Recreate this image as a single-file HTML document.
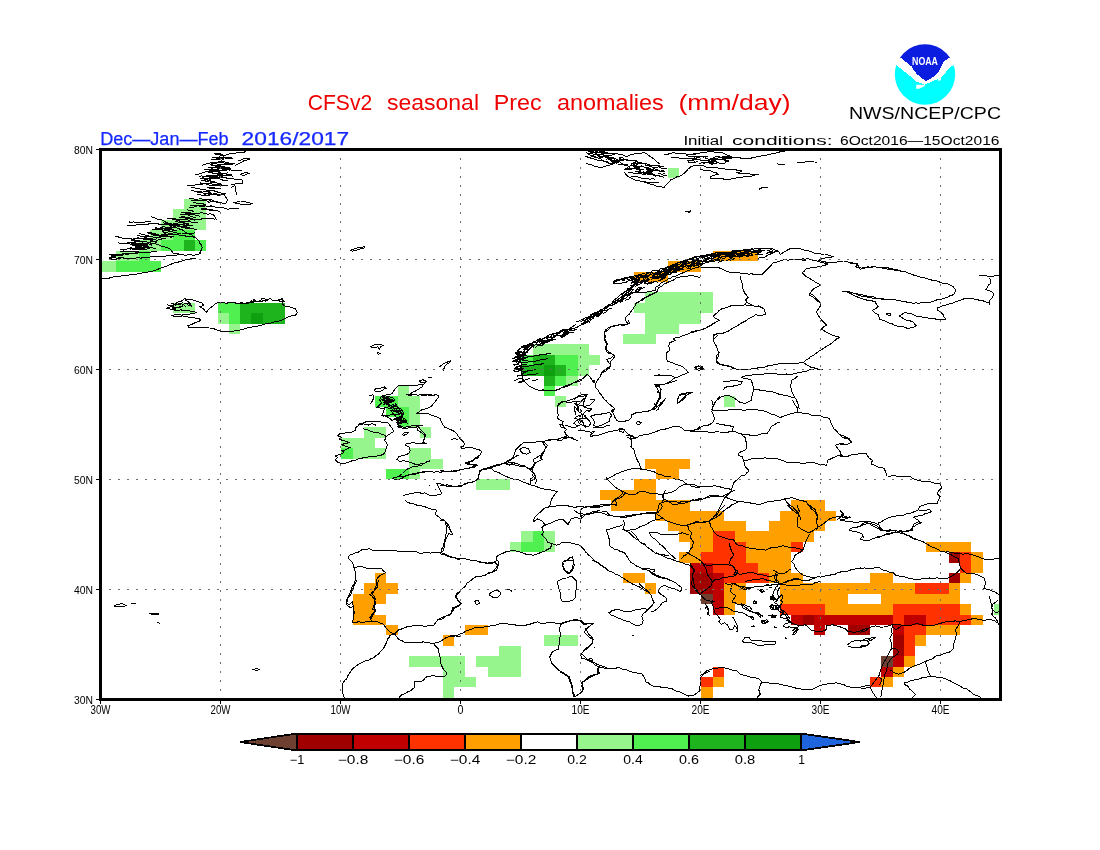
<!DOCTYPE html>
<html><head><meta charset="utf-8"><style>
html,body{margin:0;padding:0;background:#fff;}
svg{display:block;}
text{font-family:"Liberation Sans",sans-serif;}
.gs{filter:grayscale(1);}
.ns{filter:contrast(1.0001);}
</style></head><body>
<svg width="1100" height="850" viewBox="0 0 1100 850">
<rect width="1100" height="850" fill="#fff"/>
<clipPath id="mapclip"><rect x="100" y="149" width="901" height="551"/></clipPath>
<g clip-path="url(#mapclip)" shape-rendering="crispEdges">
<rect x="668" y="168" width="11" height="10" fill="#96f58c"/>
<rect x="184" y="199" width="22" height="10" fill="#96f58c"/>
<rect x="173" y="209" width="33" height="11" fill="#96f58c"/>
<rect x="161" y="220" width="45" height="10" fill="#96f58c"/>
<rect x="150" y="230" width="23" height="10" fill="#96f58c"/>
<rect x="173" y="230" width="22" height="10" fill="#50f050"/>
<rect x="139" y="240" width="22" height="11" fill="#96f58c"/>
<rect x="161" y="240" width="23" height="11" fill="#50f050"/>
<rect x="184" y="240" width="11" height="11" fill="#1eb41e"/>
<rect x="195" y="240" width="11" height="11" fill="#50f050"/>
<rect x="116" y="251" width="23" height="10" fill="#96f58c"/>
<rect x="139" y="251" width="11" height="10" fill="#50f050"/>
<rect x="713" y="251" width="45" height="10" fill="#ffa000"/>
<rect x="94" y="261" width="22" height="11" fill="#96f58c"/>
<rect x="116" y="261" width="45" height="11" fill="#50f050"/>
<rect x="668" y="261" width="33" height="11" fill="#ffa000"/>
<rect x="634" y="272" width="34" height="10" fill="#ffa000"/>
<rect x="645" y="292" width="68" height="11" fill="#96f58c"/>
<rect x="173" y="303" width="22" height="10" fill="#96f58c"/>
<rect x="218" y="303" width="22" height="10" fill="#50f050"/>
<rect x="240" y="303" width="45" height="10" fill="#1eb41e"/>
<rect x="634" y="303" width="79" height="10" fill="#96f58c"/>
<rect x="218" y="313" width="11" height="11" fill="#96f58c"/>
<rect x="229" y="313" width="11" height="11" fill="#50f050"/>
<rect x="240" y="313" width="11" height="11" fill="#1eb41e"/>
<rect x="251" y="313" width="12" height="11" fill="#0fa00f"/>
<rect x="263" y="313" width="22" height="11" fill="#1eb41e"/>
<rect x="645" y="313" width="56" height="11" fill="#96f58c"/>
<rect x="229" y="324" width="11" height="10" fill="#96f58c"/>
<rect x="645" y="324" width="34" height="10" fill="#96f58c"/>
<rect x="623" y="334" width="33" height="10" fill="#96f58c"/>
<rect x="533" y="344" width="56" height="11" fill="#96f58c"/>
<rect x="521" y="355" width="12" height="10" fill="#50f050"/>
<rect x="533" y="355" width="22" height="10" fill="#1eb41e"/>
<rect x="555" y="355" width="23" height="10" fill="#50f050"/>
<rect x="578" y="355" width="22" height="10" fill="#96f58c"/>
<rect x="521" y="365" width="23" height="11" fill="#1eb41e"/>
<rect x="544" y="365" width="11" height="11" fill="#0fa00f"/>
<rect x="555" y="365" width="11" height="11" fill="#1eb41e"/>
<rect x="566" y="365" width="12" height="11" fill="#50f050"/>
<rect x="578" y="365" width="11" height="11" fill="#96f58c"/>
<rect x="544" y="376" width="11" height="10" fill="#1eb41e"/>
<rect x="555" y="376" width="11" height="10" fill="#50f050"/>
<rect x="566" y="376" width="12" height="10" fill="#96f58c"/>
<rect x="398" y="386" width="11" height="10" fill="#96f58c"/>
<rect x="544" y="386" width="11" height="10" fill="#50f050"/>
<rect x="375" y="396" width="23" height="11" fill="#50f050"/>
<rect x="398" y="396" width="22" height="11" fill="#96f58c"/>
<rect x="555" y="396" width="11" height="11" fill="#96f58c"/>
<rect x="724" y="396" width="11" height="11" fill="#96f58c"/>
<rect x="386" y="407" width="23" height="10" fill="#50f050"/>
<rect x="409" y="407" width="11" height="10" fill="#96f58c"/>
<rect x="398" y="417" width="11" height="10" fill="#50f050"/>
<rect x="409" y="417" width="11" height="10" fill="#96f58c"/>
<rect x="364" y="427" width="22" height="11" fill="#96f58c"/>
<rect x="420" y="427" width="11" height="11" fill="#96f58c"/>
<rect x="341" y="438" width="34" height="10" fill="#96f58c"/>
<rect x="341" y="448" width="12" height="11" fill="#50f050"/>
<rect x="353" y="448" width="33" height="11" fill="#96f58c"/>
<rect x="409" y="448" width="22" height="11" fill="#96f58c"/>
<rect x="409" y="459" width="34" height="10" fill="#96f58c"/>
<rect x="645" y="459" width="45" height="10" fill="#ffa000"/>
<rect x="386" y="469" width="23" height="10" fill="#50f050"/>
<rect x="409" y="469" width="11" height="10" fill="#96f58c"/>
<rect x="656" y="469" width="23" height="10" fill="#ffa000"/>
<rect x="476" y="479" width="34" height="11" fill="#96f58c"/>
<rect x="634" y="479" width="22" height="11" fill="#ffa000"/>
<rect x="600" y="490" width="56" height="10" fill="#ffa000"/>
<rect x="611" y="500" width="79" height="11" fill="#ffa000"/>
<rect x="791" y="500" width="34" height="11" fill="#ffa000"/>
<rect x="656" y="511" width="68" height="10" fill="#ffa000"/>
<rect x="780" y="511" width="56" height="10" fill="#ffa000"/>
<rect x="668" y="521" width="78" height="10" fill="#ffa000"/>
<rect x="769" y="521" width="56" height="10" fill="#ffa000"/>
<rect x="521" y="531" width="12" height="11" fill="#96f58c"/>
<rect x="533" y="531" width="11" height="11" fill="#50f050"/>
<rect x="544" y="531" width="11" height="11" fill="#96f58c"/>
<rect x="679" y="531" width="34" height="11" fill="#ffa000"/>
<rect x="713" y="531" width="22" height="11" fill="#ff3200"/>
<rect x="735" y="531" width="79" height="11" fill="#ffa000"/>
<rect x="510" y="542" width="11" height="10" fill="#96f58c"/>
<rect x="521" y="542" width="23" height="10" fill="#50f050"/>
<rect x="544" y="542" width="11" height="10" fill="#96f58c"/>
<rect x="690" y="542" width="23" height="10" fill="#ffa000"/>
<rect x="713" y="542" width="33" height="10" fill="#ff3200"/>
<rect x="746" y="542" width="45" height="10" fill="#ffa000"/>
<rect x="791" y="542" width="12" height="10" fill="#ff3200"/>
<rect x="926" y="542" width="45" height="10" fill="#ffa000"/>
<rect x="679" y="552" width="22" height="11" fill="#ffa000"/>
<rect x="701" y="552" width="45" height="11" fill="#ff3200"/>
<rect x="746" y="552" width="45" height="11" fill="#ffa000"/>
<rect x="949" y="552" width="11" height="11" fill="#a00000"/>
<rect x="960" y="552" width="11" height="11" fill="#ff3200"/>
<rect x="971" y="552" width="12" height="11" fill="#ffa000"/>
<rect x="690" y="563" width="23" height="10" fill="#c00000"/>
<rect x="713" y="563" width="45" height="10" fill="#ff3200"/>
<rect x="758" y="563" width="33" height="10" fill="#ffa000"/>
<rect x="960" y="563" width="11" height="10" fill="#ff3200"/>
<rect x="971" y="563" width="12" height="10" fill="#ffa000"/>
<rect x="375" y="573" width="11" height="10" fill="#ffa000"/>
<rect x="623" y="573" width="22" height="10" fill="#ffa000"/>
<rect x="690" y="573" width="23" height="10" fill="#a00000"/>
<rect x="713" y="573" width="11" height="10" fill="#c00000"/>
<rect x="724" y="573" width="45" height="10" fill="#ff3200"/>
<rect x="769" y="573" width="34" height="10" fill="#ffa000"/>
<rect x="870" y="573" width="23" height="10" fill="#ffa000"/>
<rect x="949" y="573" width="11" height="10" fill="#a00000"/>
<rect x="960" y="573" width="11" height="10" fill="#ffa000"/>
<rect x="364" y="583" width="34" height="11" fill="#ffa000"/>
<rect x="645" y="583" width="11" height="11" fill="#ffa000"/>
<rect x="690" y="583" width="23" height="11" fill="#a00000"/>
<rect x="713" y="583" width="11" height="11" fill="#c00000"/>
<rect x="724" y="583" width="22" height="11" fill="#ffa000"/>
<rect x="780" y="583" width="135" height="11" fill="#ffa000"/>
<rect x="915" y="583" width="34" height="11" fill="#ff3200"/>
<rect x="949" y="583" width="11" height="11" fill="#ffa000"/>
<rect x="353" y="594" width="33" height="10" fill="#ffa000"/>
<rect x="701" y="594" width="12" height="10" fill="#6e4032"/>
<rect x="713" y="594" width="11" height="10" fill="#c00000"/>
<rect x="724" y="594" width="22" height="10" fill="#ffa000"/>
<rect x="780" y="594" width="68" height="10" fill="#ffa000"/>
<rect x="881" y="594" width="79" height="10" fill="#ffa000"/>
<rect x="353" y="604" width="22" height="11" fill="#ffa000"/>
<rect x="713" y="604" width="11" height="11" fill="#c00000"/>
<rect x="724" y="604" width="11" height="11" fill="#ffa000"/>
<rect x="780" y="604" width="45" height="11" fill="#ff3200"/>
<rect x="825" y="604" width="68" height="11" fill="#ffa000"/>
<rect x="893" y="604" width="67" height="11" fill="#ff3200"/>
<rect x="960" y="604" width="11" height="11" fill="#ffa000"/>
<rect x="994" y="604" width="11" height="11" fill="#96f58c"/>
<rect x="353" y="615" width="33" height="10" fill="#ffa000"/>
<rect x="791" y="615" width="12" height="10" fill="#c00000"/>
<rect x="803" y="615" width="11" height="10" fill="#a00000"/>
<rect x="814" y="615" width="79" height="10" fill="#c00000"/>
<rect x="893" y="615" width="11" height="10" fill="#ff3200"/>
<rect x="904" y="615" width="22" height="10" fill="#c00000"/>
<rect x="926" y="615" width="45" height="10" fill="#ff3200"/>
<rect x="971" y="615" width="12" height="10" fill="#ffa000"/>
<rect x="386" y="625" width="12" height="10" fill="#ffa000"/>
<rect x="465" y="625" width="23" height="10" fill="#ffa000"/>
<rect x="814" y="625" width="11" height="10" fill="#c00000"/>
<rect x="848" y="625" width="22" height="10" fill="#a00000"/>
<rect x="893" y="625" width="11" height="10" fill="#c00000"/>
<rect x="904" y="625" width="22" height="10" fill="#ff3200"/>
<rect x="926" y="625" width="34" height="10" fill="#ffa000"/>
<rect x="443" y="635" width="11" height="11" fill="#ffa000"/>
<rect x="544" y="635" width="34" height="11" fill="#96f58c"/>
<rect x="893" y="635" width="11" height="11" fill="#a00000"/>
<rect x="904" y="635" width="11" height="11" fill="#ff3200"/>
<rect x="915" y="635" width="11" height="11" fill="#ffa000"/>
<rect x="499" y="646" width="22" height="10" fill="#96f58c"/>
<rect x="893" y="646" width="11" height="10" fill="#a00000"/>
<rect x="904" y="646" width="11" height="10" fill="#ff3200"/>
<rect x="409" y="656" width="56" height="11" fill="#96f58c"/>
<rect x="476" y="656" width="45" height="11" fill="#96f58c"/>
<rect x="881" y="656" width="12" height="11" fill="#6e4032"/>
<rect x="893" y="656" width="11" height="11" fill="#c00000"/>
<rect x="904" y="656" width="11" height="11" fill="#ffa000"/>
<rect x="443" y="667" width="22" height="10" fill="#96f58c"/>
<rect x="488" y="667" width="33" height="10" fill="#96f58c"/>
<rect x="713" y="667" width="11" height="10" fill="#ff3200"/>
<rect x="881" y="667" width="12" height="10" fill="#c00000"/>
<rect x="893" y="667" width="11" height="10" fill="#ffa000"/>
<rect x="443" y="677" width="33" height="10" fill="#96f58c"/>
<rect x="701" y="677" width="12" height="10" fill="#ff3200"/>
<rect x="713" y="677" width="11" height="10" fill="#ffa000"/>
<rect x="870" y="677" width="11" height="10" fill="#ff3200"/>
<rect x="881" y="677" width="12" height="10" fill="#ffa000"/>
<rect x="443" y="687" width="11" height="11" fill="#96f58c"/>
<rect x="701" y="687" width="12" height="11" fill="#ffa000"/>
<rect x="443" y="698" width="11" height="10" fill="#96f58c"/>
<rect x="701" y="698" width="12" height="10" fill="#ffa000"/>
</g>
<g clip-path="url(#mapclip)" fill="none" stroke="#000" stroke-width="1" stroke-linejoin="round" shape-rendering="crispEdges">
<polyline points="100.0,279.4 102.9,278.4 105.2,278.3 108.5,278.4 111.4,277.3 113.6,276.9 116.4,277.0 118.8,276.6 121.4,275.9 124.8,275.9 127.0,275.6 130.4,274.6 132.8,274.8 136.1,274.5 138.5,273.3 142.1,273.0 144.0,272.2 147.4,272.1 150.2,271.6 152.6,271.1 154.7,270.2 157.2,269.8 159.4,268.5 162.0,267.5 165.4,266.5 168.5,265.4 171.1,264.2 174.4,262.9 176.9,262.3 180.2,261.7 182.8,260.6 185.9,259.8 189.3,259.3 192.7,258.5 195.7,258.0"/>
<polyline points="109.1,254.7 111.5,254.4 114.0,255.1 116.9,254.6 119.0,254.7 121.9,254.4 124.4,254.0 128.3,254.1 130.7,253.9 133.9,253.8 136.5,253.3 139.1,252.5 142.1,252.5 144.9,253.0 148.5,252.1 151.0,252.0 154.0,251.4 156.5,251.1"/>
<polyline points="116.4,258.0 119.4,258.1 121.3,257.9 124.1,258.0 126.7,258.8 129.2,258.4 132.0,258.0 135.6,258.2 137.5,257.6 140.4,258.1 143.8,257.8 146.8,257.4 148.7,257.1 152.5,256.9 154.7,256.6 158.1,256.8 160.0,256.4 163.6,256.1 166.1,256.0 169.3,255.7 171.4,255.4 174.3,255.8 177.4,254.8 179.5,254.6 182.0,254.7 185.0,255.2 186.9,255.0 189.8,254.6 192.5,255.1 194.8,255.1 198.3,254.2 201.2,253.3"/>
<polyline points="115.5,236.5 117.9,236.8 120.9,237.9 124.8,238.2 127.3,238.3 130.2,238.5 133.8,240.0 136.5,240.2 138.7,240.6 141.5,241.4 145.0,241.1 147.4,242.0 149.8,242.6 152.0,243.6 154.7,243.8 157.3,244.4 160.2,245.6 163.2,246.8 165.9,247.2 169.3,248.4 171.6,250.8 172.9,252.9 175.9,253.5 178.6,253.8 182.0,254.7"/>
<polyline points="118.2,242.9 120.8,243.2 123.4,243.0 126.0,243.7 129.2,243.8 131.4,244.4 134.7,243.7 136.5,244.5 139.1,244.1 141.9,244.7"/>
<polyline points="120.1,249.3 123.1,249.3 125.1,249.4 128.1,248.7 129.8,248.9 132.8,248.9 135.6,248.6 138.9,248.5 142.1,247.6 144.4,247.6 147.4,247.5 150.8,247.5 153.1,248.0 156.5,248.4"/>
<polyline points="127.3,225.6 129.8,225.1 132.2,225.7 134.9,225.4 137.6,224.3 140.1,224.7 143.6,224.8 146.5,224.8 149.2,223.7 151.8,223.6 154.7,223.7 157.3,223.5 160.0,224.7 162.6,224.7 165.6,224.7 168.3,224.8 171.6,225.7 173.9,225.6 176.6,225.6 178.9,225.8 182.6,226.6 184.8,227.2 187.5,227.4 190.1,228.1 193.6,229.0 196.6,229.2"/>
<polyline points="129.2,221.9 131.3,222.6 133.8,221.9 136.9,222.7 139.1,222.2 141.9,222.8 145.4,222.0 148.1,221.8 151.0,221.0"/>
<polyline points="151.0,216.5 153.7,217.5 156.5,218.8 158.9,219.4 162.0,220.1 164.4,221.4 167.6,222.6 170.0,224.5 172.9,225.6 175.2,226.9 178.9,228.9 180.7,229.4 183.9,231.0 186.0,232.7 189.1,233.9 191.2,234.7 193.4,236.1 196.4,238.6 198.5,240.2 199.8,243.1 201.1,244.5 202.1,247.5 201.1,250.4 199.4,253.8"/>
<polyline points="167.5,218.3 170.2,218.9 172.2,218.2 174.7,218.9 177.4,219.1 180.2,219.2 183.4,219.0 186.2,219.3 189.0,220.2 192.3,219.5 194.8,220.1 197.5,219.4 199.7,219.5 203.2,218.5 205.7,218.3 209.0,218.6 211.7,218.3 214.9,219.2"/>
<polyline points="160.2,229.2 162.2,230.2 165.7,230.4 168.2,231.0 170.0,231.0 172.9,232.0 175.4,232.8 178.7,233.3 181.6,233.0 183.9,233.8 186.3,233.1 189.6,233.7 192.0,233.2 194.8,232.9"/>
<polyline points="189.3,212.8 191.5,213.3 194.8,213.3 197.3,213.2 199.0,213.1 202.1,212.8 204.6,213.7 207.9,214.1 210.6,213.9 213.0,214.6 215.2,216.9 216.7,220.1"/>
<polyline points="189.3,207.3 192.3,207.4 194.1,207.0 196.9,206.0 199.9,205.6 202.1,205.5 204.5,205.5 207.7,206.6 211.4,206.4 213.9,206.9 216.7,207.3 219.9,207.8 222.6,207.8 225.4,208.4 227.6,209.2 230.9,208.7 232.7,208.6 236.1,208.3 238.6,208.3"/>
<polyline points="189.3,198.2 192.0,198.6 194.3,199.0 196.7,199.5 199.0,200.2 202.1,200.0 204.9,200.7 207.8,201.1 210.2,200.9 213.0,201.9 215.8,202.0 217.9,203.0 220.9,202.7 223.0,203.2 225.8,203.7 227.6,200.0 225.7,197.1 224.0,194.6"/>
<polyline points="187.5,185.5 189.8,185.1 193.5,185.2 196.2,184.9 198.5,184.6 201.0,184.4 203.4,183.9 206.6,184.0 209.4,183.6 212.3,184.1 214.8,184.2 217.6,185.4 220.3,185.5 224.3,185.1 227.6,185.5"/>
<polyline points="191.2,187.3 193.6,187.9 197.1,188.2 200.3,189.2 203.0,189.2 205.7,190.0 208.1,190.0 210.9,190.9 214.3,190.9 216.7,191.8 219.6,192.6 222.4,193.3 225.8,193.7"/>
<polyline points="196.6,192.8 199.2,192.7 201.9,192.6 204.6,193.6 206.4,193.4 209.4,193.7 211.9,194.4 215.2,193.5 217.9,194.6 221.0,194.7 224.0,194.6"/>
<polyline points="194.8,174.5 197.7,174.4 200.4,173.7 203.4,172.6 205.7,171.8 208.5,171.6 211.2,171.5 213.8,171.5 215.9,170.8 218.5,170.9 220.8,170.8 223.9,170.5 226.3,170.1 228.2,169.9 231.3,170.0 233.8,170.0 236.8,170.0 239.2,170.9 242.2,170.9"/>
<polyline points="198.5,176.3 201.4,175.9 203.8,176.4 206.6,176.0 209.4,176.3 212.2,177.0 215.3,176.9 218.5,177.2 220.9,176.5 224.0,177.3 226.5,178.0 229.8,178.7 232.1,178.9 234.9,179.1 238.6,179.7 242.2,180.0 242.2,183.6 239.2,183.6 236.7,183.6 233.8,184.5 231.3,184.6"/>
<polyline points="202.1,165.4 204.7,164.4 207.5,163.6 210.4,162.8 213.0,162.7 215.7,162.5 218.0,162.4 220.8,161.9 224.0,161.8 225.9,162.2 228.5,162.8 231.3,163.6"/>
<polyline points="218.5,156.3 221.8,155.6 224.9,155.4 227.6,154.5 230.1,153.6 232.6,153.6 236.4,152.9 238.6,152.6 242.4,152.5 245.9,151.7"/>
<polyline points="234.9,165.4 237.5,164.5 240.3,162.6 242.2,161.8 244.1,160.5 246.7,160.1 249.5,159.0 246.8,158.3 244.0,158.1 241.5,159.8 238.6,160.9"/>
<polyline points="240.4,174.5 242.8,173.5 245.9,172.3 249.5,173.6 247.0,174.1 244.0,175.4 240.4,174.5"/>
<polyline points="231.3,187.3 234.9,185.5 235.9,189.0 235.7,191.0 236.7,194.6"/>
<polyline points="233.1,202.8 235.3,202.4 238.5,201.5 240.4,201.0 243.7,201.1 246.7,202.3 249.5,202.8 252.2,203.7 249.1,204.3 247.1,204.4 244.0,204.6 240.9,204.7 238.9,203.5 235.7,203.1 233.1,202.8"/>
<polyline points="209.4,172.7 212.4,172.8 215.9,173.7 218.5,173.6 221.1,174.7 224.7,175.2 227.6,175.4 230.6,175.8 233.1,176.3"/>
<polyline points="207.6,167.2 210.6,168.0 212.8,168.0 215.8,167.9 218.5,168.1 221.0,168.6 223.4,168.9 226.5,168.2 229.1,168.6 231.3,169.1"/>
<polyline points="209.4,178.2 212.1,178.5 214.7,178.1 218.0,178.5 220.3,179.1 222.4,180.0 225.0,180.7 227.6,180.9"/>
<polyline points="191.2,190.9 194.1,190.9 196.1,191.9 198.9,191.9 202.1,191.8"/>
<polyline points="202.1,209.2 204.8,209.7 207.8,209.8 210.3,210.2 213.0,210.1 215.0,210.4 218.1,211.1 220.3,211.9"/>
<polyline points="176.6,234.7 179.4,235.1 182.1,235.5 185.0,235.9 187.5,236.5 191.4,236.7 194.8,237.4"/>
<polyline points="350.7,250.2 354.7,248.9 357.2,247.9 360.2,247.8 364.7,246.5 363.8,248.4 360.7,248.6 358.3,249.6 355.2,250.7 352.0,251.1 350.7,250.2"/>
<polyline points="624.0,171.8 625.5,173.8 627.6,176.3 630.0,177.8 633.0,178.8 634.9,180.0 637.4,180.2 640.0,181.1 642.8,181.5 645.9,182.7 648.6,183.4 651.8,184.6 654.3,185.1 656.8,186.4 660.8,186.8 664.1,187.3 667.0,184.0 669.4,181.9 671.0,179.6 674.0,178.5 676.6,176.9 679.9,176.3 682.6,174.6 684.7,172.7 686.5,171.1 688.3,168.9 691.1,166.5 693.3,165.8 696.6,165.7 699.8,165.3 702.0,165.4"/>
<polyline points="585.7,152.6 589.0,153.4 592.1,153.6 594.8,154.5 597.3,155.0 599.6,156.1 602.1,156.3 605.1,157.0 607.1,158.2 609.4,159.0 612.1,160.7 613.9,161.1 616.7,162.7 614.4,163.2 611.5,164.0 609.4,165.4 606.4,166.0 604.6,166.4 602.1,167.2 598.2,167.0 594.8,166.3 592.0,165.1 588.9,164.4 585.7,162.7"/>
<polyline points="625.8,169.1 628.7,168.8 631.1,168.8 633.4,168.0 636.2,168.0 638.6,167.2 641.8,166.8 644.0,167.0 647.6,167.3 650.0,166.8 653.1,167.2 656.1,167.2 659.1,166.8 661.3,166.1 664.1,166.3"/>
<polyline points="627.6,172.7 629.8,172.9 632.9,172.9 635.4,173.9 638.6,173.6 641.5,173.9 644.2,174.5 646.4,173.9 648.3,174.6 651.3,174.5 654.3,175.3 657.9,175.4 660.4,176.3"/>
<polyline points="631.3,176.3 633.9,176.9 636.4,176.6 638.8,177.3 641.7,178.2 644.0,178.2 646.6,178.6 649.3,179.1 652.6,178.9 655.0,179.1"/>
<polyline points="642.2,181.8 644.9,181.8 647.5,182.8 650.3,182.5 653.1,182.7 656.4,182.9 658.6,182.7"/>
<polyline points="587.5,151.7 590.5,151.8 593.0,151.9 596.5,152.4 599.5,152.1 602.1,152.6 605.1,153.3 607.9,153.2 610.4,153.7 613.9,153.1 616.7,153.6 619.0,154.3 622.2,154.5 625.4,156.1 627.6,156.3 630.0,155.0 632.8,154.5 634.9,153.6 638.2,153.3 640.7,153.3 644.0,152.6 647.0,153.9 648.9,155.6 651.3,157.2 654.5,159.5 656.8,161.8 660.4,164.5"/>
<polyline points="664.1,154.5 667.5,154.3 669.9,153.6 673.2,152.6 676.1,153.4 679.3,153.6 682.3,153.6 685.1,153.6 688.5,154.7 691.4,154.5 694.3,153.8 697.2,153.7 700.0,153.6"/>
<polyline points="671.4,157.2 674.2,157.5 676.8,157.5 679.2,158.1 682.3,158.1 685.4,158.1 688.7,158.2 691.4,159.0 694.6,158.6 697.5,157.7 700.0,157.2"/>
<polyline points="631.3,163.6 635.1,163.5 638.6,162.7 642.7,163.1 645.9,163.6 648.1,164.5 651.3,165.4 654.5,165.8 657.8,165.3 660.4,165.4"/>
<polyline points="591.2,156.3 593.6,156.9 596.3,157.4 598.5,158.1 601.1,159.0 603.3,161.1 605.7,161.8 608.0,162.9 610.8,164.0 613.0,164.5"/>
<polyline points="596.6,159.9 600.7,160.8 603.9,160.9 606.5,161.6 609.4,162.7"/>
<polyline points="685.1,211.0 688.0,211.3 690.5,211.0 688.7,212.8"/>
<polyline points="634.9,304.0 637.6,302.1 639.0,301.4 642.2,300.4 644.0,298.5 646.7,297.2 648.4,296.2 651.3,294.9 654.5,293.4 656.8,292.1 658.6,287.6 661.6,286.2 664.1,283.9 666.6,283.0 669.9,281.3 673.2,280.3 676.8,277.5 679.2,277.1 682.3,276.6 686.0,276.5 689.6,275.7 692.9,275.7 696.9,276.6 700.0,277.5"/>
<polyline points="700.0,152.6 703.1,152.6 705.2,152.6 707.8,151.9 710.9,151.7 713.4,151.7 715.9,152.5 719.6,152.6 721.9,152.6 724.2,153.7 727.2,155.0 730.2,156.0 732.8,157.2 735.1,157.9 737.6,157.8 740.5,158.0 743.1,158.7 745.6,159.0 748.7,158.3 751.2,158.1 753.0,157.5 756.0,157.1 758.3,156.3 760.6,156.0 763.8,155.8 766.3,155.3 769.3,154.5 772.1,153.6 774.9,153.2 777.7,152.7 780.2,151.7 783.1,151.7 785.7,150.8"/>
<polyline points="700.0,159.9 703.2,160.7 706.2,160.3 709.1,160.9 712.1,161.5 715.4,161.6 718.2,162.7 714.4,163.4 710.9,163.6"/>
<polyline points="700.0,165.4 702.7,165.6 706.1,167.1 709.1,167.2 712.2,168.0 715.6,167.6 718.2,168.1 722.2,168.6 725.5,169.1 728.6,169.6 730.8,169.1 734.2,169.3 736.5,170.0 739.7,170.8 741.9,170.9 739.4,172.3 736.5,172.7 739.7,173.3 741.8,173.5 744.1,173.4 747.4,173.6 750.1,174.0 753.1,174.2 756.0,174.8 758.3,174.5 755.2,174.7 752.3,175.9 750.2,176.3 747.4,176.3 744.2,176.2 741.9,177.5 738.4,177.3 735.3,178.3 732.8,178.2 729.2,180.0 726.5,179.4 723.9,179.2 721.9,178.2 718.7,178.1 716.6,178.4 714.2,178.1 710.9,178.2 710.9,176.3 713.6,175.4 715.7,174.7 718.2,174.5 716.4,172.7 713.4,172.0 710.8,171.0 707.3,170.9 704.7,170.2 702.9,170.1 700.0,169.1"/>
<polyline points="776.6,163.6 780.2,164.5 784.8,164.5"/>
<polyline points="796.6,162.7 799.2,162.6 802.8,162.6 805.7,161.8 808.3,161.7 810.9,161.5 814.3,162.0 816.7,162.1"/>
<polyline points="759.3,189.1 762.9,187.3 765.8,187.3 768.4,186.9"/>
<polyline points="700.0,265.7 702.8,263.8 705.5,262.9 708.5,261.3 710.9,260.2 712.8,258.4"/>
<polyline points="712.8,257.5 714.8,256.8 717.1,256.3 719.7,254.9 722.9,254.3 724.5,254.1 727.3,252.9 729.4,252.9 732.2,251.7 734.9,251.4 737.9,250.8 739.8,251.3 742.7,250.4 745.6,250.2 747.8,249.3 750.9,249.5 753.5,249.1 756.1,248.7 758.3,248.4 761.6,248.4 765.6,248.4 769.8,248.1 772.9,248.9 776.0,250.4 778.4,251.1 780.2,254.7 783.9,252.0 786.3,250.7 789.2,249.1 791.2,248.4 793.9,248.5 796.8,248.8 799.8,248.6 802.1,249.3 804.1,250.0 806.5,250.2 809.4,251.1 812.6,252.1 815.3,253.5 818.5,253.8 821.6,254.1 824.7,254.0 827.6,254.7 830.6,256.0 833.1,256.6 830.2,257.5 827.3,257.5 824.0,258.4 821.2,259.0 818.5,260.2 821.4,261.1 824.5,261.6 827.6,262.9 830.6,262.8 833.6,262.0 836.7,262.0 840.2,261.3 843.2,261.0 845.9,261.1 848.1,262.1 851.7,262.6 854.2,263.2 856.8,263.9 858.4,266.2 860.4,269.3 862.7,268.6 865.6,267.9 867.7,266.6 870.7,267.3 873.3,266.9 876.0,267.0 878.7,267.5 881.4,267.6 883.3,268.6 886.2,268.9 889.0,269.3 891.4,269.3 894.7,270.2 897.5,270.1 900.0,270.2"/>
<polyline points="758.3,258.4 760.9,257.3 763.7,257.5 765.6,256.6 767.8,255.0 770.7,253.9 772.9,252.9 775.5,251.5 778.4,251.1"/>
<polyline points="700.0,267.5 703.0,267.6 705.1,267.1 708.0,267.0 710.7,267.2 712.9,267.3 715.5,267.7 718.2,267.5 721.3,268.7 723.2,269.3 726.1,271.1 729.2,272.1 732.3,272.2 735.2,272.8 737.9,272.9 741.1,273.1 743.8,273.9 746.3,273.8 749.2,274.1 751.8,273.8 754.1,274.5 756.2,274.3 759.1,274.3 762.0,274.8 763.5,272.8 765.1,271.4 767.1,269.2 769.3,267.5 771.3,265.2 772.9,262.9 776.3,262.4 778.5,261.5 782.0,260.2 784.5,259.5 788.3,260.2 790.9,259.7 793.9,259.4 796.6,259.3 799.2,259.1 802.5,260.2 805.7,260.2"/>
<polyline points="802.1,258.4 805.0,259.2 808.0,258.8 810.7,259.5 813.0,260.2 815.6,260.8 817.8,261.2 820.3,262.0 822.6,262.5 824.8,263.3 827.6,263.9 824.0,265.7 820.8,266.1 819.0,266.4 816.0,267.4 813.0,267.5 811.0,267.8 807.8,268.4 805.7,269.3 804.0,271.4 802.1,273.0 804.1,274.4 805.7,276.6 808.5,277.8 810.9,279.3 813.0,280.3 815.4,282.3 818.0,283.5 820.3,284.8 818.0,286.7 815.6,287.5 813.0,289.4 810.7,292.1 809.4,294.9 811.9,296.4 814.9,298.5 817.1,300.8 820.3,303.1"/>
<polyline points="740.1,276.6 740.8,279.0 741.4,281.8 742.8,283.9 742.8,288.0 743.8,291.2 746.0,294.1 747.4,296.7 746.8,299.1 746.2,301.9 745.6,304.0"/>
<polyline points="842.2,291.2 845.4,291.6 848.0,292.3 850.2,292.5 853.1,293.0 855.5,293.5 858.2,295.3 861.2,296.0 864.1,296.7 866.8,296.8 869.3,297.5 872.2,298.1 875.0,298.5 877.4,298.6 880.3,298.9 883.0,299.3 886.0,299.4 889.1,299.8 891.1,299.3 894.6,299.7 897.4,300.3 900.0,300.3"/>
<polyline points="849.5,293.0 852.4,294.7 854.2,295.6 856.8,296.7 858.8,297.4 862.2,298.7 864.1,299.4"/>
<polyline points="714.6,252.9 717.5,252.7 721.1,252.1 723.7,252.0 726.1,252.7 729.2,252.9 731.7,253.4 734.1,253.5 736.5,253.8 739.4,253.3 741.8,252.8 744.3,252.1 747.4,252.0 751.5,251.5 754.7,251.1"/>
<polyline points="718.2,256.6 720.7,255.9 723.2,256.5 726.0,256.2 729.2,255.7 732.3,256.5 734.1,256.4 737.7,256.6 740.1,257.5"/>
<polyline points="850.0,263.9 853.4,263.1 857.1,263.2 855.6,266.7 858.8,267.7 861.3,268.1 864.9,267.4 867.8,267.3 871.2,267.0 874.2,266.9 876.8,267.1 879.9,267.5 882.5,267.6 885.6,267.9 888.5,268.0 890.9,268.4 894.0,269.6 896.1,269.5 898.6,270.4 901.8,271.4 904.2,271.3 906.4,272.3 909.0,273.5 912.5,274.4 914.5,275.7 918.1,276.1 920.6,277.3 923.7,277.7 926.7,278.3 929.0,279.9 931.5,280.0 934.7,280.8 937.3,281.0 939.8,282.2 942.9,283.5 945.8,283.1 948.8,284.3 953.0,286.4 954.9,288.9 955.8,290.7 954.6,293.1 953.0,294.9 949.8,295.7 947.7,297.2 944.2,298.3 941.7,299.2 938.9,299.3 935.6,300.3 933.6,301.3 930.7,302.0 927.6,302.7 924.4,302.6 921.8,302.5 919.1,303.4 916.3,302.8 913.5,303.4 911.1,302.9 907.3,302.3 904.8,301.3 902.1,301.3 899.4,300.6 896.3,300.2 893.9,299.5 891.4,299.2 888.1,299.4 885.3,299.2 883.0,298.8 879.5,298.3 877.0,298.4 873.7,296.9 871.2,297.0 868.7,296.2 865.8,295.8 862.7,294.9 860.2,294.7 856.9,293.5 854.2,293.5 850.0,292.1"/>
<polyline points="850.0,292.8 852.9,294.9 855.6,296.3 858.1,297.6 861.3,298.4 864.1,299.2 867.1,300.2 869.3,300.9 872.5,301.0 875.4,302.0 876.3,304.1 878.2,306.9 874.9,309.2 872.6,310.4 875.4,313.1 878.2,314.7 879.0,316.9 879.6,319.6 883.4,320.3 886.7,321.7 889.0,323.1 892.0,323.7 893.7,324.8 896.6,326.0 899.5,326.7 902.1,326.7 904.7,327.2 906.7,328.1 909.3,328.1 912.8,327.4 916.3,326.0 913.5,322.4 910.2,320.9 906.4,320.3 904.2,319.3 901.8,317.3 899.4,316.1 901.8,314.5 905.0,312.6 908.4,313.4 912.1,314.0 914.8,315.6 917.7,316.8 920.4,316.6 923.8,317.3 926.8,317.6 929.0,318.2 932.4,319.0 934.7,318.9 937.0,319.2 940.2,319.6 943.3,319.9 946.0,319.6 944.2,317.3 943.1,314.7 940.6,312.0 937.5,310.4 937.5,307.6 939.8,307.0 943.0,305.7 946.0,305.1 948.8,304.1 951.8,303.6 954.3,302.4 957.3,301.2 960.0,300.3 962.9,299.2 965.4,298.5 968.8,298.7 971.4,298.4 974.1,299.0 976.7,299.2 979.8,300.6 982.7,300.6 985.9,302.1 989.7,302.7"/>
<polyline points="979.1,275.2 982.3,275.1 985.5,275.9 988.7,276.2 991.1,276.6 994.4,276.0 996.3,275.8 999.6,275.2"/>
<polyline points="989.7,278.0 990.4,280.6 990.4,283.6 988.6,285.0 987.2,287.8 985.5,289.3 988.2,290.4 990.7,291.3 992.5,292.1 993.9,294.9 992.2,297.7 989.7,300.6 989.7,304.8"/>
<polyline points="886.0,313.3 890.2,313.3 890.2,315.4 886.7,314.7 886.0,313.3"/>
<polyline points="165.8,309.0 167.8,307.5 170.3,306.9 173.1,305.4 175.5,303.6 178.9,301.7 181.7,300.6 184.7,298.8 187.7,299.3 190.5,299.5 193.0,300.1 196.4,301.0 199.8,302.3 202.2,303.2 203.6,305.4 199.3,306.8 203.6,309.0 206.5,312.6 208.0,309.7 210.9,307.5 213.1,306.0 215.3,303.9 218.2,302.5 222.2,302.3 225.5,303.2 229.6,302.8 232.7,302.2 235.6,302.9 238.4,303.7 241.5,303.9 244.7,303.6 246.9,303.5 250.2,302.5 252.7,302.5 254.8,301.3 257.4,301.0 260.4,301.0 261.8,298.8 264.5,299.0 267.5,299.3 270.5,298.8 273.5,301.0 277.5,300.7 280.7,299.5 283.6,300.3 282.2,303.9 284.1,305.5 286.5,306.8 289.5,306.9 292.1,307.8 295.3,308.3 297.5,312.6 295.3,315.5 291.6,315.9 288.0,317.0 285.6,318.1 282.2,319.9 279.4,320.9 276.5,321.7 273.5,322.1 270.6,323.2 267.1,323.0 264.7,324.3 262.3,324.9 259.8,325.7 257.0,326.1 254.5,326.5 250.9,327.3 247.3,327.9 244.1,329.1 241.5,329.4 238.5,330.4 235.8,330.6 232.7,331.5 229.7,331.1 227.6,331.5 224.8,331.7 222.5,331.5 219.9,331.1 218.0,330.5 215.3,329.4 212.9,328.2 209.3,328.0 206.5,327.2 202.7,327.1 199.3,327.2 196.5,327.1 193.7,327.3 191.5,327.9 189.1,327.9 187.6,325.7 190.3,325.0 193.5,323.5 195.5,322.4 198.4,321.4 200.7,320.6 199.3,318.5 195.9,318.1 192.0,317.7 188.4,317.0 184.7,316.3 182.0,315.9 180.1,316.5 177.6,316.3 174.5,316.7 171.6,315.5 175.1,314.7 178.9,314.8 181.4,315.1 184.2,314.4 186.6,314.7 189.1,314.1 192.7,313.8 196.4,312.6 193.5,311.2 191.2,311.3 188.2,310.7 185.9,310.3 183.3,310.5 180.8,309.8 178.2,310.4 175.4,310.4 173.1,309.7 169.7,308.9 165.8,309.0"/>
<polyline points="174.5,305.4 178.7,304.5 181.8,303.9 184.3,305.2 186.2,306.8"/>
<polyline points="184.7,299.5 187.4,301.3 189.1,302.5 190.5,303.9"/>
<polyline points="173.1,306.8 175.7,307.2 178.9,307.5 183.3,306.1"/>
<polyline points="370.1,346.8 374.0,344.9 376.6,344.2 379.2,344.5 383.1,345.3 380.5,346.8 379.2,349.4 377.9,346.8 374.0,347.5 370.1,346.8"/>
<polyline points="376.6,352.6 380.5,353.3 378.5,354.3 376.6,352.6"/>
<polyline points="439.4,366.9 442.6,364.3 446.5,362.4 450.4,360.8 449.7,362.4 446.5,364.3 444.8,366.4 443.9,368.8 443.2,371.4"/>
<polyline points="419.3,380.5 423.2,379.8 426.4,381.5 424.5,383.1 420.6,382.4 419.3,380.5"/>
<polyline points="427.7,378.1 431.6,377.6"/>
<polyline points="398.6,385.6 401.2,385.6 403.8,385.6 407.1,385.7 410.2,385.6 412.6,385.6 415.0,385.8 418.0,385.0 420.9,384.5 423.2,384.4 421.9,386.9 418.0,389.5 415.2,391.2 412.8,392.1 408.9,394.7 412.2,394.9 415.4,394.7 417.8,395.1 420.4,394.9 423.7,394.8 426.1,395.0 428.4,394.7 431.6,394.7"/>
<polyline points="398.6,385.6 396.9,387.1 394.7,389.5 392.1,393.4 389.5,394.6 386.9,394.7 384.7,395.7 381.8,396.0 379.2,399.9 381.8,402.5 379.3,405.3 376.6,407.6 379.3,407.7 381.9,408.6 384.4,408.9 383.4,411.8 381.8,415.4 384.6,415.5 386.9,416.7 390.8,419.3 392.1,420.6 396.0,418.0 397.1,420.2 397.3,423.2 398.6,427.1 400.6,427.5 403.8,428.4 406.6,428.2 410.2,427.7 412.7,427.6 415.9,427.3 418.0,426.4 420.9,425.6 423.2,425.8"/>
<polyline points="418.0,426.4 420.6,429.7 423.2,432.2 425.8,434.8 424.5,438.7"/>
<polyline points="380.5,397.3 382.7,396.3 385.6,396.0 388.7,396.8 392.1,397.3 394.7,399.9 390.8,402.5 388.3,402.3 385.6,402.5 388.2,405.1 391.1,406.2 394.7,406.4 398.6,407.6 402.5,410.2 403.8,414.1 399.9,416.7 397.3,419.3 399.7,419.8 402.5,420.6 404.4,418.0"/>
<polyline points="381.8,399.9 384.7,400.3 387.1,400.5 389.5,400.5"/>
<polyline points="384.4,407.6 387.1,407.7 389.3,408.6 392.1,408.9 394.4,411.4 397.3,412.8"/>
<polyline points="383.1,416.1 385.4,415.5 388.2,415.4 390.5,415.0 393.4,414.1"/>
<polyline points="374.0,389.5 376.4,388.7 379.2,388.2 382.2,387.9 384.4,386.9 386.3,388.2 383.8,389.1 381.8,390.8 377.9,392.1 374.0,390.8"/>
<polyline points="369.5,396.0 372.7,394.7 374.0,397.3 372.9,399.8 371.4,402.5 370.1,403.8"/>
<polyline points="406.4,394.7 410.2,395.4 414.1,394.7"/>
<polyline points="355.5,427.6 357.9,426.1 359.3,423.8 363.0,423.2 365.6,421.9 368.0,421.5 371.0,421.3 373.3,421.3 375.8,421.2 378.3,421.4 380.9,421.9 384.1,422.7 387.3,422.5 389.8,425.1 392.4,428.9 393.6,431.5 389.8,434.0 386.0,436.5 384.7,440.4 387.3,444.2 386.9,446.3 386.0,449.3 384.9,451.9 383.5,454.4 379.6,455.6 376.2,456.1 373.3,456.3 370.8,456.7 368.2,456.9 364.5,457.5 361.8,458.2 358.9,458.7 355.5,460.1 352.6,460.5 349.1,462.0 346.0,463.1 342.7,463.3 340.1,463.1 337.6,462.0 335.1,459.5 337.6,457.5 335.1,455.6 338.1,455.0 340.2,454.4 344.0,452.5 341.5,450.5 343.7,450.4 346.5,449.3 350.4,447.4 347.6,446.9 345.3,446.1 341.5,444.8 344.4,443.7 346.5,443.5 349.1,442.3 346.0,441.4 342.7,440.4 338.9,439.1 341.5,437.2 337.6,435.9 340.2,433.4 343.6,433.5 346.5,432.7 349.5,432.1 351.6,432.1 355.5,430.2 355.5,427.6"/>
<polyline points="363.1,428.9 366.1,429.2 368.2,430.2 371.2,431.7 373.3,432.1 375.7,432.4 378.4,432.7 381.4,434.2 383.5,434.6 386.0,436.5"/>
<polyline points="358.0,425.1 361.0,424.9 363.1,423.8 365.1,424.5 368.2,425.1 372.0,423.8 375.8,425.1"/>
<polyline points="397.5,422.5 398.9,425.0 401.3,426.4 403.6,427.2 406.4,427.0 409.6,426.4 412.7,425.7 416.4,425.8 419.1,425.1 423.5,425.3"/>
<polyline points="402.5,434.6 405.1,432.1 408.3,432.1 406.4,434.6 403.2,435.3 402.5,434.6"/>
<polyline points="416.5,426.4 417.8,430.2 421.6,432.7 424.8,435.3 424.2,439.1 422.9,442.3 426.7,443.5 424.1,443.2 421.6,443.5 418.7,443.0 416.5,443.3 414.0,442.8 411.5,442.9 408.6,443.5 406.4,443.5 405.1,445.5 408.9,446.7 410.2,450.5 408.9,453.1 406.7,454.4 403.8,455.6 401.6,455.9 398.7,456.9 396.8,459.5 400.0,461.4 403.8,460.7 406.8,461.8 408.9,462.0 411.8,463.0 414.0,463.9 416.1,464.4 419.1,464.5 421.3,463.5 424.2,463.3 427.2,461.7 430.5,460.7"/>
<polyline points="430.5,460.7 427.1,461.7 424.2,463.3 421.9,465.0 419.1,465.8 416.3,466.5 413.5,466.8 411.5,467.1 407.6,469.0 405.3,470.7 402.5,473.5 398.7,476.6 395.1,477.4 392.4,478.5 394.8,479.2 397.5,479.8 401.1,478.8 403.8,477.3 406.2,475.6 408.9,474.7 411.9,474.1 414.1,473.6 416.5,473.5 418.7,472.4 421.6,472.2 424.5,472.1 426.6,471.8 429.3,471.5"/>
<polyline points="402.5,496.4 406.4,494.5 409.5,493.9 412.7,493.2 416.1,492.6 419.1,492.5 421.4,493.3 424.6,492.9 426.7,493.8 429.2,495.0 431.8,495.7 433.9,495.5 436.9,495.1 439.0,494.5 442.0,493.8 440.7,491.4 439.5,488.7 437.8,486.0 436.9,483.6 439.5,483.5 442.0,484.3 444.2,485.3 447.1,486.2 449.2,486.4 452.5,486.6 454.7,486.8 457.9,486.5 461.1,486.2 464.9,483.6 467.0,483.0 470.0,482.4"/>
<polyline points="428.6,485.5 430.5,486.2"/>
<polyline points="434.4,488.7 435.6,489.4"/>
<polyline points="655.6,290.0 653.4,290.8 650.4,291.4 648.3,291.7 645.5,292.2 642.0,292.2 639.2,293.0 637.2,292.1 634.3,292.2 630.9,292.9 627.9,294.4 625.4,295.9 622.2,296.5 619.9,298.2 617.9,299.8 614.9,301.6 612.4,303.5 609.1,304.5 606.8,306.9 604.7,308.9 603.0,310.9 601.0,312.6 598.9,314.7 595.6,315.7 593.1,316.9 590.2,317.6 587.5,319.0 584.8,321.3 582.9,323.5 580.7,325.0 578.1,326.7 575.6,327.8 572.9,328.4 570.5,329.8 568.4,330.0 565.0,330.3 561.1,331.5 559.0,332.1 556.5,333.3 553.8,333.6 550.9,334.3 548.5,335.1 546.5,336.5 544.2,338.0 541.2,339.2 539.3,340.2 536.3,341.0 533.5,342.4 530.7,343.7 528.1,344.3 526.2,345.3 523.0,347.1 520.4,348.2 517.5,351.1 519.2,353.1 520.4,355.5 518.9,359.8 520.5,362.2 521.8,364.2 521.3,366.9 521.1,370.0 521.8,374.4 522.5,378.7 524.0,381.1 526.2,383.1 529.1,386.0 531.7,387.2 534.9,388.9 538.1,390.1 542.2,390.4 545.2,390.8 547.6,390.3 550.0,390.9 553.1,390.6 555.3,390.4 558.5,389.2 561.0,388.0 564.0,387.5 566.8,386.3 569.8,384.9 572.7,383.1 575.4,381.9 578.5,380.2 581.8,379.2 584.4,377.3 587.3,374.4 590.2,377.3 592.4,380.7 594.5,383.1"/>
<polyline points="520.4,358.4 523.3,357.5 525.9,357.1 529.1,356.9 532.2,356.9 535.3,355.5 537.8,355.5 541.0,354.6 543.4,354.7 546.5,354.0 550.9,353.3"/>
<polyline points="521.8,362.7 524.5,362.8 526.6,362.3 529.7,361.7 532.0,361.3 534.9,361.2 537.6,360.8 540.7,359.8 543.8,359.6 548.0,358.4"/>
<polyline points="521.8,367.1 525.2,366.2 528.2,366.1 530.5,365.6 533.9,365.0 537.8,364.2 540.4,364.3 543.6,363.5"/>
<polyline points="521.8,371.5 525.5,371.4 529.1,370.7 532.6,370.0 536.4,369.3"/>
<polyline points="523.3,375.8 526.0,375.1 529.1,374.8 532.0,374.4 534.5,374.5 537.8,373.6"/>
<polyline points="532.0,380.2 534.9,380.2 537.8,379.5"/>
<polyline points="657.1,291.5 655.2,292.5 652.3,293.9 649.8,294.6 647.5,296.6 645.5,297.3 643.4,298.6 640.7,300.0 638.8,302.0 636.7,303.1 635.3,305.4 633.8,307.5 632.6,309.4 630.9,311.8 629.3,314.3 627.2,315.7 625.1,317.6 626.2,321.2 628.0,324.2 624.7,324.7 622.2,325.1 619.3,324.9 616.4,325.8 613.0,325.9 610.5,327.1 609.0,329.3 606.9,330.8 604.7,332.2 604.6,335.5 604.7,338.0 605.9,341.1 607.6,343.8 606.4,346.7 606.2,349.6 609.0,351.9 612.0,354.0 614.9,356.2 612.9,358.9 610.5,361.3 610.5,365.6 608.3,367.4 606.2,369.3 603.5,371.1 601.8,372.9 600.4,376.5 597.5,380.2 596.0,383.1"/>
<polyline points="556.7,406.4 558.4,404.2 561.1,402.0 564.5,401.8 568.4,400.5 570.3,399.9 573.4,398.9 575.6,397.6 579.0,395.7 581.5,394.7 583.9,394.0 587.3,394.0 585.8,397.6 583.3,399.1 581.5,400.5 580.3,402.5 578.5,404.9 581.3,405.5 584.4,406.4 587.2,405.7 590.2,404.9 592.9,402.4 594.5,400.5"/>
<polyline points="590.2,399.8 594.5,399.1"/>
<polyline points="654.2,375.8 657.3,375.5 660.0,374.4"/>
<polyline points="654.2,384.5 657.3,385.7 660.0,386.0"/>
<polyline points="657.1,391.8 660.0,393.3"/>
<polyline points="654.2,403.5 657.1,406.4"/>
<polyline points="540.0,390.2 543.2,389.9 545.7,390.5 548.2,390.1 551.3,390.8 554.5,390.9 557.0,390.1 559.7,389.1 561.7,387.7 564.7,386.5 567.1,385.1 571.0,384.8 573.4,382.8 576.4,382.2 578.8,381.6 582.2,380.0"/>
<polyline points="593.8,380.0 595.0,383.0 595.3,385.8 596.2,388.5 598.2,390.2 599.4,392.9 601.1,394.5 602.6,397.0 604.0,398.9 606.4,401.0 608.4,403.3 610.1,404.7 612.7,406.9 614.9,409.1 612.7,412.0 614.2,415.6 615.4,418.5 617.1,420.7 619.9,421.5 622.9,421.5 625.6,421.0 628.7,420.0 631.6,417.8 631.6,414.9 636.0,412.7 638.5,412.9 641.8,412.0 645.0,411.6 647.6,411.3 652.0,409.8 654.7,406.8 656.4,404.7 657.7,402.7 659.1,400.2 660.7,397.5 660.1,394.4 658.5,391.6 657.0,387.8 654.9,385.1 657.6,385.4 660.7,384.4 663.6,384.4 666.7,383.6 668.9,383.1 670.8,382.3 673.8,381.5 676.7,380.0"/>
<polyline points="656.4,410.5 658.1,408.6 659.3,406.2 661.0,402.9 663.6,400.4 665.1,398.9 663.9,401.2 662.4,403.1 660.7,405.5 658.8,407.5 657.8,410.5"/>
<polyline points="677.5,398.9 679.6,394.5 682.3,393.7 685.5,393.1 688.8,392.3 692.7,392.4 690.0,393.5 687.9,394.7 685.5,396.0 682.8,398.0 681.1,400.4 677.5,403.3 677.5,398.9"/>
<polyline points="557.5,439.6 554.1,439.7 551.6,439.6 548.5,439.9 545.8,440.4 542.9,442.5 544.1,444.6 545.8,446.9 544.4,451.3 542.9,454.2 541.0,456.8 540.0,458.5"/>
<polyline points="630.2,436.0 634.5,437.5 637.4,437.3 639.5,435.6 641.8,435.3 644.6,434.4 647.4,434.3 650.5,433.8 652.5,432.8 655.3,431.9 657.8,430.9 660.3,429.9 663.4,429.6 666.5,428.7 669.6,427.7 671.9,427.1 675.3,426.5 678.7,426.7 681.1,427.3 684.0,430.2 687.8,430.9 691.3,430.9 694.0,430.0 697.1,429.5 700.0,426.5"/>
<polyline points="630.2,437.5 631.6,441.1 631.6,444.4 630.9,446.9 633.2,448.7 634.5,451.3 635.1,454.7 636.0,457.1 637.1,459.8 638.9,462.9 640.1,466.3 640.4,468.7 641.8,470.2"/>
<polyline points="605.5,480.1 607.6,478.9 610.3,477.4 612.7,476.0 615.4,474.4 618.9,473.0 621.5,471.6 623.6,471.0 626.6,470.2 629.3,469.5 631.6,468.7 635.0,468.7 637.7,468.7 640.4,468.7 643.0,469.4 646.5,470.0 649.1,470.2 651.4,471.2 654.1,471.8 656.4,473.1 659.0,474.3 661.5,474.6 663.6,476.0 667.8,476.3 670.9,476.7"/>
<polyline points="690.0,332.9 692.3,332.2 695.3,331.7 697.3,330.7 699.7,330.3 702.0,329.7 704.5,328.5 707.0,327.5 708.9,326.4 711.8,324.9 714.4,323.3 716.8,321.5 719.1,320.5 717.4,319.3 714.7,317.6 713.3,316.2 715.1,314.5 717.7,312.2 719.1,310.4 721.5,309.0 724.9,308.2 727.3,307.2 729.8,306.3 732.2,305.3 735.0,305.2 738.3,305.4 740.9,305.3 743.5,305.1 745.5,304.8 748.5,305.8 751.1,305.3 754.3,306.1 758.4,306.0 760.9,307.2 764.2,308.9 764.9,311.5 765.6,314.7 762.7,315.1 759.8,315.5 755.5,314.7 753.2,316.4 751.1,317.6 748.0,319.2 745.3,321.3 742.7,322.3 739.5,324.2 736.9,326.2 733.6,327.8 730.9,329.3 727.8,331.5 725.4,332.3 722.0,333.6 718.0,333.6 714.7,334.4 713.3,336.5 713.3,340.9 714.8,343.6 716.2,345.3 716.9,347.6 717.8,350.3 719.1,352.5 717.6,354.2 716.2,356.9 716.9,361.3 720.5,364.2 723.1,364.6 725.5,365.5 727.8,366.4 730.5,366.8 732.9,368.2 735.1,368.5 738.0,370.0 740.2,369.3 743.7,369.2 745.8,369.2 748.4,369.4 751.4,368.9 754.0,368.5 756.6,368.3 759.1,367.5 761.9,367.4 764.3,367.1 766.2,366.6 768.5,365.6 771.5,365.6 773.9,364.7 776.9,364.4 780.2,363.5 783.1,363.4 785.6,363.3 788.6,363.6 791.8,363.5 794.9,363.4 798.2,363.2 800.5,362.5 803.5,362.7 805.7,364.1 807.8,365.5 810.7,367.1 813.1,367.4 816.9,369.1 819.5,369.3 822.4,370.0"/>
<polyline points="822.4,370.0 818.9,369.2 815.1,368.5 812.6,369.5 808.8,370.0 806.4,371.5 803.7,371.7 800.3,372.5 797.6,372.9 794.4,373.6 791.8,374.4 789.2,374.7 786.1,373.9 782.7,374.7 780.2,374.4 777.6,374.1 774.7,373.6 771.7,374.0 769.1,373.3 765.6,373.6 763.5,374.1 760.3,374.5 757.9,374.0 755.5,374.4 753.3,374.7 750.9,375.4 747.5,375.8 745.3,375.8 740.9,377.3"/>
<polyline points="723.5,381.6 726.1,381.3 728.8,381.4 730.7,380.7 733.6,380.9 736.2,380.8 739.0,381.2 742.4,381.6 740.9,384.5 737.0,385.3 733.6,386.0 730.5,386.7 727.6,386.7 724.9,387.5 723.5,390.4"/>
<polyline points="797.6,375.8 795.1,378.5 791.8,380.2 791.3,382.6 790.4,386.0 791.6,389.2 791.8,391.8 793.7,395.3 794.7,397.6 796.6,400.1 797.6,403.5 798.8,406.1 799.1,409.3"/>
<polyline points="752.5,388.9 755.3,389.6 757.9,389.8 760.2,390.1 762.7,390.4 765.4,390.8 768.5,391.5 771.5,391.8 774.8,392.3 777.3,393.5 780.2,394.7 783.6,395.1 786.5,395.5 788.9,396.2 791.3,397.2 794.7,397.6"/>
<polyline points="740.9,377.3 743.7,378.3 746.0,378.9 748.4,379.0 751.1,380.2 752.1,382.8 753.0,385.7 754.0,388.9 753.0,392.2 752.5,394.7 751.6,397.7 751.1,400.5 748.3,402.0 745.3,403.5 742.2,402.9 739.5,402.0 736.0,399.4 733.6,397.6 729.3,395.5 725.9,395.8 722.0,396.2 718.7,398.8 716.2,400.5 714.7,402.9 713.3,406.4 711.8,410.0"/>
<polyline points="809.3,292.9 812.2,294.5 814.3,296.4 816.5,298.7 818.9,301.3 820.9,304.5 819.9,306.7 818.2,309.1 816.5,311.8 817.9,314.7 819.1,316.6 820.9,319.1 822.6,321.2 824.5,323.1 826.7,324.9 824.0,326.5 820.9,329.3 823.8,330.3 826.4,332.4 829.6,333.6 831.6,334.8 835.1,336.0 837.2,336.0 839.8,337.3 836.9,338.8 835.2,340.2 832.5,342.4 830.2,344.2 827.8,345.6 826.3,346.3 823.8,348.2 822.2,349.2 819.5,350.6 817.4,352.5 815.1,354.0 813.2,355.6 810.3,356.8 808.8,358.8 806.4,359.8 803.5,362.7"/>
<polyline points="743.8,290.0 745.3,294.4 748.2,297.3 745.3,300.2 748.2,303.1 752.5,305.3"/>
<polyline points="694.4,367.1 698.7,366.4 703.1,368.5 699.7,368.5 697.3,369.3 694.4,367.1"/>
<polyline points="842.7,291.5 846.6,291.6 850.0,291.5"/>
<polyline points="720.5,364.2 723.3,365.4 726.4,365.6 728.6,366.0 731.0,366.6 733.6,367.8"/>
<polyline points="711.8,400.0 712.6,403.0 713.3,405.8 712.7,409.0 711.8,411.6 713.3,414.5 714.7,418.9 713.5,421.5 711.8,423.3 707.5,425.5 704.7,425.6 701.6,426.2 698.7,429.1 695.8,429.8 692.9,430.5 690.0,432.0"/>
<polyline points="690.0,432.0 693.2,431.5 695.3,432.0 698.7,431.3 702.1,431.5 704.1,431.8 707.5,432.0 710.5,432.0 713.8,432.5 716.7,431.6 719.1,432.0 722.1,432.1 724.2,432.2 727.2,432.5 729.9,431.5 732.2,432.0 732.4,429.2 733.6,426.9 729.5,425.7 726.4,425.5 724.1,424.9 721.4,424.4 718.6,424.0 716.2,423.3"/>
<polyline points="713.3,410.9 715.7,410.7 719.2,410.2 722.0,410.2 724.7,410.0 727.5,410.2 730.8,409.5 733.6,409.5 736.7,410.0 739.7,409.3 742.6,410.3 745.3,410.2 748.6,409.5 750.6,409.7 753.9,409.8 756.9,409.5 759.6,410.4 763.0,410.5 765.6,411.6 768.8,412.8 771.1,414.1 774.4,414.5 777.3,416.3 780.2,417.5"/>
<polyline points="732.2,431.3 735.3,431.6 737.6,433.0 740.9,433.5 743.2,434.4 746.3,434.0 748.9,434.8 751.1,435.6 754.2,435.5 758.4,434.9 761.4,434.0 764.1,433.8 767.1,433.5 769.3,430.5 771.5,426.2 774.4,424.8 777.1,423.0 780.2,421.8"/>
<polyline points="780.2,417.5 782.7,416.6 786.2,415.2 788.9,414.5 791.8,413.3 795.1,412.8 797.6,412.4 800.5,412.5 803.1,413.3 806.4,413.1 809.2,414.1 811.7,415.3 813.6,416.0 817.2,415.8 820.9,416.0 823.7,417.2 826.5,417.5 829.6,418.9 831.1,423.3 832.4,426.2 834.0,429.1 836.4,430.7 838.2,433.5 839.8,434.9 842.7,435.4 844.6,436.6 847.1,437.8 850.0,439.3"/>
<polyline points="791.8,400.0 793.7,402.0 794.7,404.4 796.2,406.0 797.6,408.7 797.6,412.4"/>
<polyline points="740.9,433.5 742.8,435.7 745.3,437.8 745.8,440.9 746.7,443.6 746.3,446.6 746.0,449.5 742.7,451.2 739.5,452.4 738.0,455.3 742.4,456.7 743.8,461.1"/>
<polyline points="743.8,461.1 745.9,460.8 749.0,459.4 751.1,458.9 753.5,458.6 756.6,458.3 759.8,458.2 762.7,458.6 765.4,457.6 767.6,458.6 770.0,458.2 772.8,458.1 775.1,458.6 777.6,458.8 780.2,459.6 783.6,460.8 785.6,462.0 788.9,462.5 792.3,462.6 794.7,462.5 797.9,462.9 801.1,463.1 803.5,464.0 806.6,462.9 810.7,462.5 814.7,462.8 818.0,464.0 821.0,464.4 824.3,464.7 826.7,465.5 827.2,462.3 828.2,459.6 830.9,458.9 833.3,457.5 835.5,456.7 838.1,455.5 841.3,455.3 843.9,456.3 847.1,456.7 850.0,455.3"/>
<polyline points="835.5,445.1 839.8,443.6 842.8,443.6 845.6,444.4 850.0,443.6"/>
<polyline points="835.5,445.1 837.3,448.0 839.8,450.9 841.3,455.3"/>
<polyline points="743.8,461.1 744.4,464.0 745.3,466.9 747.6,468.8 748.9,471.3 746.9,472.8 745.3,474.9 741.9,475.6 739.5,477.1 737.7,479.4 735.8,480.5 733.6,482.9 732.2,487.3 730.7,491.6 728.9,493.6 726.4,496.0 724.5,497.9 723.5,500.4 721.8,503.3 720.5,506.2 719.3,508.3 718.2,510.5 716.2,513.5 714.6,515.6 713.3,517.8"/>
<polyline points="690.0,485.8 693.2,486.3 695.8,487.3 698.7,487.4 701.2,486.3 704.5,486.5 707.5,486.9 709.2,486.5 712.0,486.1 714.7,485.8 718.5,486.6 722.0,487.3 724.6,488.3 727.8,488.7 732.2,489.5"/>
<polyline points="690.0,500.4 693.1,499.9 697.3,500.4 700.6,499.6 703.1,498.9 705.6,497.9 708.9,496.0 712.9,495.5 716.2,495.3 718.6,496.0 722.0,496.7 726.4,497.5"/>
<polyline points="726.4,497.5 728.4,498.5 731.6,499.3 733.6,500.4 736.8,501.3 740.9,501.8 743.1,501.9 745.7,502.3 749.0,502.4 751.1,503.3 754.1,503.5 756.7,504.1 759.8,504.7 762.8,503.3 765.4,502.4 768.5,501.8 771.1,501.8 774.4,501.0 777.3,500.4 781.2,500.0 784.5,498.9 788.7,498.5 791.8,497.5 794.6,498.5 797.6,499.8 800.5,500.4 803.5,501.0 806.4,501.8 807.5,503.8 809.3,506.2 811.1,508.8 813.6,510.5 815.4,512.2 816.5,514.9 817.8,517.5 818.0,520.0"/>
<polyline points="784.5,498.9 787.0,502.4 788.9,504.7 792.3,506.5 794.7,509.1 797.1,511.7 799.1,514.9 800.2,517.9 800.5,520.0"/>
<polyline points="836.9,520.0 838.6,518.7 841.3,516.4 842.7,512.0"/>
<polyline points="724.9,505.0 722.7,507.3 721.4,508.7 719.1,510.8 717.3,514.1 714.7,516.6 711.5,518.9 708.9,521.0 704.5,522.5 701.2,522.3 697.3,521.7 695.3,521.9 692.6,523.7 690.0,523.9"/>
<polyline points="708.9,521.0 710.1,523.6 710.7,526.6 712.6,528.6 713.3,531.2 715.2,533.4 717.6,535.5 720.1,536.2 723.1,537.5 726.4,538.5 729.5,539.6 733.6,539.9 734.8,541.7 736.5,544.3 739.7,545.7 742.7,546.0 745.3,547.2 747.7,547.8 751.5,548.5 754.0,548.6 757.3,549.4 760.3,549.2 763.2,549.6 765.6,550.1 768.1,548.9 771.1,547.8 774.4,547.2 777.8,547.0 780.7,546.4 783.1,545.7 785.6,546.7 789.1,547.2 791.8,547.2 795.0,547.6 797.6,548.6 800.3,549.0 802.7,550.1"/>
<polyline points="729.3,542.8 729.8,545.9 730.7,548.6 731.8,551.8 733.6,554.5 732.7,557.1 730.7,558.8 729.3,563.2 731.3,565.2 733.6,566.1 735.8,570.5 733.6,574.8"/>
<polyline points="733.6,574.8 737.8,573.9 740.9,574.1 744.7,573.8 748.2,572.6 752.3,572.7 755.5,573.4 759.2,574.6 762.7,574.8 765.2,575.8 768.5,576.3 771.9,576.1 775.8,574.8 780.2,573.4 784.5,573.4 787.1,571.6 790.4,569.0"/>
<polyline points="797.6,505.0 797.9,508.1 799.1,510.8 798.8,514.2 798.1,516.4 797.6,519.5 797.4,522.7 797.6,526.8 799.6,527.8 802.0,529.7 803.9,530.6 807.1,532.2 809.3,532.6 812.1,531.2 814.0,529.8 816.5,528.3 818.3,526.8 820.9,525.4 824.2,523.3 826.7,521.0 829.1,519.2 831.1,518.1 833.5,517.7 836.9,516.6 839.6,516.1 842.7,515.9 845.6,516.2 847.2,517.2 850.0,518.1"/>
<polyline points="809.3,534.1 808.1,537.1 806.4,539.9 804.9,544.3 804.3,546.7 802.7,550.1 800.2,552.2 797.4,553.5 794.7,555.9 793.8,558.4 791.8,561.7 793.7,563.5 794.7,566.1 796.2,569.0 797.9,570.9 800.5,573.4 803.1,575.0 806.4,576.3 809.5,577.0 811.9,577.0 815.1,577.7 817.7,576.7 821.0,577.1 823.8,576.3 826.3,575.6 829.6,575.1 832.5,574.8 835.6,574.0 838.0,572.4 841.3,571.9 843.8,571.2 846.6,571.3 850.0,570.5"/>
<polyline points="787.5,505.0 789.4,507.1 791.8,509.4 794.7,511.7 797.6,513.7"/>
<polyline points="809.3,505.0 811.7,507.2 815.1,509.4 816.2,512.7 818.0,515.2 817.1,518.0 816.5,521.0 817.0,523.9 818.0,526.8 816.5,529.7"/>
<polyline points="839.8,510.8 842.7,513.7 841.3,516.6 845.6,518.1 850.0,516.6"/>
<polyline points="775.8,573.4 774.4,577.7 775.5,579.7 777.3,582.1 780.2,584.3"/>
<polyline points="780.2,584.3 782.6,583.3 786.2,581.4 788.9,580.6 791.6,580.2 795.2,579.8 797.6,579.2 800.6,580.0 803.8,580.1 806.4,580.6 809.3,580.1 812.2,579.1 815.1,577.7"/>
<polyline points="780.2,584.3 783.1,584.2 786.0,585.0 789.4,585.6 791.8,585.7 794.7,585.9 798.0,585.4 800.5,585.0 803.6,584.3 806.6,584.2 809.3,584.3 812.7,584.1 815.4,582.4 818.0,582.1 820.9,581.4"/>
<polyline points="724.9,583.5 727.7,584.1 730.7,584.1 733.6,583.5 736.2,584.9 738.2,585.9 740.9,586.5 743.5,587.4 745.3,589.4 748.1,588.5 751.1,587.9 754.5,586.9 758.4,586.5 762.0,586.5 765.6,585.7 768.9,585.5 771.5,585.0 774.4,584.5 777.3,584.3 780.2,584.3"/>
<polyline points="780.2,586.5 778.6,589.0 777.3,592.3 778.1,595.5 778.7,598.1 777.0,600.7 774.4,602.5 777.3,604.2 780.2,606.8 781.4,609.8 783.1,612.6 781.5,614.7 780.2,617.0 783.0,618.0 786.1,618.4 788.9,619.9 790.1,621.7 791.8,624.3"/>
<polyline points="759.8,590.1 762.7,589.4 764.2,591.5 761.3,592.3 759.8,590.1"/>
<polyline points="753.3,601.7 756.2,601.0 756.9,603.2 754.0,603.6 753.3,601.7"/>
<polyline points="770.0,596.6 773.6,595.9 774.4,598.8 770.7,599.5 770.0,596.6"/>
<polyline points="771.5,605.4 775.8,605.4 777.3,609.7 772.9,609.7 771.5,605.4"/>
<polyline points="768.5,615.5 772.9,614.8 775.8,617.0 771.5,617.7"/>
<polyline points="762.7,620.6 767.1,619.9 768.5,622.1"/>
<polyline points="756.2,612.6 758.4,615.5 761.3,617.7"/>
<polyline points="720.0,320.0 716.8,321.8 713.5,323.3 710.8,325.2 708.9,325.9 706.9,327.6 703.9,329.2 700.4,329.8 696.0,330.9 691.6,332.0 687.3,334.2 682.9,335.8 678.5,337.5 675.3,338.0 673.1,338.5 675.3,340.7 673.0,341.3 669.8,342.9 668.7,346.2 669.8,350.5 666.5,352.7 666.0,357.1 667.6,361.5 671.3,362.3 674.2,363.6 677.2,364.7 680.7,365.8 683.1,367.0 685.1,369.1 688.4,372.4 684.0,374.5 681.7,375.2 678.5,376.7 675.3,377.8 670.9,375.6 668.7,375.3 665.5,375.1 661.1,375.1 658.9,375.0 655.9,375.6 653.5,375.6"/>
<polyline points="676.4,377.3 673.8,378.3 672.0,380.0 669.6,381.9 666.5,383.3 664.1,384.5 661.1,384.9 658.2,384.9 654.5,384.9 658.9,386.5 661.1,389.8 660.0,394.2 658.9,398.5 656.7,402.9 654.5,407.3 653.5,410.0"/>
<polyline points="654.5,410.0 656.4,407.3 658.9,405.1 661.1,402.5 663.3,400.7 665.5,398.5"/>
<polyline points="677.5,400.7 678.5,396.4 682.9,394.2 685.7,394.1 687.3,392.8 690.6,392.9 692.7,392.0 689.2,393.6 686.2,395.3 685.0,397.7 682.9,399.6 680.5,401.6 678.5,402.9 677.5,400.7"/>
<polyline points="628.4,320.0 629.5,323.3 626.2,324.9 623.6,325.1 620.7,324.4 618.5,324.9 615.9,325.6 613.1,326.4 610.9,326.5 608.3,328.0 605.5,329.8 604.4,333.1 605.5,336.4 604.4,339.6 606.5,344.0 605.5,348.4 606.5,351.6 608.7,353.2 611.9,354.0 614.2,354.9 610.9,358.2 606.5,359.3 608.7,362.5 610.9,364.7 609.8,368.0 607.4,369.5 605.5,371.3 601.1,373.5 600.0,375.6"/>
<polyline points="713.5,334.2 717.8,335.3 715.6,337.5 713.5,339.6 714.2,342.4 715.6,345.1 717.2,348.2 717.8,350.5 718.5,353.5 718.9,356.0 716.7,359.3 716.7,362.5 720.0,364.7"/>
<polyline points="694.9,368.0 698.2,365.8 702.5,366.9 702.5,369.6 698.2,370.2 694.9,368.0"/>
<polyline points="712.4,407.3 713.7,404.4 715.6,401.8 717.3,399.4 720.0,396.4"/>
<polyline points="440.0,471.0 443.2,470.7 446.3,471.6 448.7,471.7 451.4,470.8 453.5,471.3 456.1,471.2 458.9,470.3 461.6,469.6 463.9,469.0 466.3,468.6 469.1,468.1 471.7,467.5 473.8,465.7 476.4,465.2 472.7,464.6 469.1,463.7 464.7,463.0 467.5,462.1 469.7,461.7 472.0,460.8 474.7,458.9 477.8,457.9 479.3,455.0"/>
<polyline points="440.0,485.5 443.2,485.7 447.3,484.8 451.1,485.9 454.5,486.3 457.9,486.1 461.8,485.5 464.7,484.4 466.3,483.9 469.1,482.6 472.0,482.2 474.3,481.3 476.4,480.5 478.5,476.8 479.1,474.1 479.3,471.0 483.6,469.5 487.5,469.0 490.9,468.1 493.8,466.6 497.3,465.6 499.6,465.2 504.0,463.0 506.8,461.8 509.8,460.8 512.2,458.9 515.6,456.5 518.5,455.0"/>
<polyline points="490.9,468.1 493.8,471.0 496.3,471.6 498.9,472.6 501.1,473.9 504.0,475.7 506.9,476.8 510.3,478.1 512.7,479.0 515.6,479.7 518.5,479.7 521.8,481.6 524.4,482.6 526.9,483.3 530.2,484.8 532.7,485.3 536.0,486.3 539.2,487.7 541.8,488.5 544.4,489.1 547.5,489.0 550.5,489.9 554.0,490.9 557.8,491.4"/>
<polyline points="504.0,463.7 506.7,463.3 509.8,462.3 513.3,462.7 517.1,463.7 519.3,464.8 521.9,465.6 524.4,465.9 527.4,468.2 530.2,469.5 531.9,472.2 534.5,473.9 536.0,478.3 533.1,479.7 530.2,481.2 530.2,484.1"/>
<polyline points="533.1,459.4 534.5,463.7 532.4,467.0 530.2,469.5"/>
<polyline points="541.8,455.0 538.8,456.2 536.0,457.9 533.1,459.4"/>
<polyline points="557.8,491.4 554.9,494.3 553.0,496.8 552.0,498.6 550.9,501.2 550.5,504.5 547.6,507.4 544.7,508.1"/>
<polyline points="544.7,508.1 542.7,509.9 541.3,511.4 538.9,513.2 536.5,515.6 534.5,517.5 533.1,521.9 535.6,520.4 537.5,519.0 541.8,520.5 543.4,522.3 544.7,524.8 541.8,527.7 543.3,532.1 541.8,535.0 544.7,537.9 546.3,539.5 547.6,542.3 552.0,543.7"/>
<polyline points="544.7,508.1 547.4,507.7 550.5,506.6 553.1,506.6 556.4,505.9 559.3,505.8 562.2,505.2 564.6,505.7 568.0,505.9 571.1,506.5 573.8,507.4 577.2,506.9 579.6,506.6 582.0,506.7 585.5,507.4 589.0,506.5 592.7,506.6 596.2,507.4 600.0,507.4"/>
<polyline points="541.8,526.3 544.4,525.5 547.8,524.1 550.5,523.4 553.7,521.7 556.4,520.5 558.9,519.6 562.2,519.0 564.2,520.6 566.4,522.7 568.0,524.8 569.2,522.2 570.9,519.0 573.9,518.1 576.7,517.5 581.1,519.0 584.0,516.1 586.9,513.2 590.2,513.0 592.7,511.7 596.2,511.4 600.0,510.3"/>
<polyline points="573.8,510.3 575.8,511.4 578.2,513.2 582.5,513.2"/>
<polyline points="552.0,543.7 556.4,545.2 559.8,544.2 562.2,542.3 565.0,542.2 568.2,542.4 570.9,543.0 574.1,543.8 576.4,544.3 579.6,545.2 582.0,546.9 584.0,549.5 586.2,553.2"/>
<polyline points="495.3,562.6 496.4,559.5 496.7,556.8 498.9,554.9 501.1,553.9 504.5,552.6 506.9,551.0 509.8,551.0 512.9,550.5 515.6,551.0 518.8,551.6 521.5,552.5 524.2,553.6 527.3,554.6 530.2,554.6 533.1,555.4 536.2,554.4 538.9,553.2 541.6,552.3 544.7,551.0 547.8,549.3 550.5,548.1 552.0,543.7"/>
<polyline points="440.0,553.9 443.0,554.5 446.2,555.4 448.7,556.8 451.9,556.9 454.1,557.4 457.5,558.3 460.0,558.2 463.0,558.8 466.2,559.0 469.5,560.0 473.5,560.5 476.1,560.7 479.3,561.6 482.2,562.6 486.3,562.8 489.5,563.4 491.8,563.2 495.3,562.6"/>
<polyline points="495.3,562.6 498.2,565.5 496.7,569.9 493.8,571.4 491.4,572.8 488.0,573.5"/>
<polyline points="440.0,520.5 444.4,520.5 447.3,523.4 448.9,525.9 450.2,529.2 451.2,532.1 453.1,535.0 448.7,533.5 447.5,536.0 445.8,539.4 444.8,542.0 444.4,545.2 444.2,547.9 442.9,551.0 440.0,553.9"/>
<polyline points="563.6,562.6 565.8,560.7 568.0,559.7 569.8,557.8 572.4,556.8 573.8,561.2 572.9,565.1 572.4,568.5 570.7,570.9 569.5,572.8 566.8,571.6 565.1,569.9 562.9,565.5 563.6,562.6"/>
<polyline points="348.0,556.7 350.9,554.5 352.8,554.2 355.9,552.7 358.2,552.4 360.2,550.8 362.5,549.5 366.3,549.5 369.8,548.7 372.3,550.2 375.6,550.9 378.2,550.6 382.0,550.3 384.2,550.7 387.3,550.2 390.5,550.7 393.4,550.5 396.2,550.8 398.9,551.6 402.3,551.3 404.6,551.7 408.0,551.8 410.5,551.6 413.1,551.9 416.2,551.8 419.5,553.1 422.2,553.1 425.6,552.7 428.5,552.7 430.9,553.1 433.4,552.4 435.7,552.5 438.8,552.7 441.1,552.4 445.5,554.5 448.2,555.6 450.4,557.0 452.7,557.5 455.3,558.0 457.6,559.1 460.0,559.6"/>
<polyline points="404.7,500.0 406.5,501.6 409.1,502.9 411.4,503.5 414.4,504.2 417.1,505.2 419.3,505.8 422.7,506.1 425.2,506.9 428.0,508.0 431.3,509.1 434.2,509.0 436.7,510.2 435.3,514.5 438.2,516.4 441.1,518.9 443.8,519.9 445.5,521.8 445.9,524.9 446.9,527.6 446.4,529.9 446.1,533.1 445.8,535.7 445.5,537.8 444.7,540.3 444.0,543.6 443.0,546.7 441.6,549.4 441.1,552.4"/>
<polyline points="445.5,521.8 447.0,523.7 447.9,526.8 449.8,529.1 451.4,531.8 452.7,534.9"/>
<polyline points="348.0,556.7 349.5,559.6 352.4,562.5 353.8,566.9 354.6,569.5 355.3,572.7 355.5,576.9 355.3,580.0 353.8,584.4 352.2,586.8 350.9,590.2 349.5,594.5 347.7,597.4 346.5,600.4 346.5,604.7 350.2,607.6 353.8,606.2 353.9,609.9 353.8,613.5 353.4,616.9 353.1,620.0"/>
<polyline points="353.8,567.6 357.7,566.8 361.1,566.9 364.3,567.1 366.7,568.2 369.8,568.4 373.2,568.1 375.7,568.6 378.0,568.0 381.5,568.4 383.2,570.8 385.8,572.7 383.2,573.7 380.0,575.6 377.1,578.5 376.7,581.1 376.6,584.2 375.6,587.3 374.1,590.5 372.7,593.1 369.8,594.5 372.2,596.3 374.2,598.9 375.6,603.3 374.2,607.6 375.6,610.5 374.1,613.2 372.7,614.9 371.6,617.6 369.8,620.0"/>
<polyline points="460.0,591.6 457.1,594.5 455.6,597.5 457.4,599.6 458.5,601.8 460.0,603.3"/>
<polyline points="439.6,620.0 442.7,618.7 445.5,616.4 448.0,614.9 451.3,613.5 452.0,610.0 452.7,607.6 455.6,607.0 457.6,605.7 460.0,604.7"/>
<polyline points="356.7,580.0 355.7,582.6 353.8,585.8 352.9,589.0 351.5,591.5 350.9,594.5 348.0,597.5 347.4,600.8 346.5,603.3 349.5,604.7 352.4,601.8 353.1,605.3 353.8,609.1 354.3,612.5 353.8,614.9 353.4,618.3 352.4,622.2 355.8,622.7 358.1,621.8 361.1,622.2 363.9,622.2 367.2,621.5 369.8,621.5 373.7,621.9 377.1,621.5 380.2,623.0 382.9,623.6 384.5,625.5 385.8,628.0 388.1,630.0 390.2,632.4 394.5,633.8"/>
<polyline points="378.5,580.0 377.6,583.8 377.1,587.3 375.7,589.4 373.7,591.2 371.3,593.1 373.7,595.8 375.6,598.9 374.5,601.7 374.2,604.7 372.7,609.1 375.6,610.5 372.7,613.5 371.3,615.7 369.8,617.8 371.3,620.7"/>
<polyline points="394.5,633.8 396.9,631.5 398.9,629.5 402.1,628.9 404.5,627.9 407.6,626.5 410.9,626.3 412.9,625.7 416.4,625.8 419.5,625.7 422.5,625.9 425.1,626.5 427.8,625.8 431.3,625.8 433.8,625.1 435.8,622.5 438.2,619.3 440.6,618.2 444.0,616.4 446.5,616.0 449.8,614.9 451.5,612.4 452.7,609.1 455.9,607.7 458.5,606.2 460.0,605.5"/>
<polyline points="460.0,591.6 457.1,593.1 455.6,596.0 457.5,599.2 460.0,601.8"/>
<polyline points="394.5,633.8 390.2,635.3 389.1,637.2 387.3,639.6 386.5,642.5 385.2,645.0 384.4,646.9 382.9,649.1 380.5,651.2 378.5,654.2 375.8,655.8 374.0,657.5 371.3,658.5 369.2,660.0 366.6,660.6 364.0,661.5 361.4,663.0 358.2,664.4 355.4,666.8 352.4,668.7 351.4,670.7 349.5,673.1 347.6,676.2 346.5,678.9 344.4,680.7 342.9,683.3 342.6,686.8 342.2,690.5 342.8,693.0 343.2,695.5 344.4,697.8"/>
<polyline points="394.5,633.8 396.5,636.5 398.9,639.6 402.0,640.7 404.7,642.5 407.3,642.4 410.1,643.0 413.5,642.5 416.1,642.5 418.5,642.3 420.9,642.3 423.6,641.8 426.5,642.5 430.0,643.0 433.8,644.0 435.9,642.6 438.7,642.0 441.1,641.1 443.6,639.2 445.6,637.9 448.4,636.7 451.8,636.2 455.6,636.0 460.0,636.7"/>
<polyline points="433.8,644.0 435.7,646.5 438.2,648.4 438.9,652.5 439.6,655.6 440.5,659.1 440.1,661.6 441.1,664.4 442.5,667.7 444.0,670.2 446.9,673.1 445.5,676.0 442.7,676.1 440.1,676.2 436.5,676.5 434.3,675.9 430.9,676.0 428.0,676.5 425.1,677.5 423.6,680.4 421.2,681.2 417.7,681.7 414.9,681.8 414.8,684.2 414.9,687.6 412.9,688.8 410.1,691.0 407.6,692.0 404.4,694.0 401.8,694.9 398.9,697.8"/>
<polyline points="497.8,560.0 498.2,561.9 498.6,564.9 496.1,567.6 494.5,569.9 492.0,571.9 488.9,572.7 486.2,574.8 483.8,575.5 481.8,576.0 479.0,576.5 476.4,576.5 474.4,577.7 471.9,579.6 469.8,581.4 467.1,583.1 465.7,585.9 463.2,588.0 460.8,590.2 458.2,592.9 456.7,595.3 455.8,597.9 457.8,599.7 459.1,601.9 461.5,603.7 459.4,605.2 457.3,606.7 454.9,607.8 453.4,610.2 451.2,612.6 450.0,614.4"/>
<polyline points="478.0,561.6 480.3,562.5 483.3,562.3 486.2,563.3 489.8,562.8 492.8,562.5 495.2,561.4 497.8,560.0"/>
<polyline points="488.7,594.6 490.7,593.0 492.8,591.3 494.9,590.8 497.8,590.5 501.1,592.9 499.8,595.1 497.8,597.1 492.8,597.1 488.7,594.6"/>
<polyline points="506.0,589.7 509.0,589.7 511.0,590.5 511.8,592.1"/>
<polyline points="474.7,601.2 478.0,600.4 479.7,603.7 476.4,604.5 474.7,601.2"/>
<polyline points="562.0,563.3 565.3,560.0 568.3,560.5 571.1,560.3 573.6,560.0 573.8,563.0 574.4,564.9 573.2,568.3 571.9,571.5 568.6,574.0 565.7,571.4 563.7,569.9 563.0,566.6 562.0,563.3"/>
<polyline points="557.1,581.4 560.9,579.6 563.7,578.1 566.7,578.0 569.0,576.9 571.9,576.5 574.5,579.0 576.9,581.4 576.2,583.9 576.7,586.6 576.0,589.7 575.4,592.7 575.9,595.5 575.2,597.9 573.5,599.8 570.8,600.7 568.6,602.0 565.1,601.1 562.0,601.2 561.0,598.7 560.9,595.5 560.4,592.9 559.1,589.8 558.7,586.4 557.5,584.0 557.1,581.4"/>
<polyline points="591.7,560.0 595.4,561.4 598.3,563.3 600.7,565.1 603.0,566.7 605.8,568.1 608.2,569.9"/>
<polyline points="450.0,635.8 452.5,635.4 454.9,635.0 458.2,635.0 460.7,633.8 463.7,632.6 466.5,630.8 468.5,630.3 471.8,629.2 473.7,628.2 476.4,627.5 479.3,627.0 482.2,627.5 485.4,626.5 487.9,626.7 490.7,625.9 493.8,625.2 496.1,625.1 498.1,624.1 501.1,623.7 503.6,623.7 506.0,623.4 508.6,624.3 511.0,624.3 514.0,624.6 515.9,625.1 518.9,625.2 521.1,625.9 524.1,625.9 527.1,624.8 529.6,624.3 532.4,623.4 534.7,622.6 537.3,621.8 540.0,623.0 542.3,623.4 545.9,623.1 548.8,622.6 551.2,622.9 554.3,622.8 557.1,623.4 560.3,623.3 563.1,623.1 565.3,622.6 568.6,621.2 571.9,620.1 574.9,620.1 578.5,620.1 581.8,621.0 583.4,624.3 585.4,623.7 588.4,623.4 593.3,623.4 590.0,625.9 586.7,629.2 587.1,631.3 588.4,634.1 591.3,636.5 593.3,639.1 592.5,641.5 591.7,644.0 589.0,646.2 587.1,647.5 585.1,649.0 583.1,651.8 581.0,653.9 583.3,655.3 584.9,656.8 586.7,658.8 590.2,660.3 593.3,662.1 596.8,664.2 599.9,665.4 602.4,666.1 605.3,667.1 607.2,668.3 609.8,668.7"/>
<polyline points="562.0,623.4 559.6,627.5 559.8,630.3 560.2,633.0 560.4,635.8 559.6,638.7 559.6,642.4 558.7,645.8 558.7,649.0 555.1,650.3 552.1,652.3 550.8,655.0 549.7,657.2 550.5,660.2 552.1,663.8 554.7,666.2 556.5,668.2 558.7,670.4 560.9,671.7 564.0,673.1 565.6,675.4 568.6,677.0 569.3,679.9 570.3,682.5 571.9,685.2 572.0,687.8 572.8,691.5 573.9,693.9 574.4,696.7"/>
<polyline points="599.9,665.4 597.4,668.7 597.3,671.4 598.3,673.7 595.2,674.3 591.7,675.3 588.8,676.9 586.7,678.6 584.8,680.7 581.8,681.9 582.3,685.6 583.4,688.5 581.9,691.3 580.1,693.4 578.0,694.7 575.2,696.7"/>
<polyline points="608.2,612.7 609.5,613.5"/>
<polyline points="580.0,509.8 583.5,507.9 586.6,506.5 590.1,506.0 593.1,506.0 596.5,505.7 598.9,505.3 601.5,504.8 604.7,504.8 608.4,504.4 611.3,504.0 612.9,501.6 614.6,499.9 616.6,498.2 619.5,496.6 622.8,493.3 621.2,490.0"/>
<polyline points="580.0,516.4 583.4,515.0 586.6,514.7 590.2,513.9 593.2,513.1 596.1,512.6 599.8,512.2 602.7,511.9 606.4,511.4 608.4,513.9 609.7,515.5 613.3,516.1 616.2,516.4 619.6,517.0 622.8,518.0 625.6,517.2 629.4,516.4 631.9,516.1 635.2,515.1 637.7,514.7 640.5,514.4 643.4,513.8 645.9,513.1 648.8,512.2 652.5,512.2 654.9,512.4 657.4,513.1"/>
<polyline points="657.4,513.1 659.5,510.6 661.1,508.6 662.4,506.5 660.7,503.2 664.0,499.9 662.9,497.6 662.4,494.9 664.3,492.6 665.7,490.0"/>
<polyline points="657.4,514.7 659.5,515.8 662.4,518.0 665.0,519.9 667.3,521.3 669.6,522.0 672.3,522.9 675.2,523.9 678.8,524.6 681.9,525.4 685.4,525.4 688.7,524.6 691.9,523.6 695.3,522.9 698.4,522.7 701.9,522.1 705.5,521.6 708.5,521.3 712.1,519.6 715.1,518.0 717.4,516.4 720.0,514.7 722.2,512.0 725.0,509.8 727.0,508.3 729.6,506.9 731.6,504.8 735.0,503.5 738.2,501.5"/>
<polyline points="659.1,503.2 661.5,503.0 663.6,502.0 666.4,501.8 669.0,501.5 672.3,502.0 675.8,501.7 678.8,502.4 682.7,501.5 685.0,501.4 688.7,501.5 692.5,500.6 695.3,499.9 697.3,499.2 699.8,498.6 702.6,499.2 705.2,498.2 708.6,497.4 711.8,496.6 715.3,496.7 718.9,496.9 721.7,496.6 725.1,494.9 728.3,493.3 731.2,491.8 734.9,490.0"/>
<polyline points="687.1,524.6 688.2,526.8 688.7,529.5 692.0,532.8 690.7,535.4 690.4,537.8 692.0,540.0 693.7,542.7 692.5,544.7 692.0,547.7 690.1,549.6 688.7,552.6 685.9,554.8 683.8,555.9 681.3,559.2"/>
<polyline points="622.8,519.7 624.0,522.0 624.5,524.6 623.5,527.2 622.8,529.5 626.1,530.2 629.4,530.4 631.4,529.5 634.4,529.5 636.6,528.7 639.3,527.1 643.1,525.7 645.9,524.6 648.9,522.7 650.8,521.3 654.3,520.1 657.4,519.7 660.4,518.9 662.4,518.0"/>
<polyline points="649.2,532.8 652.2,532.7 655.8,532.8 657.8,532.8 660.5,534.1 663.5,534.6 665.7,534.5 669.4,534.8 672.3,534.7 675.6,534.5 679.4,533.7 682.1,532.8 685.7,533.9 688.7,534.5"/>
<polyline points="622.8,529.5 626.6,531.1 629.4,532.8 631.9,535.4 634.4,537.8 636.3,539.0 639.3,541.1 641.0,542.9 644.2,544.6 645.9,546.0 647.8,547.5 650.8,549.3 652.5,551.0 655.2,553.0 659.1,554.3 662.1,555.5 665.7,557.5 669.2,558.7 672.3,559.2 675.1,560.9 678.8,561.7 682.1,562.7 685.4,564.1 688.3,564.7 690.4,565.8 693.7,569.1 693.3,572.6 692.0,575.7 693.3,579.0 693.7,582.3 694.2,585.8 695.3,588.8 697.4,591.0 698.6,593.8 701.9,595.4"/>
<polyline points="649.2,532.8 650.5,535.0 652.5,537.8 655.1,539.0 657.4,541.1 659.5,544.0 662.4,546.0 665.0,548.7 667.3,551.0 669.9,553.7 672.3,555.9 675.6,559.2"/>
<polyline points="631.1,531.2 634.4,534.5 636.1,536.4 637.7,539.4 641.0,542.7 643.4,543.7 645.9,544.4"/>
<polyline points="655.8,552.6 659.1,554.0 662.4,554.3 666.1,555.5 669.0,555.9"/>
<polyline points="606.4,529.5 609.6,529.2 612.9,527.9 616.7,526.8 619.5,526.2 622.8,524.6"/>
<polyline points="606.4,529.5 606.9,532.1 608.0,534.5 608.3,537.3 609.7,539.4 609.6,542.8 609.7,546.0 612.1,547.5 614.6,549.3 617.3,549.8 619.5,551.0 622.5,552.0 624.5,552.6 626.1,555.3 627.8,557.5 628.9,559.7 631.1,562.5 633.6,563.9 636.0,565.8 639.4,567.2 642.6,569.1 646.0,569.6 649.2,570.7 652.5,574.0 655.8,575.8 659.1,577.3 661.7,577.9 664.3,578.6 667.3,579.0"/>
<polyline points="580.0,546.0 583.3,549.3 586.6,552.6 588.6,555.2 590.7,556.6 593.2,559.2 595.0,560.9 597.3,562.0 599.8,564.1 601.7,565.5 604.1,567.3 606.4,569.1 609.3,571.2 612.9,572.4 615.9,574.4 619.5,575.7 621.7,577.3 624.5,579.0 627.5,581.0 629.4,582.3 632.7,584.1 636.0,585.6 639.6,587.0 642.6,588.8 645.1,590.6 647.5,592.1"/>
<polyline points="580.0,511.4 580.7,514.9 581.6,518.0 580.3,520.8 580.0,522.9"/>
<polyline points="580.0,621.8 583.3,622.8 586.6,623.4 591.5,623.4"/>
<polyline points="606.0,477.0 608.0,480.0 611.0,483.0 612.9,484.8 615.0,487.0 617.3,488.6 620.0,490.0 624.0,492.0 628.0,494.0 632.0,495.0 636.0,494.0 638.5,492.2 640.0,491.0 642.5,491.1 646.0,492.0 649.4,493.0 652.0,493.0 654.7,493.6 658.0,494.0 662.0,494.0 664.0,495.0 663.0,497.0 664.0,499.0"/>
<polyline points="664.0,494.0 668.0,493.0 672.0,492.0 676.0,490.0 679.0,487.0 683.0,485.0 685.7,484.6 688.0,485.0"/>
<polyline points="590.0,508.0 592.8,507.3 595.0,507.0 597.7,506.5 600.0,506.0 602.8,506.2 605.0,505.5 607.4,505.0 610.0,505.0 614.0,504.0 617.0,506.0 616.0,502.0 615.0,500.0 617.6,498.6 620.0,498.0 623.0,496.0 625.0,493.0 628.0,494.0"/>
<polyline points="590.0,513.0 592.6,513.1 596.0,512.5 600.0,512.0 602.3,513.1 605.0,514.0 607.6,515.4 610.0,516.0 612.0,515.9 614.7,516.3 617.3,516.5 620.0,517.0 622.7,516.2 625.0,516.0 628.4,515.9 632.0,515.0 634.5,514.8 637.8,514.2 640.0,514.0 642.7,513.2 646.0,513.5 648.9,513.5 651.8,513.4 654.0,513.0 656.0,514.0 655.5,516.6 656.0,520.0"/>
<polyline points="664.0,499.0 662.0,502.0 659.0,505.0 658.0,509.0 657.0,512.0 656.0,514.0"/>
<polyline points="664.0,499.0 668.0,501.0 669.6,502.0 672.0,504.0 675.4,504.1 678.0,504.0 681.0,503.4 685.0,503.0 688.0,502.0 691.8,500.5 695.0,500.0 697.2,499.6 700.0,500.0"/>
<polyline points="673.0,478.0 675.0,479.0 677.7,479.9 680.0,480.0 683.0,481.0 685.0,483.0 688.0,485.0 690.3,484.2 693.0,484.0 697.0,486.0 700.0,487.0"/>
<polyline points="840.0,456.1 842.7,456.6 845.9,456.8 848.4,456.1 851.8,454.6 854.9,454.4 859.1,453.9 863.2,453.7 866.5,453.9 868.0,456.6 869.5,458.3 872.4,460.5 870.9,464.2 873.9,465.0 876.8,466.4 879.2,467.6 881.9,467.5 884.2,468.6 885.3,471.2 886.3,473.6 887.1,476.0 890.1,476.1 892.8,475.8 896.0,476.0 899.0,476.7 901.9,476.7 905.5,476.2 909.2,476.0 911.2,477.2 913.6,478.9 918.1,480.4 921.2,481.1 925.4,481.1 928.3,481.4 930.3,481.6 932.8,482.6 935.7,483.6 937.7,483.0 940.1,484.1 941.6,487.7 938.7,490.7 937.2,493.6 940.1,496.6 938.7,499.5 937.2,503.2 933.4,503.4 929.8,503.9 927.1,503.9 924.8,504.8 922.5,505.4 919.5,506.9 918.1,509.8"/>
<polyline points="840.0,434.7 842.9,437.7 846.0,438.3 848.8,439.1 851.8,442.1 848.5,443.8 845.9,445.0 842.8,444.5 840.0,444.3"/>
<polyline points="918.1,509.8 922.5,510.6 925.9,510.1 929.8,509.8 931.3,512.0 928.1,513.1 925.4,513.5 922.9,515.0 919.5,515.7 916.8,516.2 913.6,517.2 916.1,519.0 918.1,520.1 921.0,523.1 916.6,524.6 914.3,526.4 912.2,527.5 912.2,530.5 908.1,530.6 904.8,531.2 902.0,531.3 898.9,531.2 895.7,530.8 893.0,530.2 889.7,529.8 886.6,530.6 884.2,530.8"/>
<polyline points="884.2,530.8 881.6,528.7 879.8,527.5 878.3,523.1 881.0,521.9 884.2,520.1 887.4,518.4 890.1,517.2 892.6,516.7 895.8,516.0 898.9,515.7 902.2,515.5 904.8,514.6 907.7,513.5 910.5,513.2 913.6,512.0 918.1,509.8"/>
<polyline points="840.0,520.1 843.4,520.4 845.9,521.6 849.1,521.4 851.7,521.8 854.7,522.4 858.0,522.5 861.0,521.4 863.6,521.6 866.8,521.3 869.5,521.6 872.7,522.3 875.3,523.1 878.3,524.6"/>
<polyline points="848.8,529.7 852.0,528.1 854.7,527.5 857.1,527.1 859.7,526.6 862.1,525.3 865.0,524.4 868.0,523.1 870.7,523.6 873.9,524.6 876.5,525.8 879.3,528.0 881.2,529.7 884.2,531.2"/>
<polyline points="848.8,529.7 851.0,530.6 853.4,531.6 856.2,531.9 859.5,532.7 862.1,534.1 863.6,537.8"/>
<polyline points="872.4,538.6 874.9,538.0 878.1,536.7 881.2,536.3 883.9,535.2 887.4,534.3 890.1,534.1 892.5,533.3 896.0,531.9 898.9,532.8 901.9,533.4 904.7,534.1 907.7,535.6 909.8,536.4 912.8,538.5 915.1,539.3"/>
<polyline points="840.0,509.8 842.9,512.8 844.4,517.2 847.9,517.3 850.3,517.2 845.9,518.7 842.5,519.6 840.0,520.1"/>
<polyline points="860.0,567.8 862.8,568.3 864.8,567.9 867.7,568.4 871.2,568.4 873.8,568.1 876.4,567.1 879.4,567.1 881.9,569.7 885.4,570.5 888.4,571.6 890.6,572.7 893.6,572.9 896.1,575.5 898.7,575.9 901.1,576.6 903.9,576.8 906.1,577.1 908.9,578.4 911.6,578.7 914.0,579.3 917.3,579.2 919.4,579.4 921.5,578.8 924.3,578.7 927.1,578.7 929.6,578.0 932.4,578.2 934.9,578.1 937.1,577.8 940.4,578.8 942.6,578.7 944.9,578.7 947.8,578.1 950.5,576.8 953.0,575.5 955.4,573.6 958.1,571.6 960.7,568.4 959.4,563.9 958.8,561.4 958.1,558.7 955.7,557.2 953.0,556.1 950.5,554.4 947.8,553.6 945.2,552.2 943.0,551.4 940.0,551.0 937.9,549.4 934.9,548.0 932.3,547.1 929.8,546.0 927.3,544.1 924.5,542.6 922.2,541.2 919.2,540.6 916.8,539.4 913.7,538.5 911.6,536.8 908.1,535.5 905.2,534.2 902.4,532.4 898.7,531.6 895.8,530.5 892.3,530.3 889.1,531.1 885.8,531.0 883.1,530.5 880.7,530.3 876.8,527.7 874.4,526.8 871.6,525.2 867.7,522.6 864.9,522.7 862.6,523.9 860.0,525.8"/>
<polyline points="860.0,539.4 862.1,539.8 865.2,540.7 868.2,540.8 870.3,540.0 874.2,538.1 877.0,537.7 880.7,536.8 883.3,535.2 885.8,534.2 889.1,533.3 892.3,532.9 896.1,531.6"/>
<polyline points="860.0,532.9 862.6,534.2 862.6,536.8 860.0,538.7"/>
<polyline points="898.7,531.0 901.4,530.9 903.9,531.6 906.7,531.2 909.1,531.0 911.6,529.0 912.5,526.6 914.2,523.9 918.1,521.9 922.0,522.6"/>
<polyline points="940.0,551.0 942.5,551.3 945.4,552.1 947.4,551.6 950.4,552.3 952.8,552.4 955.2,553.5 958.1,553.1 960.7,553.6 963.1,554.3 965.7,553.7 968.7,554.0 971.0,554.2 973.9,555.3 976.2,556.1 979.5,557.1 982.6,558.7 986.2,559.5 989.1,559.4 992.1,559.6 995.6,558.7 999.4,558.7"/>
<polyline points="960.7,568.4 963.2,570.6 965.9,572.9 968.7,573.5 971.0,572.9 973.7,573.8 976.7,574.4 978.8,575.5 981.1,576.5 983.9,578.1 985.0,580.8 985.2,584.5 983.9,588.4 986.9,589.3 989.1,589.7 992.1,591.1 995.6,592.3 999.4,594.9"/>
<polyline points="989.1,596.2 990.4,600.0 991.1,603.1 991.7,605.2 991.9,607.3 993.0,610.4 996.8,613.0 999.4,610.4"/>
<polyline points="860.0,632.3 862.4,631.2 865.2,631.0 867.6,629.1 870.3,627.1 872.6,626.8 875.5,625.8 877.6,626.4 880.7,627.1 883.7,627.0 885.8,626.5 889.3,625.8 892.3,624.5 892.9,627.1 891.0,629.7 892.3,633.6 890.6,636.5 889.7,638.7 890.9,641.4 891.6,643.9 891.8,646.6 891.0,649.1 889.5,651.9 888.4,654.2 887.2,656.3 885.8,659.4 883.7,662.3 882.6,664.5 881.5,667.5 880.7,669.7 879.9,672.7 879.4,674.9 877.8,677.2 875.5,680.0 873.7,682.7 871.6,685.2 870.3,687.8"/>
<polyline points="892.3,624.5 895.0,624.8 898.7,624.5 901.2,625.0 903.9,625.8 906.0,625.6 908.7,625.4 911.6,625.2 914.6,624.0 918.1,623.9 921.6,624.7 924.5,625.8 927.1,625.9 929.7,625.5 932.3,625.8 934.6,625.1 937.1,624.1 940.0,623.9 942.7,622.4 945.2,621.9 947.7,621.3 950.4,621.8 953.0,621.3 955.1,620.9 958.2,621.3 960.7,621.3 964.1,620.3 967.2,620.0 969.9,619.6 972.3,618.7 975.3,618.6 978.8,619.4 981.7,619.8 983.9,620.7 987.0,619.6 989.1,619.4 991.9,619.9 994.3,620.7 998.1,623.2"/>
<polyline points="892.9,627.1 896.1,629.7 898.7,627.8 901.3,625.8"/>
<polyline points="960.7,621.3 959.2,623.4 958.1,625.8 955.5,629.7 956.0,631.8 956.2,634.9 955.3,638.0 955.0,640.6 954.2,642.6 953.5,645.4 953.0,649.1 950.4,651.6 947.3,652.9 944.9,653.2 942.6,654.2 940.3,655.5 937.0,655.5 934.9,656.8 932.8,658.6 930.1,659.7 927.1,660.7 924.0,662.2 921.5,663.2 919.4,664.5 916.3,665.1 914.3,665.9 911.6,667.1 909.1,668.6 906.5,670.8 903.9,672.3 900.9,673.5 898.7,674.2 895.6,673.4 893.6,672.3 889.7,669.7"/>
<polyline points="891.0,649.1 893.7,648.6 896.1,649.1 898.7,651.6 897.4,654.2 893.6,656.8 891.3,658.5 889.7,660.7 887.1,664.5 887.1,667.1"/>
<polyline points="887.1,667.1 886.8,669.8 885.8,672.3 884.7,675.0 884.5,677.5 883.3,680.6 883.2,683.9 882.3,687.5 881.9,690.4 881.5,694.0 880.7,696.8"/>
<polyline points="879.4,677.5 881.9,678.8 880.7,682.6 879.4,685.2"/>
<polyline points="903.9,682.6 905.3,685.0 907.9,686.2 909.6,689.0 911.6,690.4 913.1,692.1 915.5,694.2 914.0,696.2 911.6,698.1"/>
<polyline points="925.8,662.0 926.1,664.6 927.1,667.1 927.7,670.2 928.4,672.3 931.0,676.2 933.7,676.5 937.5,677.5 940.1,677.7 942.5,677.9 945.2,678.8 947.6,679.9 950.5,681.0 953.0,682.6 956.1,683.9 958.5,685.3 960.7,686.5 963.7,688.2 966.2,688.6 968.4,690.4 971.1,691.8 973.2,694.2 976.2,695.5 978.9,696.4 981.4,698.1"/>
<polyline points="903.9,682.6 906.3,682.5 909.2,681.5 911.3,680.4 914.2,680.0 916.4,679.9 919.8,678.6 922.0,677.8 924.5,677.5 927.4,676.9 931.0,676.2"/>
<polyline points="998.1,600.0 995.9,602.3 993.0,603.9 991.7,607.7 993.0,611.6 991.7,614.2 993.4,616.4 995.6,618.1 996.9,620.3 998.1,623.2 999.4,625.8"/>
<polyline points="860.0,687.8 863.1,688.3 864.8,688.3 868.2,687.6 870.3,687.8 871.6,690.4 873.4,693.4 874.6,695.3 876.8,698.1"/>
<polyline points="860.0,641.3 863.0,640.3 865.2,638.7 868.0,638.8 870.3,638.1 872.8,637.7 875.5,637.4 872.8,639.2 870.8,640.5 867.7,641.3 869.0,644.5 866.2,645.2 863.9,645.2 860.0,646.5"/>
<polyline points="742.5,641.0 744.8,637.9 749.5,637.9 751.0,640.2 755.6,641.0 758.3,640.6 761.8,641.0 765.2,641.5 768.0,641.7 770.3,641.8 772.9,641.4 775.7,641.7 775.7,644.0 772.8,644.1 769.6,644.5 766.7,644.8 763.4,645.1 758.7,645.6 756.4,644.6 754.1,643.3 751.2,642.8 747.9,642.5 743.3,642.0 742.5,641.0"/>
<polyline points="847.6,644.8 851.5,641.7 854.9,640.9 857.7,640.2 860.3,640.2 863.8,641.0 866.4,640.5 870.0,639.4"/>
<polyline points="848.4,646.4 850.9,646.9 854.6,647.9 857.6,647.8 860.7,647.1 864.4,646.7 866.9,645.6 870.0,643.3"/>
<polyline points="700.0,675.7 701.6,674.7 704.7,673.0 706.2,671.1 709.3,669.7 712.4,668.8 715.4,668.1 718.5,668.0 721.5,667.5 724.7,668.0 728.1,668.6 730.9,669.6 733.8,670.4 737.1,671.1 740.2,674.2 743.5,675.1 746.4,675.7 749.5,676.9 752.6,677.3 756.0,678.1 758.7,678.8 761.8,681.9 764.9,682.7 768.0,682.7 770.6,683.5 774.2,683.1 777.3,683.5 780.6,684.3 783.5,685.2 786.6,685.8 789.1,686.3 792.6,687.1 795.8,688.1 799.3,688.6 801.9,689.3 805.1,689.6 807.7,689.7 811.3,689.6 814.0,688.5 817.5,686.6 820.5,685.6 823.6,684.2 826.3,684.2 829.8,683.5 833.4,683.3 836.0,682.7 838.7,683.4 842.2,684.2 844.5,685.0 846.8,686.6 849.5,687.0 851.7,687.0 854.6,687.3 856.9,687.3 860.2,687.1 862.3,686.6 865.1,685.9 867.0,686.0 870.0,685.8"/>
<polyline points="761.8,681.9 760.3,685.0 758.7,689.6 760.3,694.3 757.2,697.4"/>
<polyline points="786.6,620.1 789.5,621.7 792.7,623.2 795.7,624.7 798.9,625.5 802.0,625.6 805.1,624.7 808.2,627.0 811.3,630.1 814.2,630.8 817.5,631.7 820.9,631.8 823.6,630.9 826.7,629.4 826.7,625.5 829.9,625.3 832.9,624.7 835.6,625.9 839.1,626.3 841.8,627.7 845.3,628.6 848.4,631.7 851.4,631.9 854.6,632.5 857.9,631.6 860.7,630.9 864.0,629.3 866.9,628.6 870.0,627.8"/>
<polyline points="792.7,634.8 795.8,630.9 798.1,629.4 795.8,633.2 793.5,635.5"/>
<polyline points="785.0,637.1 786.6,639.4"/>
<polyline points="774.2,627.0 776.5,627.8"/>
<polyline points="761.8,621.6 764.9,620.1 767.2,622.4 763.4,623.2 761.8,621.6"/>
<polyline points="752.6,625.5 754.9,626.3"/>
<polyline points="751.0,617.0 753.3,617.8"/>
<polyline points="771.1,615.5 773.8,615.1 777.3,615.5"/>
<polyline points="781.9,614.7 786.6,613.9"/>
<polyline points="769.6,606.2 772.0,607.5 774.2,609.3 776.5,608.1 778.8,606.2 781.9,603.1"/>
<polyline points="780.4,609.3 782.5,610.3 784.9,612.1 786.6,613.9 788.2,616.2 789.6,618.5 786.6,620.1"/>
<polyline points="609.1,613.0 611.8,610.9 615.1,609.8 618.6,609.5 621.5,610.3 624.1,611.6 626.9,611.5 629.6,611.5 632.3,610.9 635.2,609.8 639.1,609.5 642.7,608.7 645.9,608.9 647.3,610.9 643.2,613.6 641.8,616.4 643.2,620.5 641.8,624.5 637.7,625.9 633.6,624.5 629.5,621.8 627.2,621.3 624.1,620.5 621.1,618.9 617.3,617.7 615.0,616.2 611.8,615.7 609.1,613.0"/>
<polyline points="631.6,634.8 634.3,635.5"/>
<polyline points="560.0,624.5 562.6,622.8 565.5,621.8 568.4,621.3 571.1,620.6 573.6,619.8 577.4,619.8 580.5,620.5 582.5,622.6 584.5,624.5 587.7,623.8 590.0,623.9 592.7,623.2 590.0,625.9 585.9,628.6 584.5,632.7 586.4,634.6 588.6,636.8 592.7,639.5 592.7,643.6 590.6,645.2 588.6,647.7 584.5,650.5 582.4,652.6 580.5,654.5 581.8,658.6 584.3,658.9 587.3,660.0 590.2,661.1 592.7,662.7 595.5,665.5 599.5,666.8 602.3,667.5 605.0,668.2 608.6,668.6 611.8,668.9 614.8,668.4 618.6,667.5 622.2,669.1 625.5,669.5 628.2,670.7 631.4,671.9 633.6,672.3 636.1,672.9 638.9,673.2 641.8,673.6 644.5,677.7 645.9,681.8 648.7,683.0 650.1,684.6 652.7,685.9 655.5,686.4 658.2,686.2 661.0,687.2 663.6,687.3 666.9,687.2 668.6,688.3 671.8,688.6 674.1,690.2 677.6,691.5 680.0,692.0 682.6,693.2 685.5,694.9 688.2,696.1 690.4,695.5 693.6,695.5 696.1,693.7 699.1,691.4 699.6,688.0 700.5,684.5 700.3,680.6 700.5,677.7 702.7,675.5 704.6,673.6 707.5,672.4 710.0,670.9"/>
<polyline points="599.5,666.8 598.2,670.9 599.5,673.6 595.6,674.6 592.7,676.4 589.8,677.6 587.3,679.1 583.2,681.8 581.8,685.9 583.2,690.0 581.3,692.5 579.1,694.1 576.7,695.6 573.6,696.8"/>
<polyline points="560.0,672.3 562.7,673.4 565.5,674.3 569.5,677.0 570.9,681.8 572.0,685.3 572.3,688.6 572.5,691.7 573.1,694.4 573.6,696.8"/>
<polyline points="588.6,658.6 591.4,658.0 592.7,660.0 589.3,661.4 588.6,658.6"/>
<polyline points="594.1,647.0 595.2,647.7"/>
<polyline points="704.6,602.7 706.3,605.2 707.3,608.2 708.2,610.7 708.6,613.6"/>
<polyline points="113.6,605.5 118.2,604.5 121.8,603.6 126.4,605.5 121.8,606.9 119.1,606.6 116.4,606.9 113.6,605.5"/>
<polyline points="130.9,603.6 135.5,604.0"/>
<polyline points="149.1,613.6 153.6,613.1 156.6,613.9 159.1,614.0 156.8,614.1 153.6,614.5 149.1,613.6"/>
<polyline points="157.3,622.7 159.6,623.1"/>
<polyline points="252.4,669.5 256.4,668.7 260.0,669.6 256.4,670.4 252.4,669.5"/>
<polyline points="730.7,587.3 733.2,583.2 735.7,584.0 738.9,586.5 743.1,586.5 746.4,587.3 749.7,587.7 752.1,587.7"/>
<polyline points="739.8,587.3 743.1,588.9 744.7,589.8 746.4,588.9"/>
<polyline points="744.7,614.5 748.0,616.1 750.5,617.0 752.1,619.4"/>
<polyline points="760.4,590.6 762.8,589.8 764.5,591.4 762.0,592.2 760.4,590.6"/>
<polyline points="752.9,601.3 754.6,600.9 756.2,602.5 754.2,603.4 752.9,601.3"/>
<polyline points="751.3,616.1 752.9,617.0 753.4,619.4 752.1,619.8"/>
<polyline points="761.2,621.1 764.5,620.2 767.0,621.5 766.1,623.1 762.8,623.5 761.2,622.3"/>
<polyline points="751.3,626.0 754.6,626.0"/>
<polyline points="771.1,617.0 774.1,616.1 776.0,615.7"/>
<polyline points="774.4,626.8 776.8,627.7"/>
<polyline points="757.1,612.0 760.4,614.5 762.8,617.0"/>
<polyline points="773.5,570.0 776.0,571.6 778.5,573.3 776.8,575.8 776.0,578.2 777.7,580.7 779.3,583.2 777.7,585.7 776.0,587.3 774.4,589.8 773.5,592.2 772.7,594.7 771.1,597.2 772.7,599.7 776.8,599.7 779.3,597.2 781.8,594.7 782.6,598.0 781.0,600.5 782.6,602.1 781.0,604.6 779.3,606.2 777.7,608.7 779.3,611.2 781.8,612.8 785.1,614.5 786.7,617.0 788.4,619.4 789.2,622.7 785.9,623.5 784.3,624.4 783.4,626.0 785.9,627.7 789.2,626.8 792.5,627.7 795.8,627.7 799.1,626.8"/>
<polyline points="770.2,598.0 772.7,597.2 774.4,598.0 776.0,599.7 773.5,600.1 771.1,599.7 770.2,598.0"/>
<polyline points="770.2,605.4 772.7,604.6 773.5,607.1 771.9,609.5 770.2,608.7 770.2,605.4"/>
<polyline points="775.2,606.2 777.7,605.4 779.3,607.1 777.7,608.7 776.0,607.9 775.2,606.2"/>
<polyline points="744.7,581.5 748.8,580.7 752.9,579.9 756.2,579.1 759.5,579.1 762.8,578.2 766.1,579.9 769.4,580.7 772.7,581.5 776.0,582.4 779.3,583.2 782.6,583.2 785.9,582.4 789.2,580.7 792.5,579.1 795.8,578.2 799.1,578.2"/>
<polyline points="766.1,584.8 769.4,584.8"/>
<polyline points="768.6,588.1 771.9,587.7"/>
<polyline points="792.5,631.0 794.1,629.3 796.6,627.7 798.3,626.8 795.8,630.1 793.3,632.6"/>
<polyline points="420.1,394.8 422.2,395.4 425.4,395.3 427.9,394.9 430.5,395.5 433.3,395.4 435.4,394.7 438.1,395.3 438.1,397.9 435.0,401.7 433.3,403.8 431.8,405.9 427.5,408.5 424.1,409.3 421.2,410.1 419.6,411.4 416.9,413.3 419.6,413.0 423.1,413.9 426.1,413.6 428.6,413.8 431.3,415.1 435.0,416.5 437.6,417.2 440.3,418.6 441.8,422.8 444.5,427.1 447.6,428.4 449.8,429.2 454.0,431.3 457.2,434.5 459.3,437.7 462.5,440.8 464.6,444.0 463.6,446.1 460.4,447.2 462.5,448.8 465.7,447.7 468.9,448.0 472.0,447.7 474.8,448.9 478.4,449.3 481.6,451.4 480.5,454.6 477.3,456.7 474.2,458.9 473.1,461.0 469.9,462.0 465.7,463.6 469.2,464.4 472.0,464.2 474.9,464.3 477.3,465.2 474.2,467.3 471.6,467.6 468.7,468.1 465.7,468.4 462.0,469.7 459.3,470.0 456.3,470.6 453.0,471.0 449.3,471.3 446.6,471.6 442.9,471.9 440.3,472.1 437.3,471.9 433.9,472.1 430.8,471.6 427.5,471.6 424.8,471.6 421.2,472.1 416.9,473.7 412.7,474.7 409.2,475.0 406.4,475.8 403.0,476.3 400.0,476.9"/>
<polyline points="450.8,439.3 455.1,438.7 458.3,439.8"/>
<polyline points="478.4,480.0 478.7,476.5 479.6,473.2 480.5,470.5 484.7,468.4 488.1,467.9 491.1,467.3 495.3,466.3 497.3,465.0 500.0,464.2"/>
<polyline points="490.4,467.1 492.7,466.0 495.5,465.5 497.4,464.6 500.2,464.2 502.5,463.7 506.0,462.0 508.5,460.2 511.2,459.4 512.9,457.0 514.6,454.2 515.1,451.1 516.4,449.0 519.8,445.5 523.3,443.0 526.6,442.2 530.2,442.1 532.9,442.1 535.7,442.1 538.1,441.6 540.5,441.7 544.3,441.3 547.4,440.4 551.1,440.0 554.4,439.5 558.3,440.2 561.3,440.4 563.5,438.8 566.2,438.5 568.2,436.9 571.0,438.0 574.1,439.4 576.8,440.4"/>
<polyline points="519.8,449.0 523.3,447.3 525.8,447.8 528.4,449.0 530.2,452.5 526.7,454.2 523.8,453.7 521.5,452.5 519.8,449.0"/>
<polyline points="502.5,463.7 505.3,462.8 507.7,461.1 510.2,462.6 512.9,463.7 509.4,465.4"/>
<polyline points="506.0,464.5 509.6,464.9 512.9,464.5 516.8,465.4 519.8,466.3 522.7,466.7 526.7,467.1 529.1,468.4 531.9,469.7 533.6,473.2 531.9,476.6"/>
<polyline points="544.0,442.1 547.4,445.5 545.4,448.4 544.0,450.7 542.4,452.9 540.5,455.9 542.3,459.4 539.5,460.9 538.0,461.5 535.4,462.8 533.6,466.3 531.9,469.7"/>
<polyline points="530.2,479.2 533.6,476.6 537.1,480.1 535.4,483.5"/>
<polyline points="558.0,405.4 560.9,402.5 564.5,401.7 568.9,402.5 573.3,401.7 577.6,401.0 580.5,401.7 584.2,399.5 585.6,397.4 587.1,394.5"/>
<polyline points="574.0,400.3 576.9,397.4 579.1,396.3 581.8,396.4 584.2,395.9 586.4,395.2"/>
<polyline points="558.0,405.4 557.3,408.3 557.3,412.6 558.7,414.8 557.3,417.7 559.5,419.9 563.1,421.4 562.4,424.3 560.2,425.7 560.9,427.2 564.5,427.9 566.7,429.4 564.5,431.5 566.0,434.5 567.5,435.9 563.1,437.4 560.2,438.3 557.3,439.5 553.5,439.7 550.0,439.5"/>
<polyline points="562.4,437.4 565.6,437.9 568.5,437.2 571.8,437.4 574.7,439.5 577.6,441.0"/>
<polyline points="585.6,397.4 584.9,399.5 583.5,402.5 583.5,405.4 584.2,407.5 588.5,408.3 591.5,409.0 589.3,411.2 586.4,410.5 584.2,412.6 583.5,414.1 579.1,415.5 576.2,417.0 574.7,418.5 577.6,419.2 575.5,421.4 574.0,423.5 576.2,425.0 579.1,425.7 575.5,427.2 571.1,427.2 567.5,425.7 564.5,425.7"/>
<polyline points="577.6,419.2 582.0,418.5 586.4,418.5 589.3,420.6 590.7,423.5 588.5,426.5 584.2,425.7 580.5,424.3 578.4,422.1 577.6,419.2"/>
<polyline points="590.7,416.3 595.1,414.8 598.3,414.6 600.9,414.1 605.3,413.4 609.6,412.6 611.8,415.5 609.6,418.5 609.6,421.4 606.7,422.8 603.8,424.3 600.9,425.7 596.5,426.5 593.6,425.7 594.4,422.8 593.6,419.9 590.7,416.3"/>
<polyline points="592.9,427.2 597.3,427.9 600.9,427.9 603.8,427.2 606.7,425.7 610.4,425.0"/>
<polyline points="578.4,430.1 582.7,430.8 585.6,431.1 587.8,431.5 590.7,432.3 593.6,431.5 595.1,430.8 593.2,432.7 590.7,434.5 590.7,436.6 592.9,435.9 596.5,435.9 600.9,434.5 605.3,433.0 609.6,431.5 614.0,430.8 617.6,430.1 621.3,429.4 624.2,430.1 627.1,433.0 630.0,435.9"/>
<polyline points="590.7,399.9 593.6,399.5"/>
<polyline points="611.1,411.2 614.0,409.0"/>
<polyline points="559.5,424.3 562.4,425.0 563.8,426.5"/>
<polyline points="636.0,422.3 638.1,421.3 641.4,422.9 639.8,424.5 636.5,424.0 636.0,422.3"/>
<polyline points="618.5,429.4 621.2,428.3 624.5,430.0 623.4,432.2 620.2,431.6 618.5,429.4"/>
<polyline points="626.2,435.4 629.4,434.9 633.8,436.5 635.4,438.2 631.6,438.7 627.2,437.6"/>
<polyline points="576.0,322.0 578.0,321.2 580.2,320.5 583.1,319.0 585.4,318.0 587.7,317.4 590.0,316.0 592.2,315.1 594.7,312.8 598.1,312.1 600.3,310.4 603.0,309.0 605.4,307.0 607.8,306.4 610.2,304.6 612.0,303.0 613.5,300.6 615.6,299.0 617.9,297.1 620.0,295.0 622.2,293.4 624.8,291.6 628.0,289.5 630.0,288.0 633.0,286.4 635.5,284.8 637.0,283.0 640.0,282.0 642.9,279.9 644.3,277.8 647.0,276.0 649.6,275.0 652.0,274.1 655.6,272.7 658.0,271.8 661.1,270.9 663.2,269.3 666.1,267.5 669.0,266.4 671.6,265.2 674.5,264.4 677.2,262.8 680.0,262.0 682.4,261.7 685.4,260.1 688.0,259.9 690.0,259.0 692.1,257.8 694.5,257.7 697.5,256.7 700.0,256.0 703.5,255.3 706.2,255.4 709.0,255.6 712.0,255.0 714.7,254.6 716.8,254.4 719.9,254.0 722.2,253.5 725.0,253.5"/>
<polyline points="613.0,283.0 615.6,281.6 618.0,280.0 621.9,278.7 625.0,278.0 628.0,277.2 631.1,276.5 634.0,276.0 637.5,275.1 640.0,274.0 638.2,276.1 636.0,279.0 633.3,279.9 630.3,280.6 628.0,281.0 626.0,282.3 623.3,282.5 620.0,283.7 618.0,284.0 615.0,283.5 613.0,283.0"/>
<polyline points="700.0,266.0 697.8,267.5 694.5,268.1 692.8,268.8 690.0,270.0 687.0,270.8 685.3,272.0 682.5,273.0 680.0,274.0 677.9,274.9 675.7,276.3 672.6,276.5 670.9,278.3 668.0,279.0 665.8,280.7 662.7,282.2 660.4,283.3 658.9,285.7 656.0,287.0 655.6,290.0"/>
<polyline points="641.2,568.2 644.8,568.3 648.2,568.8 650.7,569.1 654.1,569.4 654.7,571.2 651.2,572.9 654.2,573.9 656.5,575.3 659.0,576.2 662.4,577.6 666.3,578.3 669.4,580.0 671.3,580.8 674.2,582.0 676.5,583.5 678.8,585.6 681.2,587.1 681.8,589.4 680.0,591.8 676.5,589.4 671.8,588.2 669.1,587.6 667.1,586.5 664.7,585.3 661.2,586.5 658.8,589.4 658.2,591.8 660.3,593.9 662.4,595.3 665.9,597.6 666.5,601.2 662.4,602.4 660.0,605.9 656.5,609.4 652.9,611.8 650.6,612.0"/>
<polyline points="638.8,583.5 642.4,587.1 645.9,589.4 649.4,592.9 651.0,595.1 651.8,597.6 652.5,599.6 654.1,602.4 652.4,605.3 649.4,608.2 647.1,610.6"/>
<polyline points="849.0,570.5 852.5,569.4 855.0,569.0 858.0,568.9 861.0,567.8"/>
<polyline points="694.8,570.0 693.2,573.3 692.4,577.4 692.2,580.4 691.5,584.0 694.0,588.1 696.0,590.7 698.1,593.1 701.4,594.7"/>
<polyline points="706.4,570.0 707.2,574.1 708.5,576.4 710.5,578.2 712.1,582.4 711.3,585.7 708.0,588.1 704.7,590.6 702.2,592.2 700.6,594.7"/>
<polyline points="712.1,582.4 714.6,579.9 716.9,579.6 719.5,579.1 723.7,577.4 726.1,577.4 729.7,576.6 732.7,576.6 736.0,574.9 737.7,572.5 736.8,570.0"/>
<polyline points="700.6,594.7 702.1,596.5 704.2,598.8 706.4,600.5 709.1,600.9 711.3,601.3 714.6,601.3 711.3,602.9 712.9,605.4 713.8,609.5 714.6,612.8 717.9,616.1 720.4,619.4 718.7,621.9 721.2,624.4 724.5,622.7 727.8,625.2 729.4,629.3 732.7,629.3 734.4,626.0 736.8,627.7 737.7,631.0 736.0,631.8"/>
<polyline points="704.7,608.7 707.2,606.2 708.8,610.4 707.2,614.5 710.5,615.3"/>
<polyline points="714.6,608.7 716.9,608.5 719.5,607.9 722.0,607.1 724.5,607.1 727.4,607.4 729.4,608.7 733.5,611.2 737.7,612.0 740.6,612.4 742.6,612.8 745.9,614.5 748.4,616.1"/>
<polyline points="732.7,617.0 734.4,619.4 736.0,622.7 737.7,626.0 736.8,629.3"/>
<polyline points="731.1,588.1 730.2,591.4 732.7,593.9 736.0,595.5 734.4,598.0 731.9,602.1 735.2,602.9 737.9,604.3 740.1,604.6 744.3,606.2 747.5,608.7 750.8,611.2 754.1,612.8 756.8,613.2 759.1,614.5 763.2,616.1"/>
<polyline points="741.0,603.8 743.9,604.7 745.9,605.4 750.0,607.1 751.7,609.5 749.2,611.2 745.9,609.5 742.6,607.9 741.0,603.8"/>
<polyline points="752.5,616.1 753.3,619.4"/>
<polyline points="761.5,621.1 764.5,621.8 766.5,622.7 764.8,624.0 762.0,622.7"/>
<polyline points="751.7,626.0 754.1,626.0"/>
<polyline points="709.7,601.3 712.9,600.9 713.8,602.1"/>
<polyline points="689.8,563.3 691.9,566.0 693.0,568.0 694.8,570.0"/>
<polyline points="702.7,563.3 705.0,567.0 706.4,570.0"/>
<polyline points="707.9,565.9 712.0,565.0 714.3,564.5 717.0,564.6 719.1,564.9 722.0,564.8 724.5,565.0 727.3,564.6 731.0,565.5 733.7,567.2 735.5,570.5 736.3,573.6"/>
<polyline points="686.0,552.0 689.8,554.2 694.0,556.5 696.7,558.2 698.8,559.4 700.8,561.0 702.7,563.3 705.1,564.8 707.9,565.9"/>
<polyline points="721.6,252.9 723.0,252.6 724.3,252.8"/>
<polyline points="702.3,258.4 703.3,256.7 706.1,256.6"/>
<polyline points="729.0,256.5 730.8,256.8 732.2,255.4"/>
<polyline points="740.1,252.3 742.2,252.2 742.7,253.0"/>
<polyline points="707.3,255.1 709.4,254.5 712.8,253.6"/>
<polyline points="744.5,252.2 745.0,251.6 747.3,252.1"/>
<polyline points="746.5,252.8 748.8,251.9 751.3,251.8"/>
<polyline points="754.9,254.0 757.3,254.1 759.6,252.8"/>
<polyline points="751.0,250.8 752.2,251.7 753.8,251.6"/>
<polyline points="708.6,257.6 711.4,256.6 713.2,255.3"/>
<polyline points="760.5,250.5 763.1,250.5 765.4,250.8"/>
<polyline points="758.1,254.9 759.8,255.0 763.2,254.4"/>
<polyline points="744.9,255.6 746.5,256.2 748.5,256.1"/>
<polyline points="700.2,258.1 700.7,258.1 703.0,257.0"/>
<polyline points="706.2,255.9 708.2,255.2 712.0,254.6"/>
<polyline points="736.7,255.2 739.2,255.5 742.6,256.1"/>
<polyline points="724.5,256.6 725.4,256.3 727.6,257.1"/>
<polyline points="715.0,255.8 715.7,255.5 718.5,255.6"/>
<polyline points="724.0,254.4 726.6,255.1 729.1,255.3"/>
<polyline points="745.7,249.5 749.2,250.7 751.2,250.7"/>
<polyline points="725.8,254.7 727.2,252.8 730.4,252.6"/>
<polyline points="713.4,254.3 713.7,253.3 716.0,253.7"/>
<polyline points="704.5,257.6 707.4,255.5 709.9,254.9"/>
<polyline points="716.5,255.0 718.7,255.7 719.4,254.3"/>
<polyline points="732.1,254.2 733.1,253.2 734.8,253.2"/>
<polyline points="756.6,251.2 759.6,249.3 762.4,248.8"/>
<polyline points="735.6,250.7 739.6,251.0 742.0,250.4"/>
<polyline points="716.0,255.7 718.7,255.3 721.2,253.7"/>
<polyline points="720.2,252.9 724.1,253.8 726.6,253.5"/>
<polyline points="756.8,254.1 758.7,252.6 761.2,252.9"/>
<polyline points="699.3,257.2 702.7,256.3 704.3,255.6"/>
<polyline points="765.8,253.8 767.1,253.8 769.6,254.8"/>
<polyline points="710.8,254.5 714.6,254.3 716.9,254.2"/>
<polyline points="744.7,255.6 747.9,255.2 749.5,253.8"/>
<polyline points="751.3,253.1 753.6,252.9 756.7,251.5"/>
<polyline points="766.8,251.0 770.4,249.9 773.0,250.1"/>
<polyline points="706.0,254.3 708.1,255.4 711.7,255.1"/>
<polyline points="768.4,252.5 769.9,251.1 773.0,251.6"/>
<polyline points="766.9,252.3 769.8,252.8 773.1,251.9"/>
<polyline points="757.6,250.7 758.8,250.5 761.1,249.9"/>
<polyline points="715.7,256.2 718.2,255.0 721.4,253.9"/>
<polyline points="739.0,256.0 742.1,255.7 745.2,255.2"/>
<polyline points="735.8,250.8 736.4,251.2 739.0,250.4"/>
<polyline points="710.0,256.1 712.0,256.2 714.7,256.3"/>
<polyline points="737.8,255.8 739.5,254.6 742.3,254.2"/>
<polyline points="752.8,252.4 756.4,252.2 758.3,252.3"/>
<polyline points="741.4,253.3 743.9,253.2 746.7,252.9"/>
<polyline points="731.5,256.1 735.4,255.9 737.5,256.6"/>
<polyline points="738.9,255.7 739.6,255.9 741.9,256.2"/>
<polyline points="702.6,256.8 705.6,256.6 707.4,254.7"/>
<polyline points="709.7,257.8 712.0,258.7 712.8,257.8"/>
<polyline points="713.9,259.0 717.1,259.3 718.3,258.1"/>
<polyline points="709.6,256.3 710.9,255.7 713.4,255.8"/>
<polyline points="749.6,249.7 750.8,249.3 753.9,249.6"/>
<polyline points="741.9,254.3 745.4,254.0 747.9,251.9"/>
<polyline points="704.8,256.8 706.9,254.9 709.9,254.4"/>
<polyline points="728.7,256.2 729.8,257.3 732.2,256.7"/>
<polyline points="739.8,254.9 741.5,254.3 742.4,254.0"/>
<polyline points="702.7,260.0 704.7,260.6 708.4,259.8"/>
<polyline points="703.2,259.8 705.2,260.4 707.0,259.2"/>
<polyline points="717.2,253.4 718.1,252.6 720.6,253.0"/>
<polyline points="701.6,256.2 703.9,255.3 705.2,255.3"/>
<polyline points="734.5,251.9 735.3,250.7 737.1,251.5"/>
<polyline points="750.6,253.4 753.6,252.0 754.9,252.2"/>
<polyline points="756.0,251.9 758.7,251.7 761.8,251.5"/>
<polyline points="746.8,256.1 750.1,255.9 752.5,255.1"/>
<polyline points="727.5,253.9 728.1,253.7 730.3,252.6"/>
<polyline points="715.4,254.8 718.8,253.9 720.7,252.3"/>
<polyline points="717.9,254.4 719.3,253.7 722.1,253.2"/>
<polyline points="717.0,257.8 718.7,259.2 721.5,258.7"/>
<polyline points="720.3,255.1 722.0,254.2 723.9,253.3"/>
<polyline points="712.8,256.9 713.6,255.9 716.0,255.3"/>
<polyline points="589.3,322.4 590.8,319.6 593.9,317.9"/>
<polyline points="621.9,296.0 624.1,294.8 626.5,293.6"/>
<polyline points="588.3,321.9 588.7,320.0 591.1,319.0"/>
<polyline points="598.4,316.0 599.3,315.9 601.2,313.8"/>
<polyline points="580.7,324.6 582.9,323.3 585.8,321.1"/>
<polyline points="600.4,312.1 602.4,310.4 605.9,310.5"/>
<polyline points="620.0,300.3 622.7,298.0 625.2,294.8"/>
<polyline points="616.4,300.9 618.4,299.1 621.9,296.3"/>
<polyline points="581.5,323.7 585.7,322.3 588.5,320.9"/>
<polyline points="585.9,318.6 587.4,318.1 590.7,316.0"/>
<polyline points="602.2,312.7 602.8,310.9 605.2,309.8"/>
<polyline points="589.3,318.7 592.9,316.1 595.0,314.8"/>
<polyline points="593.9,313.9 596.7,312.7 600.8,310.5"/>
<polyline points="590.5,314.8 592.0,313.9 594.9,313.3"/>
<polyline points="588.4,318.9 590.7,317.2 592.6,316.3"/>
<polyline points="581.4,321.7 583.1,320.3 585.3,317.8"/>
<polyline points="602.0,311.7 602.7,310.6 605.2,310.9"/>
<polyline points="595.8,315.1 598.9,313.2 600.1,313.2"/>
<polyline points="615.4,300.1 617.9,300.1 618.4,299.1"/>
<polyline points="622.2,299.4 624.7,295.8 627.4,293.8"/>
<polyline points="606.0,308.6 606.8,307.7 609.1,306.5"/>
<polyline points="597.1,312.2 600.2,310.3 602.4,308.5"/>
<polyline points="596.3,314.4 597.6,312.3 599.2,311.7"/>
<polyline points="612.1,305.7 613.2,304.8 614.8,304.2"/>
<polyline points="582.9,324.5 585.9,323.0 588.0,322.7"/>
<polyline points="587.8,319.2 589.7,318.4 593.5,317.1"/>
<polyline points="618.0,300.8 621.1,299.3 625.3,298.6"/>
<polyline points="603.3,313.6 607.0,311.3 609.2,308.9"/>
<polyline points="607.6,309.7 610.4,308.3 611.7,308.1"/>
<polyline points="596.2,317.0 597.9,316.5 600.4,315.5"/>
<polyline points="615.4,302.3 619.2,301.6 621.7,300.5"/>
<polyline points="594.2,315.8 597.2,313.8 598.8,312.7"/>
<polyline points="581.8,324.8 583.0,323.9 585.7,321.7"/>
<polyline points="589.6,316.8 591.7,316.7 594.7,315.2"/>
<polyline points="595.3,313.4 599.0,312.0 601.8,311.7"/>
<polyline points="614.8,302.7 617.6,302.5 619.3,301.1"/>
<polyline points="594.7,315.9 599.1,315.0 601.9,313.0"/>
<polyline points="585.0,321.6 586.5,321.7 588.2,320.3"/>
<polyline points="620.1,302.8 622.7,300.9 623.9,298.3"/>
<polyline points="590.2,314.4 594.0,313.4 597.1,312.9"/>
<polyline points="615.6,303.6 617.9,301.9 621.0,301.1"/>
<polyline points="594.5,314.9 596.5,313.6 597.5,313.0"/>
<polyline points="584.7,320.2 587.3,318.0 588.9,317.4"/>
<polyline points="587.3,319.5 589.0,316.4 592.2,315.1"/>
<polyline points="603.3,310.9 605.6,310.7 608.7,309.0"/>
<polyline points="610.1,305.6 614.3,304.5 616.5,301.7"/>
<polyline points="584.1,320.8 586.2,318.9 587.3,318.8"/>
<polyline points="655.1,277.9 657.0,275.8 660.8,273.6"/>
<polyline points="688.0,259.8 690.0,258.9 693.8,258.4"/>
<polyline points="674.6,268.2 675.9,266.9 678.2,267.2"/>
<polyline points="660.1,279.5 662.9,278.7 666.3,276.9"/>
<polyline points="627.8,291.1 630.5,288.5 633.4,287.7"/>
<polyline points="639.6,283.5 641.7,282.2 645.0,279.4"/>
<polyline points="686.8,260.3 688.4,259.2 691.8,258.4"/>
<polyline points="689.9,259.5 691.8,260.0 693.4,258.8"/>
<polyline points="634.9,284.5 635.9,281.7 638.8,280.6"/>
<polyline points="660.3,279.8 662.7,277.7 664.6,277.3"/>
<polyline points="662.5,271.5 665.1,270.2 669.5,268.6"/>
<polyline points="664.7,271.2 668.9,268.2 671.0,266.6"/>
<polyline points="675.7,272.9 677.2,271.0 680.6,269.7"/>
<polyline points="672.9,270.0 674.3,270.4 676.2,269.3"/>
<polyline points="664.0,273.9 667.5,270.9 670.6,269.9"/>
<polyline points="681.6,264.5 683.3,263.3 685.2,262.7"/>
<polyline points="629.5,294.9 630.5,292.7 633.4,289.4"/>
<polyline points="682.5,265.1 685.0,264.4 686.6,264.1"/>
<polyline points="640.5,289.4 643.2,287.9 644.5,286.9"/>
<polyline points="670.6,267.2 671.8,267.8 674.8,266.5"/>
<polyline points="635.2,290.8 637.2,289.5 641.1,289.9"/>
<polyline points="635.2,286.5 638.4,284.3 642.2,283.5"/>
<polyline points="662.5,272.4 664.9,269.6 666.6,268.6"/>
<polyline points="655.7,279.1 658.9,277.9 660.5,278.1"/>
<polyline points="675.7,270.0 677.5,268.7 681.0,269.3"/>
<polyline points="660.6,272.6 662.7,271.4 663.8,271.4"/>
<polyline points="622.1,295.1 624.0,292.6 626.4,291.5"/>
<polyline points="657.7,280.7 660.3,280.4 664.7,278.0"/>
<polyline points="688.5,263.6 692.0,262.0 693.8,262.2"/>
<polyline points="669.4,272.2 672.5,269.6 674.7,268.5"/>
<polyline points="673.3,269.1 675.2,268.0 678.9,266.6"/>
<polyline points="649.7,284.3 653.0,282.6 655.5,280.5"/>
<polyline points="686.1,259.9 689.3,259.1 691.9,258.7"/>
<polyline points="626.4,291.5 627.1,290.2 629.6,289.4"/>
<polyline points="656.5,278.9 658.7,277.3 661.5,274.5"/>
<polyline points="624.7,300.6 628.8,299.1 631.0,296.2"/>
<polyline points="629.0,292.1 630.6,288.9 633.4,286.9"/>
<polyline points="626.8,289.2 630.1,288.3 633.9,286.5"/>
<polyline points="656.1,278.1 658.2,276.2 661.4,275.3"/>
<polyline points="658.1,274.4 660.5,271.8 664.7,270.8"/>
<polyline points="679.6,263.6 682.8,261.1 685.6,259.7"/>
<polyline points="625.4,294.0 628.7,292.1 630.1,289.0"/>
<polyline points="689.3,265.6 694.0,264.8 696.7,265.5"/>
<polyline points="643.8,280.8 645.9,280.3 648.6,278.6"/>
<polyline points="650.3,278.0 652.7,276.7 654.7,275.2"/>
<polyline points="653.6,276.1 654.9,275.2 657.6,274.1"/>
<polyline points="636.7,288.8 638.7,287.7 640.1,287.4"/>
<polyline points="653.9,278.7 657.9,277.4 661.0,277.2"/>
<polyline points="661.8,274.7 663.7,273.4 665.7,270.6"/>
<polyline points="647.3,284.4 649.3,283.1 650.4,282.8"/>
<polyline points="659.6,273.8 661.2,270.4 664.7,268.4"/>
<polyline points="630.5,285.8 634.5,284.5 638.0,283.7"/>
<polyline points="688.3,264.2 690.7,262.2 693.7,261.0"/>
<polyline points="644.7,282.5 647.7,280.7 649.2,278.6"/>
<polyline points="625.1,298.9 627.3,297.0 627.9,294.4"/>
<polyline points="691.5,264.9 693.1,264.4 694.8,263.3"/>
<polyline points="638.0,284.4 640.4,283.8 642.4,282.9"/>
<polyline points="690.3,259.6 693.6,257.2 696.2,256.4"/>
<polyline points="629.4,289.4 631.8,286.6 635.3,284.9"/>
<polyline points="671.1,268.7 675.8,268.5 678.8,267.4"/>
<polyline points="656.9,273.0 659.3,272.7 661.7,271.8"/>
<polyline points="693.4,261.2 696.4,261.0 701.0,261.3"/>
<polyline points="689.7,264.5 691.7,265.5 693.6,264.7"/>
<polyline points="662.9,275.4 663.9,275.8 666.7,274.9"/>
<polyline points="664.1,270.7 665.4,269.8 668.3,269.7"/>
<polyline points="624.6,294.7 627.8,292.6 629.2,292.3"/>
<polyline points="633.4,285.5 635.5,284.7 636.9,283.8"/>
<polyline points="664.9,275.8 667.8,274.6 672.1,273.9"/>
<polyline points="694.2,261.2 695.9,260.8 699.0,259.0"/>
<polyline points="667.2,267.8 669.4,267.6 672.6,267.0"/>
<polyline points="694.0,261.1 694.7,260.0 697.2,258.8"/>
<polyline points="646.9,285.2 648.0,283.4 649.2,283.2"/>
<polyline points="643.3,281.8 646.5,279.5 647.9,277.8"/>
<polyline points="668.1,269.4 670.0,269.4 673.7,268.5"/>
<polyline points="635.1,285.1 637.9,282.3 639.9,279.9"/>
<polyline points="663.9,276.9 666.6,275.6 668.5,272.5"/>
<polyline points="626.5,295.5 629.0,293.7 632.0,291.2"/>
<polyline points="687.9,262.2 690.4,262.2 694.9,260.2"/>
<polyline points="643.9,283.4 646.7,281.8 649.4,279.3"/>
<polyline points="630.9,294.3 633.1,292.5 636.5,291.6"/>
<polyline points="653.7,274.0 657.1,273.2 658.6,273.6"/>
<polyline points="670.8,272.8 672.3,271.9 675.6,271.3"/>
<polyline points="650.3,282.6 655.0,281.7 657.9,282.1"/>
<polyline points="625.0,294.7 626.1,292.6 626.8,291.6"/>
<polyline points="665.9,272.6 668.4,271.2 672.2,268.2"/>
<polyline points="661.3,277.7 664.6,275.0 666.3,273.4"/>
<polyline points="656.6,278.8 659.9,277.1 662.6,276.2"/>
<polyline points="673.0,272.0 676.0,270.8 678.3,269.6"/>
<polyline points="627.5,292.3 629.5,290.7 633.2,289.3"/>
<polyline points="665.6,274.3 668.3,272.4 670.2,270.4"/>
<polyline points="693.5,263.3 695.7,261.1 697.1,260.7"/>
<polyline points="695.7,262.5 696.6,263.1 699.5,262.2"/>
<polyline points="658.8,276.0 661.5,275.1 664.8,273.1"/>
<polyline points="635.4,291.8 637.4,291.8 639.6,290.2"/>
<polyline points="644.8,283.3 648.0,283.1 652.2,281.8"/>
<polyline points="668.6,275.3 670.3,274.2 672.2,271.8"/>
<polyline points="653.2,275.6 656.9,273.8 659.0,271.7"/>
<polyline points="629.6,294.4 631.5,293.1 633.6,292.6"/>
<polyline points="628.6,296.0 630.5,293.9 630.7,293.3"/>
<polyline points="679.9,269.8 681.3,268.9 683.9,267.2"/>
<polyline points="695.7,263.3 698.2,262.9 701.1,261.7"/>
<polyline points="640.7,282.3 643.6,282.0 644.6,280.8"/>
<polyline points="633.8,284.1 635.5,283.6 637.1,282.6"/>
<polyline points="681.1,265.0 683.6,263.4 687.5,262.5"/>
<polyline points="682.5,263.7 683.4,263.3 685.9,263.4"/>
<polyline points="655.9,277.1 658.8,276.5 660.2,274.2"/>
<polyline points="668.0,269.7 668.9,269.5 671.5,268.2"/>
<polyline points="640.4,281.6 641.6,280.4 643.9,280.6"/>
<polyline points="690.3,264.7 692.5,263.1 693.2,263.1"/>
<polyline points="675.5,270.0 677.8,268.6 680.5,268.2"/>
<polyline points="669.1,268.2 670.8,268.1 673.0,266.5"/>
<polyline points="665.3,274.5 667.3,274.7 668.2,273.4"/>
<polyline points="676.2,267.4 679.5,266.1 683.6,266.2"/>
<polyline points="645.8,278.1 646.2,277.0 648.6,276.2"/>
<polyline points="622.4,296.9 624.4,296.0 628.2,294.2"/>
<polyline points="636.3,289.7 638.8,289.6 641.5,287.6"/>
<polyline points="639.4,289.7 640.2,287.6 642.0,287.4"/>
<polyline points="630.2,278.6 632.8,278.9 634.1,278.0"/>
<polyline points="632.1,277.2 633.9,277.6 636.6,276.3"/>
<polyline points="641.6,274.1 644.3,273.8 647.5,274.4"/>
<polyline points="632.2,278.0 634.5,278.3 638.3,277.6"/>
<polyline points="643.2,278.1 643.9,277.2 646.4,277.8"/>
<polyline points="639.6,276.6 642.7,275.7 646.6,274.5"/>
<polyline points="624.4,277.8 627.2,277.0 631.4,277.3"/>
<polyline points="623.8,278.0 627.5,277.6 630.6,277.0"/>
<polyline points="638.0,275.8 640.6,274.7 642.8,275.1"/>
<polyline points="634.9,277.2 638.9,275.6 641.1,274.3"/>
<polyline points="624.5,279.2 626.7,277.6 630.2,277.5"/>
<polyline points="625.1,277.9 629.1,277.8 632.0,277.7"/>
<polyline points="622.6,280.8 625.1,279.0 628.3,277.9"/>
<polyline points="615.0,280.7 618.1,280.8 619.8,280.3"/>
<polyline points="619.6,279.7 622.5,279.3 625.0,280.6"/>
<polyline points="627.3,279.4 629.9,279.0 632.2,278.4"/>
<polyline points="625.8,278.4 629.4,276.8 633.4,277.0"/>
<polyline points="613.6,281.9 614.3,281.0 616.7,280.4"/>
<polyline points="642.3,276.6 644.8,275.9 647.3,275.4"/>
<polyline points="634.6,279.3 637.4,280.0 639.7,279.0"/>
<polyline points="616.3,279.5 619.8,279.5 622.6,279.2"/>
<polyline points="636.1,276.9 639.8,277.7 643.7,277.0"/>
<polyline points="633.7,281.0 637.4,280.1 640.1,277.4"/>
<polyline points="642.4,275.4 644.5,276.1 646.1,275.1"/>
<polyline points="555.3,336.8 552.7,337.1 550.1,337.1"/>
<polyline points="569.8,330.9 565.8,331.6 563.4,333.0"/>
<polyline points="572.2,327.8 571.6,329.2 569.1,328.7"/>
<polyline points="543.4,339.6 542.2,339.6 540.9,341.4"/>
<polyline points="568.9,331.8 566.8,334.2 565.0,335.3"/>
<polyline points="552.0,336.7 549.0,337.3 546.2,338.8"/>
<polyline points="526.9,345.6 523.4,345.7 520.7,347.0"/>
<polyline points="564.6,336.3 562.9,336.4 559.8,337.1"/>
<polyline points="527.5,344.6 527.0,346.0 524.8,347.6"/>
<polyline points="528.4,347.0 526.8,348.6 524.1,351.1"/>
<polyline points="575.3,330.6 571.2,330.3 568.7,331.1"/>
<polyline points="573.8,332.2 572.0,332.5 570.0,333.0"/>
<polyline points="568.2,329.0 565.0,330.7 563.4,332.7"/>
<polyline points="569.2,333.6 565.4,334.7 562.3,334.2"/>
<polyline points="568.6,332.7 564.8,334.1 562.6,333.6"/>
<polyline points="568.0,333.5 565.3,333.1 563.5,334.5"/>
<polyline points="573.7,327.9 571.0,329.4 568.8,331.1"/>
<polyline points="530.3,346.6 526.4,347.4 523.8,349.5"/>
<polyline points="530.2,343.9 529.1,345.9 527.1,346.2"/>
<polyline points="567.9,329.4 564.8,329.0 562.0,330.2"/>
<polyline points="575.6,324.5 572.5,326.9 570.3,328.1"/>
<polyline points="548.5,339.4 544.9,340.6 543.1,343.0"/>
<polyline points="548.6,336.7 547.3,336.7 544.4,337.9"/>
<polyline points="577.2,328.9 575.1,329.4 574.2,330.3"/>
<polyline points="550.7,340.0 548.4,341.9 544.1,343.2"/>
<polyline points="541.6,340.5 539.3,342.2 539.0,342.3"/>
<polyline points="541.3,337.5 538.9,340.0 536.7,341.5"/>
<polyline points="561.0,330.3 559.2,332.8 556.5,333.7"/>
<polyline points="541.3,341.1 537.4,342.0 534.0,342.3"/>
<polyline points="531.8,342.9 529.6,344.7 526.0,346.3"/>
<polyline points="547.0,340.3 543.3,341.5 541.3,342.1"/>
<polyline points="526.6,346.1 524.8,347.0 522.0,347.5"/>
<polyline points="555.4,333.2 551.8,335.3 550.1,337.1"/>
<polyline points="554.5,338.8 552.1,340.2 549.2,339.9"/>
<polyline points="566.8,334.6 563.6,335.6 561.5,337.9"/>
<polyline points="532.4,344.1 528.9,346.1 526.0,347.6"/>
<polyline points="569.7,332.0 566.9,332.5 562.5,333.4"/>
<polyline points="548.6,339.2 547.1,341.5 544.3,342.3"/>
<polyline points="540.1,338.8 538.4,339.3 536.8,340.7"/>
<polyline points="567.9,332.3 565.0,333.8 562.8,334.0"/>
<polyline points="527.2,347.7 526.8,347.9 524.9,349.9"/>
<polyline points="542.4,340.2 538.5,341.1 536.4,343.5"/>
<polyline points="555.7,339.8 552.9,339.1 551.6,340.2"/>
<polyline points="546.7,340.1 544.4,341.9 540.8,341.8"/>
<polyline points="543.3,342.7 540.5,343.4 539.7,344.2"/>
<polyline points="542.0,343.0 540.4,344.2 538.0,345.3"/>
<polyline points="547.0,337.5 544.7,338.1 540.8,340.4"/>
<polyline points="529.7,344.4 528.0,347.0 525.8,347.9"/>
<polyline points="560.0,335.2 557.5,335.4 553.2,335.7"/>
<polyline points="546.6,342.0 543.4,343.2 539.8,343.5"/>
<polyline points="568.1,330.2 564.3,331.0 560.4,330.7"/>
<polyline points="561.2,332.3 558.0,332.4 556.5,332.7"/>
<polyline points="548.6,337.0 547.8,336.7 545.7,338.2"/>
<polyline points="538.6,344.0 535.0,345.1 532.9,347.7"/>
<polyline points="552.2,336.9 549.9,337.2 545.9,337.5"/>
<polyline points="530.8,348.3 528.2,350.4 526.4,351.7"/>
<polyline points="545.9,340.4 542.7,340.5 540.3,341.1"/>
<polyline points="534.3,340.8 532.5,343.1 528.8,345.2"/>
<polyline points="549.8,340.3 547.4,340.3 544.7,342.1"/>
<polyline points="529.4,346.4 526.6,348.1 523.5,349.9"/>
<polyline points="543.8,343.5 542.3,345.2 539.1,345.2"/>
<polyline points="564.4,332.4 563.0,334.8 560.4,335.6"/>
<polyline points="554.5,337.2 552.8,338.0 549.4,340.3"/>
<polyline points="538.7,345.2 537.3,346.0 535.3,347.4"/>
<polyline points="560.3,332.9 556.9,334.8 555.0,336.7"/>
<polyline points="566.4,334.2 563.8,334.9 561.6,336.1"/>
<polyline points="552.1,339.1 549.8,340.7 546.9,342.2"/>
<polyline points="534.1,344.3 532.5,345.3 530.0,345.2"/>
<polyline points="533.4,345.5 529.7,348.6 527.2,349.7"/>
<polyline points="534.1,346.2 531.1,347.4 528.9,350.1"/>
<polyline points="535.2,344.8 533.3,345.6 531.8,345.7"/>
<polyline points="516.4,366.8 517.9,366.1 521.3,366.0"/>
<polyline points="513.4,360.1 517.4,359.9 521.2,359.0"/>
<polyline points="517.3,358.6 520.8,357.1 526.1,354.3"/>
<polyline points="516.6,355.0 520.4,352.9 522.8,352.7"/>
<polyline points="515.3,353.6 518.5,353.9 519.8,352.4"/>
<polyline points="519.4,356.9 522.3,354.8 524.8,354.2"/>
<polyline points="521.4,374.1 525.4,371.9 529.7,370.1"/>
<polyline points="519.0,370.5 521.5,370.8 523.0,369.2"/>
<polyline points="518.3,382.7 521.6,382.0 524.2,380.6"/>
<polyline points="520.5,357.1 524.5,355.9 527.4,354.7"/>
<polyline points="515.2,353.3 518.1,352.1 522.2,351.2"/>
<polyline points="514.1,365.6 516.8,364.3 520.8,362.1"/>
<polyline points="520.2,354.9 523.1,353.5 527.8,352.2"/>
<polyline points="518.0,360.0 522.9,359.6 527.8,357.3"/>
<polyline points="514.4,357.0 517.3,357.0 519.3,355.3"/>
<polyline points="521.2,352.9 523.7,351.7 527.3,352.4"/>
<polyline points="515.4,352.8 520.6,352.0 525.8,353.2"/>
<polyline points="513.2,361.3 516.7,361.1 521.3,360.9"/>
<polyline points="514.5,368.4 520.0,365.8 523.8,364.5"/>
<polyline points="511.9,361.8 516.6,360.4 521.3,358.1"/>
<polyline points="521.4,373.7 524.4,373.0 526.7,371.6"/>
<polyline points="514.8,356.0 517.3,356.1 520.1,354.4"/>
<polyline points="514.4,368.9 520.0,368.8 524.5,368.9"/>
<polyline points="512.9,370.4 516.5,369.8 520.6,369.8"/>
<polyline points="517.1,376.4 521.6,374.8 524.5,372.0"/>
<polyline points="514.0,380.8 518.1,378.9 522.8,378.7"/>
<polyline points="517.7,362.3 522.0,362.6 526.1,362.4"/>
<polyline points="517.7,356.1 520.4,355.5 524.2,355.2"/>
<polyline points="516.2,362.3 517.9,361.7 520.3,360.3"/>
<polyline points="516.8,375.1 519.1,375.1 523.2,375.2"/>
<polyline points="520.5,365.4 523.0,364.6 526.6,364.5"/>
<polyline points="524.8,380.3 526.9,379.2 530.2,378.4"/>
<polyline points="512.5,358.8 515.9,357.7 520.7,356.7"/>
<polyline points="514.2,371.9 518.1,371.2 520.6,369.2"/>
<polyline points="517.0,359.0 520.6,359.0 523.5,358.4"/>
<polyline points="519.2,381.7 522.8,380.9 525.4,380.8"/>
<polyline points="519.6,367.7 521.3,366.9 524.2,366.0"/>
<polyline points="522.0,360.6 525.8,360.6 527.9,360.2"/>
<polyline points="513.4,364.0 515.7,364.3 519.5,364.0"/>
<polyline points="142.9,239.0 149.2,239.9 156.8,241.9"/>
<polyline points="136.8,237.9 140.4,238.1 143.8,239.5"/>
<polyline points="145.2,235.2 150.0,236.2 156.7,238.1"/>
<polyline points="136.8,244.1 144.1,246.3 150.1,247.5"/>
<polyline points="187.9,218.4 194.9,219.5 202.0,219.5"/>
<polyline points="163.5,228.2 168.2,228.0 173.6,229.3"/>
<polyline points="181.2,222.3 187.3,224.6 193.3,226.0"/>
<polyline points="137.9,243.5 141.1,244.1 145.5,244.5"/>
<polyline points="143.6,237.3 147.7,238.2 153.2,239.1"/>
<polyline points="141.4,236.0 145.3,236.5 150.9,236.5"/>
<polyline points="185.2,213.1 191.6,214.0 199.8,216.3"/>
<polyline points="183.0,224.4 186.5,225.8 190.4,225.8"/>
<polyline points="184.1,221.1 191.0,222.0 198.3,222.0"/>
<polyline points="136.9,246.0 142.7,247.4 149.6,248.3"/>
<polyline points="164.1,229.3 170.2,229.6 177.0,230.7"/>
<polyline points="139.6,243.1 142.8,243.5 147.8,243.4"/>
<polyline points="163.6,230.2 168.4,229.4 173.8,230.3"/>
<polyline points="130.2,251.2 134.2,251.6 139.1,251.5"/>
<polyline points="130.0,242.6 135.9,243.1 143.9,244.2"/>
<polyline points="161.6,235.9 167.2,236.3 172.0,237.5"/>
<polyline points="127.8,243.3 133.6,245.5 140.4,246.9"/>
<polyline points="180.8,216.8 184.9,217.2 190.0,218.4"/>
<polyline points="139.7,238.4 143.8,238.9 149.5,238.5"/>
<polyline points="164.8,222.2 168.5,223.2 172.4,224.0"/>
<polyline points="149.2,233.5 153.5,233.2 156.4,234.5"/>
<polyline points="178.8,217.8 182.7,217.5 188.4,218.6"/>
<polyline points="147.9,232.8 154.5,234.9 162.9,236.9"/>
<polyline points="134.7,244.9 142.0,244.8 149.2,246.3"/>
<polyline points="127.5,242.1 131.1,242.8 134.7,244.1"/>
<polyline points="149.6,238.8 156.4,240.1 162.5,239.7"/>
<polyline points="162.4,234.7 168.4,236.1 173.8,236.2"/>
<polyline points="181.8,214.0 188.0,214.3 192.9,214.5"/>
<polyline points="150.5,242.0 153.0,241.4 157.3,242.6"/>
<polyline points="170.3,218.6 178.3,220.7 184.3,221.6"/>
<polyline points="154.2,233.4 160.0,235.5 166.6,236.6"/>
<polyline points="133.2,239.2 137.8,241.3 143.3,242.3"/>
<polyline points="154.8,227.4 158.7,228.3 163.3,227.5"/>
<polyline points="145.1,241.4 150.9,243.2 154.7,243.9"/>
<polyline points="155.3,228.3 162.6,228.7 169.8,230.3"/>
<polyline points="150.8,234.5 155.6,235.4 162.2,235.1"/>
<polyline points="137.4,235.7 142.5,236.4 146.2,237.2"/>
<polyline points="161.2,234.1 168.1,234.3 174.4,234.9"/>
<polyline points="186.8,209.9 191.1,210.2 194.0,211.8"/>
<polyline points="131.4,243.3 135.5,244.7 139.6,245.6"/>
<polyline points="143.0,239.2 148.6,238.9 153.3,239.3"/>
<polyline points="139.3,233.6 145.1,235.1 149.2,235.7"/>
<polyline points="133.9,245.7 141.3,248.0 147.2,249.5"/>
<polyline points="175.7,225.6 179.2,226.7 184.1,227.0"/>
<polyline points="162.8,222.6 168.7,224.3 174.5,224.9"/>
<polyline points="182.6,216.4 188.0,217.6 193.1,219.0"/>
<polyline points="187.2,214.8 192.0,216.9 196.1,217.4"/>
<polyline points="170.6,224.2 175.8,225.0 181.2,224.5"/>
<polyline points="180.8,227.0 185.8,228.2 190.6,228.3"/>
<polyline points="131.3,240.4 135.5,241.5 140.4,240.8"/>
<polyline points="143.8,244.4 148.7,243.9 151.7,245.1"/>
<polyline points="132.7,238.5 137.0,238.0 142.4,238.7"/>
<polyline points="129.9,247.7 134.1,248.5 138.1,247.8"/>
<polyline points="169.5,227.3 176.9,228.0 182.9,230.1"/>
<polyline points="130.7,244.9 136.7,245.1 141.6,246.6"/>
<polyline points="173.5,223.7 177.2,224.3 181.8,224.7"/>
<polyline points="164.1,233.7 169.7,234.5 176.9,234.8"/>
<polyline points="140.2,244.0 144.9,244.7 148.3,246.4"/>
<polyline points="146.6,232.3 150.5,232.9 153.5,233.2"/>
<polyline points="156.0,235.7 160.3,235.1 165.1,236.4"/>
<polyline points="179.7,214.2 187.1,214.3 193.3,214.6"/>
<polyline points="152.4,229.8 157.3,229.1 163.4,229.8"/>
<polyline points="180.6,212.2 187.7,212.2 193.7,213.7"/>
<polyline points="173.3,223.1 181.3,224.7 188.1,225.9"/>
<polyline points="175.3,221.7 182.3,222.6 188.9,224.0"/>
<polyline points="129.7,248.1 134.3,248.7 139.8,249.1"/>
<polyline points="154.3,237.0 160.5,237.9 165.5,239.0"/>
<polyline points="162.0,231.7 169.2,233.2 174.8,234.5"/>
<polyline points="161.6,226.1 166.7,227.3 171.8,226.8"/>
<polyline points="129.0,242.0 134.8,242.4 139.1,244.3"/>
<polyline points="178.6,221.6 181.7,222.8 185.1,222.7"/>
<polyline points="177.1,224.3 180.7,224.6 183.4,225.1"/>
<polyline points="172.7,224.7 179.1,226.5 186.9,226.5"/>
<polyline points="134.9,247.7 140.8,248.7 145.0,249.5"/>
<polyline points="108.9,258.0 114.7,257.8 121.4,258.6"/>
<polyline points="126.1,253.3 131.2,253.6 136.6,252.7"/>
<polyline points="110.7,255.0 114.1,256.1 118.5,255.9"/>
<polyline points="122.6,250.9 127.1,251.2 133.0,251.0"/>
<polyline points="111.6,256.5 115.9,255.9 118.2,255.7"/>
<polyline points="131.7,249.5 138.0,248.9 143.6,249.9"/>
<polyline points="124.7,254.3 128.3,254.1 130.4,253.8"/>
<polyline points="111.3,256.7 117.0,255.4 122.6,255.7"/>
<polyline points="129.9,249.3 133.0,248.3 135.2,248.9"/>
<polyline points="119.7,251.5 125.0,251.4 130.2,251.4"/>
<polyline points="121.6,253.7 124.4,253.2 127.4,253.8"/>
<polyline points="132.2,254.0 135.7,253.7 138.3,253.2"/>
<polyline points="108.7,258.5 112.6,259.2 117.0,259.6"/>
<polyline points="132.8,249.3 136.3,249.1 139.2,248.9"/>
<polyline points="114.7,255.8 119.4,255.5 122.2,254.8"/>
<polyline points="116.6,258.4 119.2,257.5 123.6,258.1"/>
<polyline points="214.5,153.5 219.2,153.0 221.9,154.5"/>
<polyline points="217.6,162.2 224.7,163.1 233.0,164.6"/>
<polyline points="210.9,169.0 215.7,169.7 219.1,168.9"/>
<polyline points="211.2,163.0 216.1,163.9 222.0,165.0"/>
<polyline points="200.0,182.9 204.8,184.0 209.4,183.5"/>
<polyline points="207.3,171.8 215.0,173.9 222.7,174.3"/>
<polyline points="190.4,205.4 198.3,205.5 205.4,204.7"/>
<polyline points="205.0,192.0 207.7,191.7 211.9,193.2"/>
<polyline points="212.2,184.3 217.1,184.0 222.0,185.0"/>
<polyline points="218.0,157.6 223.2,157.1 227.0,157.3"/>
<polyline points="217.7,159.4 221.9,160.1 224.5,159.6"/>
<polyline points="201.5,180.2 207.0,181.3 211.1,180.7"/>
<polyline points="208.7,168.0 216.8,166.7 223.2,166.7"/>
<polyline points="209.2,180.4 211.4,181.7 215.4,181.7"/>
<polyline points="208.0,176.5 214.2,176.8 219.6,178.1"/>
<polyline points="191.1,200.8 197.0,200.5 203.3,200.8"/>
<polyline points="214.0,176.3 219.2,177.3 223.0,177.0"/>
<polyline points="222.4,164.9 228.3,164.1 234.8,163.7"/>
<polyline points="199.8,178.5 207.2,179.1 215.3,178.1"/>
<polyline points="208.9,170.4 215.2,170.1 220.7,170.4"/>
<polyline points="192.8,202.0 198.4,203.7 205.6,204.1"/>
<polyline points="208.6,175.4 211.3,175.7 215.7,176.6"/>
<polyline points="212.2,169.2 219.3,170.1 226.9,169.8"/>
<polyline points="201.2,209.6 208.0,209.6 213.5,208.9"/>
<polyline points="210.5,176.9 214.7,177.6 220.0,178.1"/>
<polyline points="202.0,177.7 206.5,178.4 212.4,178.3"/>
<polyline points="210.0,164.6 218.0,165.7 225.3,167.1"/>
<polyline points="194.9,191.5 201.8,192.2 210.4,191.2"/>
<polyline points="215.7,173.8 221.2,173.7 227.8,172.9"/>
<polyline points="216.3,167.6 222.9,167.3 230.7,168.4"/>
<polyline points="211.1,159.2 216.8,159.1 221.1,159.5"/>
<polyline points="209.0,177.4 214.3,177.8 219.6,177.8"/>
<polyline points="202.6,183.0 209.6,185.3 217.7,185.7"/>
<polyline points="197.2,205.2 201.3,206.8 204.7,206.5"/>
<polyline points="209.7,175.6 214.8,175.7 220.0,174.7"/>
<polyline points="209.0,188.6 215.6,188.0 221.1,188.8"/>
<polyline points="216.4,157.6 224.2,158.0 231.7,158.3"/>
<polyline points="197.5,194.3 203.2,195.4 208.3,195.7"/>
<polyline points="209.8,169.8 214.2,171.3 220.0,171.4"/>
<polyline points="211.8,157.0 217.5,158.2 224.2,159.1"/>
<polyline points="214.8,156.8 218.3,158.1 223.1,157.6"/>
<polyline points="223.2,156.8 227.9,157.7 232.9,158.1"/>
<polyline points="217.7,166.6 223.5,167.5 229.7,167.1"/>
<polyline points="221.4,164.7 227.2,164.4 231.1,164.6"/>
<polyline points="207.1,170.0 211.5,169.2 215.3,169.5"/>
<polyline points="204.3,169.3 210.2,169.4 217.0,170.6"/>
<polyline points="203.6,194.7 208.3,195.4 211.8,194.3"/>
<polyline points="198.9,198.7 206.5,199.5 213.9,200.2"/>
<polyline points="217.9,168.9 224.5,168.7 229.8,170.3"/>
<polyline points="210.9,165.5 215.8,165.7 220.6,165.6"/>
<polyline points="206.0,175.3 213.0,175.1 218.3,175.4"/>
<polyline points="201.5,208.3 208.8,209.3 215.4,210.6"/>
<polyline points="207.0,206.6 210.8,205.8 214.2,206.9"/>
<polyline points="207.3,187.0 211.4,187.4 216.7,188.3"/>
<polyline points="210.7,162.1 216.3,162.6 220.0,161.6"/>
<polyline points="215.1,154.0 218.9,154.8 222.5,154.4"/>
<polyline points="209.7,182.6 214.9,182.6 220.5,183.7"/>
<polyline points="217.9,172.3 225.9,174.0 232.5,175.1"/>
<polyline points="202.9,178.8 207.7,180.1 210.6,179.9"/>
<polyline points="207.7,194.1 213.8,194.5 221.4,195.8"/>
<polyline points="207.5,202.2 213.1,201.8 217.8,201.9"/>
<polyline points="210.3,175.3 218.1,175.9 225.2,175.5"/>
<polyline points="613.7,159.9 616.9,160.6 620.5,160.7"/>
<polyline points="606.2,159.3 608.8,158.5 612.1,159.0"/>
<polyline points="641.0,165.7 645.3,167.8 650.7,168.3"/>
<polyline points="646.5,171.8 650.2,171.3 653.5,171.6"/>
<polyline points="602.8,155.1 607.0,155.2 611.9,155.6"/>
<polyline points="634.6,171.2 637.7,172.0 638.9,171.4"/>
<polyline points="646.4,169.8 648.5,169.9 651.3,170.1"/>
<polyline points="592.5,155.7 595.1,156.2 596.4,156.7"/>
<polyline points="655.5,170.0 659.0,170.9 662.1,171.8"/>
<polyline points="589.3,149.8 592.3,150.1 595.9,150.1"/>
<polyline points="635.7,166.0 640.2,166.9 642.9,166.6"/>
<polyline points="635.7,170.2 637.2,169.5 640.3,170.4"/>
<polyline points="588.1,153.7 590.8,155.3 592.6,155.1"/>
<polyline points="645.1,165.3 647.2,164.9 650.6,166.5"/>
<polyline points="625.1,168.6 627.4,167.7 630.1,168.6"/>
<polyline points="621.7,165.0 622.8,164.7 625.9,165.5"/>
<polyline points="636.3,171.2 638.0,171.4 640.9,171.9"/>
<polyline points="594.4,150.7 598.6,152.1 603.7,151.9"/>
<polyline points="653.0,170.0 655.9,170.7 658.2,170.2"/>
<polyline points="652.6,167.4 654.3,167.3 656.7,167.9"/>
<polyline points="597.5,150.2 600.3,151.3 603.1,152.2"/>
<polyline points="621.3,163.6 624.0,164.4 628.3,164.7"/>
<polyline points="635.7,169.4 639.8,170.1 642.7,169.9"/>
<polyline points="590.1,152.3 594.2,152.2 598.6,152.5"/>
<polyline points="603.0,155.8 606.3,156.5 610.8,157.7"/>
<polyline points="635.4,161.6 637.7,161.6 639.4,162.9"/>
<polyline points="657.8,173.3 662.1,174.2 665.0,173.6"/>
<polyline points="634.2,167.5 639.0,168.9 643.8,169.9"/>
<polyline points="645.6,169.8 649.2,170.4 653.3,170.1"/>
<polyline points="642.7,172.9 645.6,173.3 646.8,172.9"/>
<polyline points="662.0,174.3 663.8,175.3 666.7,175.9"/>
<polyline points="644.8,164.5 646.8,165.3 650.0,166.3"/>
<polyline points="602.6,152.5 604.0,152.8 606.8,152.4"/>
<polyline points="643.1,171.7 646.7,172.9 651.8,172.7"/>
<polyline points="619.2,157.9 622.3,157.9 624.4,158.4"/>
<polyline points="587.0,150.4 591.8,150.9 597.1,150.2"/>
<polyline points="630.7,164.3 633.4,166.2 638.0,166.1"/>
<polyline points="610.5,161.0 614.9,160.7 620.6,162.2"/>
<polyline points="590.2,151.9 594.3,152.1 596.7,153.8"/>
<polyline points="660.3,167.6 663.0,168.6 665.3,169.1"/>
<polyline points="660.8,170.2 663.7,170.9 665.0,171.4"/>
<polyline points="624.4,169.1 628.5,169.0 632.3,169.7"/>
<polyline points="597.3,154.8 601.0,154.2 605.1,155.3"/>
<polyline points="637.4,171.4 639.9,172.9 643.2,172.5"/>
<polyline points="617.7,164.8 623.1,164.2 626.9,164.6"/>
<polyline points="608.2,159.0 611.6,159.7 616.8,161.9"/>
<polyline points="653.3,168.8 657.2,169.3 659.8,171.0"/>
<polyline points="659.7,171.5 661.5,171.2 664.9,171.3"/>
<polyline points="658.0,175.2 661.6,176.7 664.2,177.3"/>
<polyline points="647.2,173.7 651.1,174.3 655.7,176.2"/>
<polyline points="619.4,159.3 621.2,160.4 624.3,160.5"/>
<polyline points="591.9,149.8 593.2,150.2 596.0,149.6"/>
<polyline points="608.4,153.9 610.5,153.5 614.6,154.8"/>
<polyline points="606.0,157.0 609.3,157.9 612.6,157.0"/>
<polyline points="633.2,164.3 635.5,165.3 638.3,164.5"/>
<polyline points="658.7,167.3 663.9,168.7 667.4,169.1"/>
<polyline points="633.1,162.5 638.9,163.6 643.1,163.1"/>
<polyline points="611.1,161.6 613.9,162.4 617.4,163.3"/>
<polyline points="626.3,160.7 631.3,160.3 636.7,160.2"/>
<polyline points="630.1,165.4 632.8,165.3 637.3,167.1"/>
<polyline points="606.8,155.4 609.4,157.3 613.5,157.8"/>
<polyline points="609.6,157.6 613.3,158.3 618.1,159.4"/>
<polyline points="585.3,156.0 589.1,157.7 594.1,158.8"/>
<polyline points="618.5,158.8 623.5,159.2 628.1,159.1"/>
<polyline points="597.5,155.6 599.5,157.3 602.6,157.2"/>
<polyline points="606.6,156.5 610.3,157.5 614.9,159.2"/>
<polyline points="607.3,152.8 609.2,153.8 612.1,153.6"/>
<polyline points="596.1,151.3 599.6,150.7 604.1,151.1"/>
<polyline points="625.8,166.0 627.6,165.8 630.0,167.4"/>
<polyline points="612.5,161.5 615.4,162.8 619.2,162.1"/>
<polyline points="645.1,173.0 650.2,173.1 654.6,174.8"/>
<polyline points="594.5,159.1 599.0,160.6 603.1,160.6"/>
<polyline points="601.5,153.3 606.1,153.5 610.2,153.6"/>
<polyline points="603.2,156.0 606.5,156.7 607.8,156.3"/>
<polyline points="645.0,167.3 648.9,169.5 653.8,169.8"/>
<polyline points="648.5,165.6 651.1,164.9 653.1,165.6"/>
<polyline points="599.3,150.9 602.4,150.6 605.2,151.6"/>
<polyline points="708.0,161.9 711.4,162.9 713.7,163.0"/>
<polyline points="713.2,157.5 716.9,156.4 719.6,156.3"/>
<polyline points="705.0,157.8 709.8,159.5 715.0,159.2"/>
<polyline points="689.8,160.4 692.6,160.9 694.7,161.1"/>
<polyline points="723.4,157.6 728.5,157.3 733.0,157.8"/>
<polyline points="687.7,161.9 692.2,162.5 698.1,161.8"/>
<polyline points="719.4,164.0 721.6,163.9 725.6,162.7"/>
<polyline points="699.3,163.3 704.5,162.6 708.3,162.8"/>
<polyline points="709.1,163.6 711.8,164.2 715.4,163.7"/>
<polyline points="693.8,159.5 696.9,159.9 701.4,159.7"/>
<polyline points="721.8,158.9 726.8,158.1 731.6,158.2"/>
<polyline points="686.7,160.3 689.7,160.3 693.7,159.8"/>
<polyline points="714.0,159.4 720.0,157.5 724.2,157.6"/>
<polyline points="708.2,161.7 713.4,161.7 716.9,161.3"/>
<polyline points="703.4,157.4 705.1,156.6 708.3,156.9"/>
<polyline points="718.8,159.7 724.3,159.4 728.6,160.9"/>
<polyline points="722.4,156.2 727.3,156.5 731.7,157.2"/>
<polyline points="690.6,154.8 693.4,154.5 696.1,155.1"/>
<polyline points="693.1,156.7 696.5,157.0 700.2,157.3"/>
<polyline points="707.0,160.2 712.6,159.6 717.2,160.0"/>
<polyline points="700.9,156.9 703.4,156.9 705.0,156.7"/>
<polyline points="702.7,163.1 707.4,162.9 710.4,162.6"/>
<polyline points="710.2,158.1 714.1,158.7 718.8,159.8"/>
<polyline points="711.0,160.1 713.8,160.6 716.2,160.2"/>
<polyline points="717.0,159.7 720.6,159.5 724.2,159.5"/>
<polyline points="686.1,155.3 690.6,156.7 695.2,157.1"/>
<polyline points="694.4,157.0 697.7,156.9 702.9,157.0"/>
<polyline points="724.0,160.4 727.1,161.6 728.5,161.4"/>
<polyline points="385.6,402.1 387.2,402.3 388.9,402.5"/>
<polyline points="392.9,408.8 395.0,408.5 396.4,408.9"/>
<polyline points="393.7,413.3 394.9,415.4 397.1,418.5"/>
<polyline points="395.4,416.9 398.8,417.4 400.6,416.5"/>
<polyline points="387.4,402.0 389.8,401.2 393.3,399.6"/>
<polyline points="392.0,409.8 394.9,410.7 397.3,412.3"/>
<polyline points="386.1,398.2 387.2,399.8 387.6,400.9"/>
<polyline points="388.0,397.5 389.4,398.9 391.3,400.3"/>
<polyline points="383.1,399.5 384.8,401.3 387.1,401.9"/>
<polyline points="398.3,419.5 399.1,418.3 401.2,418.7"/>
<polyline points="393.8,414.3 397.1,414.6 399.9,413.8"/>
<polyline points="395.7,418.2 397.8,419.9 401.5,420.9"/>
<polyline points="400.3,419.3 401.1,420.1 402.3,421.8"/>
<polyline points="389.4,408.2 391.9,407.5 393.2,407.6"/>
<polyline points="382.7,402.5 384.0,402.4 385.0,403.7"/>
<polyline points="384.6,401.1 386.3,402.5 388.0,403.6"/>
<polyline points="395.0,404.4 396.7,406.2 398.7,408.5"/>
<polyline points="393.9,411.9 397.6,411.9 399.7,413.4"/>
<polyline points="385.1,400.4 385.8,402.0 387.4,405.3"/>
<polyline points="394.9,419.0 397.7,421.0 398.7,422.9"/>
<polyline points="400.9,421.7 404.1,421.5 406.5,420.1"/>
<polyline points="387.1,398.1 388.0,399.0 389.5,399.5"/>
<polyline points="398.2,422.7 400.3,423.6 402.3,423.6"/>
<polyline points="405.4,419.2 405.8,421.2 408.1,424.2"/>
<polyline points="390.9,402.2 392.8,401.9 393.9,401.8"/>
<polyline points="383.3,400.3 385.0,402.3 385.4,403.1"/>
<polyline points="396.3,406.6 399.3,409.5 400.7,410.6"/>
<polyline points="382.9,404.3 384.9,404.1 386.7,403.4"/>
<polyline points="390.1,410.0 392.4,412.2 394.1,414.5"/>
<polyline points="382.8,397.0 384.5,397.5 384.3,399.9"/>
<polyline points="389.1,406.5 390.5,407.6 392.7,409.8"/>
<polyline points="385.0,401.8 386.8,401.1 387.8,400.7"/>
<polyline points="383.8,394.9 384.4,396.2 386.0,398.9"/>
<polyline points="395.2,408.2 396.8,408.8 398.0,408.3"/>
<polyline points="390.8,410.2 393.6,411.2 397.3,410.6"/>
<polyline points="382.0,396.4 382.7,397.7 384.6,400.4"/>
<polyline points="396.9,425.9 399.6,426.6 401.0,425.8"/>
<polyline points="383.0,398.0 384.8,397.9 385.8,398.0"/>
<polyline points="385.5,403.3 386.8,402.9 389.0,403.8"/>
<polyline points="400.5,416.4 401.8,419.5 402.9,421.0"/>
<polyline points="394.6,402.9 396.5,404.7 396.8,404.6"/>
<polyline points="394.9,402.9 396.6,404.5 396.4,406.1"/>
<polyline points="396.3,422.7 398.0,421.8 400.1,422.1"/>
<polyline points="402.5,420.7 403.4,421.3 405.7,420.6"/>
<polyline points="385.4,402.9 388.8,403.2 391.0,401.8"/>
<polyline points="382.8,398.0 384.6,399.0 385.6,400.7"/>
<polyline points="392.2,412.1 392.9,414.5 394.6,415.1"/>
<polyline points="387.8,401.8 389.7,401.5 391.6,402.8"/>
<polyline points="391.5,407.7 392.2,409.1 394.1,411.4"/>
<polyline points="388.7,399.1 391.6,399.7 392.7,399.4"/>
<polyline points="399.4,421.9 402.2,422.7 404.2,421.5"/>
<polyline points="386.9,402.2 387.8,403.3 388.6,405.9"/>
<polyline points="399.2,410.5 401.7,413.2 402.9,414.6"/>
<polyline points="380.9,398.9 384.0,401.0 385.6,403.1"/>
<polyline points="401.9,416.2 403.6,418.6 404.1,420.9"/>
<polyline points="396.5,408.8 397.4,411.1 399.5,412.3"/>
<polyline points="395.3,410.0 397.0,411.7 398.0,413.2"/>
<polyline points="391.8,404.4 392.5,404.8 394.6,406.1"/>
<polyline points="399.4,412.9 401.6,413.5 402.0,415.7"/>
<polyline points="396.5,419.2 397.6,422.1 399.5,423.2"/>
<polyline points="386.6,403.2 387.8,403.2 389.3,403.9"/>
<polyline points="401.0,415.5 401.0,416.8 402.6,417.6"/>
<polyline points="397.9,422.9 401.3,421.5 404.0,422.1"/>
<polyline points="385.7,398.4 388.5,399.6 390.0,400.4"/>
<polyline points="400.5,422.0 403.9,422.3 405.6,422.8"/>
<polyline points="382.8,397.6 385.5,397.3 388.9,397.1"/>
<polyline points="398.0,411.6 399.7,410.1 402.4,410.4"/>
<polyline points="395.7,416.9 397.6,418.7 398.2,418.5"/>
<polyline points="384.1,401.2 385.1,401.7 386.9,400.3"/>
<polyline points="392.5,406.9 393.2,407.8 394.7,410.4"/>
<polyline points="387.1,400.5 388.3,403.5 390.5,405.9"/>
<polyline points="387.9,406.2 391.4,405.6 393.7,403.9"/>
<polyline points="396.6,411.2 398.3,412.6 399.3,414.8"/>
<polyline points="580.0,418.6 581.2,421.4 582.8,422.2"/>
<polyline points="579.6,408.5 580.3,409.5 581.7,411.4"/>
<polyline points="576.1,404.7 576.8,405.8 578.7,408.7"/>
<polyline points="575.5,407.2 577.5,409.3 578.3,411.8"/>
<polyline points="573.9,406.0 574.8,407.5 575.0,409.9"/>
<polyline points="583.2,422.3 584.1,425.2 586.1,427.9"/>
<polyline points="581.0,420.4 582.3,420.7 583.1,422.6"/>
<polyline points="585.2,415.3 585.9,417.0 588.1,418.7"/>
<polyline points="580.2,412.2 582.1,414.5 582.5,417.7"/>
<polyline points="574.4,403.1 575.7,404.4 577.9,407.1"/>
<polyline points="578.1,408.7 578.3,411.1 579.4,412.8"/>
<polyline points="576.7,402.3 576.8,404.1 578.5,407.5"/>
<polyline points="577.8,415.4 579.2,415.7 581.4,417.6"/>
<polyline points="577.7,406.6 578.6,408.7 579.1,409.2"/>
<polyline points="584.6,414.8 585.0,416.7 587.3,419.0"/>
<polyline points="579.1,418.5 580.2,421.7 580.9,423.0"/>
<polyline points="575.2,407.5 577.5,409.0 579.1,411.6"/>
<polyline points="576.5,407.9 576.6,409.3 577.4,410.8"/>
<polyline points="574.1,409.0 575.3,412.3 576.0,415.0"/>
<polyline points="679.3,269.2 681.2,268.8 684.2,267.7"/>
<polyline points="661.2,276.9 663.8,275.0 667.9,273.3"/>
<polyline points="698.7,264.4 701.2,265.2 703.2,264.6"/>
<polyline points="650.6,277.6 653.9,277.7 658.2,276.8"/>
<polyline points="687.8,267.7 690.2,268.3 690.8,267.5"/>
<polyline points="664.9,275.9 668.3,272.9 671.3,271.9"/>
<polyline points="731.0,254.9 731.9,254.1 734.5,253.4"/>
<polyline points="666.7,274.1 667.4,273.8 670.0,272.7"/>
<polyline points="643.5,281.1 646.5,280.4 649.2,280.5"/>
<polyline points="741.9,253.6 745.3,253.5 747.2,251.5"/>
<polyline points="676.4,265.4 678.3,264.3 679.8,264.3"/>
<polyline points="666.2,272.0 668.7,273.0 672.2,272.1"/>
<polyline points="702.3,261.2 705.4,259.6 709.1,259.4"/>
<polyline points="674.1,267.1 676.0,265.7 677.2,265.3"/>
<polyline points="736.9,255.6 739.1,256.5 743.0,256.2"/>
<polyline points="632.4,279.5 636.1,279.4 638.1,279.3"/>
<polyline points="725.1,256.2 728.0,255.1 730.9,254.7"/>
<polyline points="727.5,254.6 730.0,256.0 732.9,255.6"/>
<polyline points="694.9,261.2 696.7,260.2 700.2,260.2"/>
<polyline points="665.9,271.7 668.0,271.4 670.6,270.0"/>
<polyline points="672.2,266.9 674.9,264.9 678.2,263.7"/>
<polyline points="646.1,272.7 647.2,272.3 649.2,272.9"/>
<polyline points="662.8,276.0 665.9,273.7 669.0,271.5"/>
<polyline points="694.0,266.4 695.7,265.5 698.7,263.9"/>
<polyline points="657.0,276.6 661.6,275.8 664.5,274.5"/>
<polyline points="631.1,279.8 634.1,278.7 636.6,279.0"/>
<polyline points="644.2,277.2 646.4,276.7 647.3,276.8"/>
<polyline points="670.4,269.8 672.6,270.0 674.2,268.9"/>
<polyline points="669.3,272.4 672.9,272.3 676.3,271.9"/>
<polyline points="630.1,280.1 633.0,281.3 637.7,280.7"/>
<polyline points="651.7,275.3 653.6,274.9 655.1,273.2"/>
<polyline points="675.5,269.9 676.5,270.0 679.2,268.8"/>
<polyline points="687.4,268.4 689.7,268.3 690.6,267.1"/>
<polyline points="753.2,250.6 755.9,251.1 757.1,251.0"/>
<polyline points="662.5,268.9 665.4,268.8 668.4,267.1"/>
<polyline points="655.4,273.7 657.5,273.3 658.3,271.6"/>
<polyline points="722.0,256.2 723.0,256.5 725.8,255.8"/>
<polyline points="652.1,277.0 653.3,276.2 655.3,276.8"/>
<polyline points="652.9,278.4 655.6,278.1 658.8,277.2"/>
<polyline points="691.7,261.2 693.1,260.3 695.4,259.4"/>
<polyline points="702.7,258.1 705.9,256.2 708.8,255.9"/>
<polyline points="684.6,265.6 686.0,265.8 688.7,265.6"/>
<polyline points="730.2,252.6 732.8,250.9 736.1,251.0"/>
<polyline points="742.5,256.1 743.7,255.8 745.8,255.1"/>
<polyline points="718.3,262.6 721.5,260.5 723.5,259.9"/>
<polyline points="660.9,275.6 663.9,275.5 668.0,273.9"/>
<polyline points="739.1,255.8 742.9,254.8 745.6,252.5"/>
<polyline points="711.1,260.9 713.3,260.4 714.0,259.4"/>
<polyline points="705.2,262.2 709.2,261.6 711.4,259.5"/>
<polyline points="674.6,265.3 677.1,265.8 678.3,264.4"/>
<polyline points="680.2,266.5 683.3,267.3 685.8,266.6"/>
<polyline points="692.6,267.1 695.9,265.3 697.8,263.6"/>
<polyline points="664.1,274.3 664.7,274.7 667.2,273.7"/>
<polyline points="632.0,282.5 634.8,282.1 638.9,280.3"/>
<polyline points="695.4,263.4 697.3,261.7 699.5,261.8"/>
<polyline points="680.4,265.7 684.6,263.9 687.5,263.4"/>
<polyline points="706.7,258.9 708.7,258.9 711.3,258.9"/>
<polyline points="693.0,259.4 696.5,259.0 699.5,257.9"/>
<polyline points="678.6,266.7 682.0,266.3 685.4,264.3"/>
<polyline points="654.9,279.0 655.8,277.9 657.7,276.8"/>
<polyline points="695.2,263.6 697.3,264.1 701.1,263.2"/>
<polyline points="663.6,275.0 665.1,275.5 667.0,274.2"/>
<polyline points="695.3,260.7 698.5,260.5 702.7,261.2"/>
<polyline points="731.4,254.8 732.4,254.6 734.5,255.0"/>
<polyline points="721.2,261.1 723.1,260.5 724.0,260.1"/>
<polyline points="711.0,259.1 712.8,258.6 715.8,257.2"/>
<polyline points="652.9,270.5 655.7,270.8 660.3,270.2"/>
<polyline points="684.0,261.7 684.9,261.0 687.1,261.7"/>
<polyline points="645.8,273.4 648.7,272.4 651.2,272.4"/>
<polyline points="747.3,250.9 748.2,250.9 751.1,250.5"/>
<polyline points="633.5,279.6 636.9,279.8 639.0,278.7"/>
<polyline points="690.3,264.3 691.9,264.8 695.2,263.9"/>
<polyline points="726.1,260.4 728.7,259.9 731.7,258.0"/>
<polyline points="722.2,258.4 725.3,257.9 727.9,255.4"/>
<polyline points="704.4,258.2 708.5,257.9 712.0,259.3"/>
<polyline points="705.4,263.3 707.3,262.3 708.6,263.1"/>
<polyline points="729.5,260.4 732.8,259.3 735.1,257.9"/>
<polyline points="728.7,257.5 731.0,258.0 734.6,256.5"/>
<polyline points="669.4,268.9 672.9,266.5 676.1,265.3"/>
<polyline points="710.5,261.2 713.0,261.5 717.4,260.2"/>
<polyline points="744.1,251.6 746.6,250.3 749.0,249.2"/>
<polyline points="672.8,268.4 675.6,268.0 678.7,267.4"/>
<polyline points="731.8,254.3 732.6,255.3 734.8,254.5"/>
<polyline points="714.7,261.1 717.8,260.7 720.3,260.2"/>
<polyline points="728.8,257.5 730.9,257.7 733.9,256.3"/>
<polyline points="735.5,251.1 739.8,251.9 742.2,252.5"/>
<polyline points="727.3,253.9 730.4,253.2 733.8,251.3"/>
<polyline points="675.7,264.4 678.4,262.8 679.4,262.3"/>
<polyline points="723.2,256.8 727.0,256.1 730.1,257.3"/>
<polyline points="640.6,281.5 643.5,279.6 646.0,278.4"/>
<polyline points="674.2,269.7 677.6,267.5 679.8,267.0"/>
<polyline points="647.2,273.8 647.7,273.6 650.0,272.3"/>
<polyline points="729.4,259.1 730.8,259.7 734.2,259.9"/>
<polyline points="750.3,250.4 751.4,249.0 753.0,248.9"/>
<polyline points="654.8,275.5 656.5,273.8 659.3,274.0"/>
<polyline points="710.7,257.6 714.1,256.1 716.4,255.0"/>
<polyline points="727.9,255.0 730.6,254.7 734.1,256.4"/>
<polyline points="651.0,279.7 654.5,277.2 656.8,276.5"/>
<polyline points="727.1,254.8 730.5,254.4 731.9,252.4"/>
<polyline points="686.1,268.2 688.0,266.3 689.9,266.3"/>
<polyline points="742.9,255.7 744.7,253.6 747.6,253.0"/>
<polyline points="644.8,277.0 645.8,278.1 648.2,277.2"/>
<polyline points="646.6,273.6 647.8,273.4 650.6,271.7"/>
<polyline points="654.7,276.6 656.0,276.9 657.6,275.5"/>
<polyline points="736.6,255.5 739.9,256.4 741.3,256.0"/>
<polyline points="630.8,283.7 632.7,281.6 635.4,280.4"/>
<polyline points="650.9,271.3 654.3,270.0 657.7,270.1"/>
<polyline points="697.5,265.8 700.5,263.7 703.0,262.5"/>
<polyline points="635.7,277.5 639.4,275.8 641.7,275.8"/>
<polyline points="676.9,270.4 680.7,269.8 684.0,269.3"/>
<polyline points="671.2,266.4 672.8,265.0 675.0,265.1"/>
<polyline points="731.5,254.5 734.1,253.2 737.6,253.9"/>
<polyline points="686.9,260.2 690.2,259.2 694.5,259.8"/>
<polyline points="673.9,271.0 676.9,270.9 679.3,270.1"/>
<polyline points="683.5,264.2 685.3,264.5 687.5,262.9"/>
<polyline points="733.6,256.8 736.8,254.6 739.6,254.2"/>
<polyline points="698.9,262.0 702.1,261.8 706.2,261.8"/>
<polyline points="659.1,269.3 661.5,268.2 664.4,269.1"/>
<polyline points="689.8,266.9 692.4,266.0 693.6,265.0"/>
<polyline points="649.9,273.4 651.4,273.0 652.9,272.1"/>
<polyline points="682.3,262.6 686.4,261.0 689.4,261.2"/>
<polyline points="658.7,274.8 660.3,275.0 663.3,273.3"/>
<polyline points="658.2,274.3 660.8,274.7 664.4,274.4"/>
<polyline points="711.3,256.5 714.2,256.3 716.9,256.0"/>
<polyline points="740.1,250.7 744.0,249.7 747.5,250.0"/>
<polyline points="732.3,252.2 734.0,252.7 737.3,253.0"/>
<polyline points="754.7,250.7 756.4,250.2 757.9,250.4"/>
<polyline points="732.5,252.1 735.4,251.1 736.4,251.8"/>
<polyline points="738.0,250.8 740.0,251.4 741.4,251.0"/>
<polyline points="688.3,266.4 691.7,265.0 694.9,263.3"/>
<polyline points="688.7,266.8 690.1,265.5 692.6,265.4"/>
<polyline points="743.9,253.6 748.1,253.9 750.4,254.6"/>
<polyline points="744.8,249.6 748.3,250.1 750.6,249.5"/>
<polyline points="718.0,257.8 720.0,257.2 722.0,257.2"/>
<polyline points="689.7,265.7 692.8,263.8 694.5,262.7"/>
<polyline points="661.5,268.4 662.7,268.8 664.7,268.1"/>
<polyline points="712.9,257.1 714.7,256.2 718.1,255.8"/>
<polyline points="694.4,259.8 696.5,259.4 698.2,259.7"/>
<polyline points="747.4,254.7 750.2,253.8 752.9,254.7"/>
<polyline points="640.8,276.0 644.1,275.5 647.1,274.2"/>
<polyline points="661.0,271.3 664.9,271.3 667.1,270.0"/>
<polyline points="171.4,307.8 173.0,308.7 175.8,308.5"/>
<polyline points="184.4,303.8 185.1,303.6 187.8,303.9"/>
<polyline points="179.5,301.6 180.6,301.2 182.7,302.7"/>
<polyline points="188.0,303.3 189.3,304.1 192.5,305.5"/>
<polyline points="177.5,301.8 178.5,303.5 180.9,303.9"/>
<polyline points="170.9,309.9 172.9,309.7 175.6,309.6"/>
<polyline points="171.3,303.5 173.5,303.6 174.5,305.0"/>
<polyline points="187.2,304.6 190.0,305.9 192.5,306.3"/>
<polyline points="170.9,306.5 173.2,307.9 173.9,307.8"/>
<polyline points="175.8,304.9 178.9,304.6 179.9,304.7"/>
<polyline points="166.7,304.7 169.8,305.5 173.0,306.3"/>
<polyline points="178.9,307.1 181.3,306.5 183.5,305.5"/>
<polyline points="170.0,305.6 172.7,305.2 176.1,304.5"/>
<polyline points="172.9,305.3 175.9,303.7 177.9,302.5"/>
<polyline points="279.2,301.7 280.5,299.1 283.0,298.1"/>
<polyline points="265.2,299.3 267.2,299.7 267.4,300.9"/>
<polyline points="261.6,300.9 264.4,300.7 266.3,302.3"/>
<polyline points="276.1,300.9 278.0,300.7 278.6,300.1"/>
<polyline points="278.5,300.0 280.4,301.5 281.4,302.6"/>
<polyline points="245.3,303.1 248.4,302.8 249.6,301.8"/>
<polyline points="240.6,302.1 241.0,302.5 243.1,302.8"/>
<polyline points="234.8,302.9 236.4,303.3 238.4,303.0"/>
<polyline points="277.2,300.4 278.7,300.2 281.0,299.7"/>
<polyline points="259.3,300.0 260.3,301.5 262.9,301.0"/>
<polyline points="249.6,301.4 253.0,301.0 254.5,300.6"/>
<polyline points="253.2,299.3 254.3,299.8 255.2,300.8"/>
<polyline points="249.8,301.4 250.8,301.5 251.7,300.4"/>
<polyline points="265.0,299.4 265.9,300.4 267.1,300.1"/>
<polyline points="277.7,299.5 279.3,300.6 280.8,301.4"/>
<polyline points="280.3,301.6 282.8,301.2 284.7,301.4"/>
</g>
<g stroke="#6e6e6e" stroke-width="1" stroke-dasharray="2 7" shape-rendering="crispEdges">
<line x1="220.5" y1="149" x2="220.5" y2="699" />
<line x1="340.5" y1="149" x2="340.5" y2="699" />
<line x1="460.5" y1="149" x2="460.5" y2="699" />
<line x1="580.5" y1="149" x2="580.5" y2="699" />
<line x1="700.5" y1="149" x2="700.5" y2="699" />
<line x1="820.5" y1="149" x2="820.5" y2="699" />
<line x1="940.5" y1="149" x2="940.5" y2="699" />
<line x1="100" y1="589.5" x2="1000" y2="589.5" />
<line x1="100" y1="479.5" x2="1000" y2="479.5" />
<line x1="100" y1="369.5" x2="1000" y2="369.5" />
<line x1="100" y1="259.5" x2="1000" y2="259.5" />
</g>
<rect x="100.5" y="149.5" width="900" height="550" fill="none" stroke="#000" stroke-width="3" shape-rendering="crispEdges"/>
<g class="gs">
<g font-size="12.4" fill="#000"><text x="74" y="703.6" font-size="11.3" textLength="19" lengthAdjust="spacingAndGlyphs">30N</text>
<text x="74" y="593.6" font-size="11.3" textLength="19" lengthAdjust="spacingAndGlyphs">40N</text>
<text x="74" y="483.6" font-size="11.3" textLength="19" lengthAdjust="spacingAndGlyphs">50N</text>
<text x="74" y="373.6" font-size="11.3" textLength="19" lengthAdjust="spacingAndGlyphs">60N</text>
<text x="74" y="263.6" font-size="11.3" textLength="19" lengthAdjust="spacingAndGlyphs">70N</text>
<text x="74" y="153.6" font-size="11.3" textLength="19" lengthAdjust="spacingAndGlyphs">80N</text>
<text x="90.5" y="714" textLength="20" lengthAdjust="spacingAndGlyphs">30W</text>
<text x="210.5" y="714" textLength="20" lengthAdjust="spacingAndGlyphs">20W</text>
<text x="330.5" y="714" textLength="20" lengthAdjust="spacingAndGlyphs">10W</text>
<text x="457.5" y="714" textLength="6" lengthAdjust="spacingAndGlyphs">0</text>
<text x="571.5" y="714" textLength="18" lengthAdjust="spacingAndGlyphs">10E</text>
<text x="691.5" y="714" textLength="18" lengthAdjust="spacingAndGlyphs">20E</text>
<text x="811.5" y="714" textLength="18" lengthAdjust="spacingAndGlyphs">30E</text>
<text x="931.5" y="714" textLength="18" lengthAdjust="spacingAndGlyphs">40E</text></g><g stroke="#000" stroke-width="1" shape-rendering="crispEdges"><line x1="96" y1="699.5" x2="99" y2="699.5"/>
<line x1="96" y1="589.5" x2="99" y2="589.5"/>
<line x1="96" y1="479.5" x2="99" y2="479.5"/>
<line x1="96" y1="369.5" x2="99" y2="369.5"/>
<line x1="96" y1="259.5" x2="99" y2="259.5"/>
<line x1="96" y1="149.5" x2="99" y2="149.5"/>
<line x1="100.5" y1="701" x2="100.5" y2="704"/>
<line x1="220.5" y1="701" x2="220.5" y2="704"/>
<line x1="340.5" y1="701" x2="340.5" y2="704"/>
<line x1="460.5" y1="701" x2="460.5" y2="704"/>
<line x1="580.5" y1="701" x2="580.5" y2="704"/>
<line x1="700.5" y1="701" x2="700.5" y2="704"/>
<line x1="820.5" y1="701" x2="820.5" y2="704"/>
<line x1="940.5" y1="701" x2="940.5" y2="704"/></g>
</g>
<g font-size="12" fill="#000">
<polygon points="240,742 297,733.5 297,750.5" fill="#6e4032" stroke="#000" stroke-width="1.8" shape-rendering="crispEdges"/>
<polygon points="859.5,742 801,733.5 801,750.5" fill="#1e64dc" stroke="#000" stroke-width="1.8" shape-rendering="crispEdges"/>
<rect x="297" y="734" width="56" height="16" fill="#a00000" stroke="#000" stroke-width="2"/>
<rect x="353" y="734" width="56" height="16" fill="#c00000" stroke="#000" stroke-width="2"/>
<rect x="409" y="734" width="56" height="16" fill="#ff3200" stroke="#000" stroke-width="2"/>
<rect x="465" y="734" width="56" height="16" fill="#ffa000" stroke="#000" stroke-width="2"/>
<rect x="521" y="734" width="56" height="16" fill="#ffffff" stroke="#000" stroke-width="2"/>
<rect x="577" y="734" width="56" height="16" fill="#96f58c" stroke="#000" stroke-width="2"/>
<rect x="633" y="734" width="56" height="16" fill="#50f050" stroke="#000" stroke-width="2"/>
<rect x="689" y="734" width="56" height="16" fill="#1eb41e" stroke="#000" stroke-width="2"/>
<rect x="745" y="734" width="56" height="16" fill="#0fa00f" stroke="#000" stroke-width="2"/>
<text class="gs" x="289.8" y="763.5" font-size="12" textLength="14.5" lengthAdjust="spacingAndGlyphs">−1</text>
<text class="gs" x="337.8" y="763.5" font-size="12" textLength="30.5" lengthAdjust="spacingAndGlyphs">−0.8</text>
<text class="gs" x="393.8" y="763.5" font-size="12" textLength="30.5" lengthAdjust="spacingAndGlyphs">−0.6</text>
<text class="gs" x="449.8" y="763.5" font-size="12" textLength="30.5" lengthAdjust="spacingAndGlyphs">−0.4</text>
<text class="gs" x="505.8" y="763.5" font-size="12" textLength="30.5" lengthAdjust="spacingAndGlyphs">−0.2</text>
<text class="gs" x="567.2" y="763.5" font-size="12" textLength="19.5" lengthAdjust="spacingAndGlyphs">0.2</text>
<text class="gs" x="623.2" y="763.5" font-size="12" textLength="19.5" lengthAdjust="spacingAndGlyphs">0.4</text>
<text class="gs" x="679.0" y="763.5" font-size="12" textLength="20" lengthAdjust="spacingAndGlyphs">0.6</text>
<text class="gs" x="734.8" y="763.5" font-size="12" textLength="20.5" lengthAdjust="spacingAndGlyphs">0.8</text>
<text class="gs" x="801.5" y="763.5" font-size="12" text-anchor="middle">1</text>
</g>
<g class="ns">
<text x="307.7" y="110.2" font-size="21.6" fill="#ee0000" textLength="64.5" lengthAdjust="spacingAndGlyphs">CFSv2</text>
<text x="387" y="110.2" font-size="21.6" fill="#ee0000" textLength="92.0" lengthAdjust="spacingAndGlyphs">seasonal</text>
<text x="493.7" y="110.2" font-size="21.6" fill="#ee0000" textLength="47.9" lengthAdjust="spacingAndGlyphs">Prec</text>
<text x="557" y="110.2" font-size="21.6" fill="#ee0000" textLength="106.8" lengthAdjust="spacingAndGlyphs">anomalies</text>
<text x="678.5" y="110.2" font-size="21.6" fill="#ee0000" textLength="112.0" lengthAdjust="spacingAndGlyphs">(mm/day)</text>
<text x="100.2" y="144.6" font-size="18" fill="#1428ff" stroke="#1428ff" stroke-width="0.25" textLength="128.4" lengthAdjust="spacingAndGlyphs">Dec—Jan—Feb</text>
<text x="241.6" y="144.6" font-size="18" fill="#1428ff" stroke="#1428ff" stroke-width="0.25" textLength="107.5" lengthAdjust="spacingAndGlyphs">2016/2017</text>
<text x="683.4" y="144.5" font-size="12.5" fill="#000" textLength="39.6" lengthAdjust="spacingAndGlyphs">Initial</text>
<text x="732" y="144.5" font-size="12.5" fill="#000" textLength="100.5" lengthAdjust="spacingAndGlyphs">conditions:</text>
<text x="840" y="144.5" font-size="12.5" fill="#000" textLength="159.5" lengthAdjust="spacingAndGlyphs">6Oct2016—15Oct2016</text>
<text x="849" y="119" font-size="17" fill="#000" textLength="152.0" lengthAdjust="spacingAndGlyphs">NWS/NCEP/CPC</text>
</g>

<g>
<clipPath id="lc"><circle cx="925" cy="74.5" r="30.2"/></clipPath>
<g clip-path="url(#lc)" shape-rendering="crispEdges">
<polygon points="880,64.8 896,64.8 902,69.6 910,76 916.4,81.6 922,83.6 924.4,84.8 931.6,81.6 938,79.2 941.2,77.6 946,72 952.4,65.6 970,64 970,110 880,110" fill="#00ffff"/>
<polygon points="880,40 970,40 970,57.2 950,57.2 946,60 942.8,63.2 941.2,66.4 938.8,71.2 935.6,75.2 930,79.2 926,80.8 922,78.4 917.2,74.4 914,70.4 911.6,66.4 908.4,64 903.6,60 900,57.2 880,57.2" fill="#0b1ee0"/>
<polygon points="880,57.2 900,57.2 880,64.8" fill="#fff"/>
<polygon points="970,57.2 950,57.2 970,64" fill="#fff"/>
</g>
<polygon points="916.4,84.8 924.4,84.8 925,86 919,88.8 916,88.8" fill="#fff"/>
<polygon points="938,79.5 941,76.5 941,80 938.5,81" fill="#fff"/>
<text class="gs" x="912" y="64.8" font-size="10" font-weight="bold" fill="#fff" textLength="26" lengthAdjust="spacingAndGlyphs">NOAA</text>
</g>
</svg>
</body></html>
